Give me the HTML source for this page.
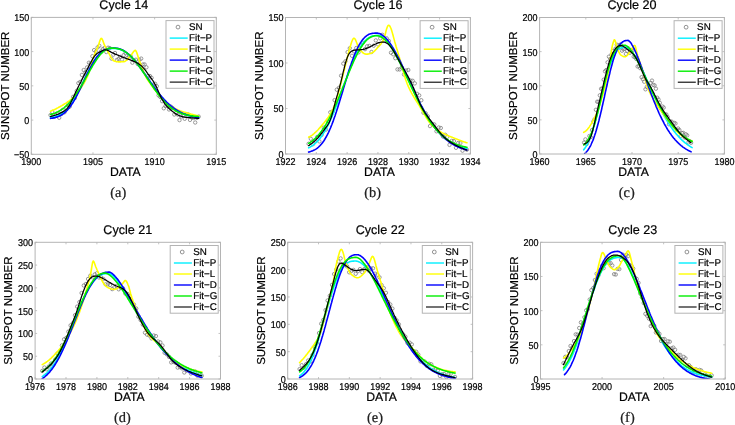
<!DOCTYPE html>
<html><head><meta charset="utf-8"><style>
html,body{margin:0;padding:0;background:#fff;width:735px;height:425px;overflow:hidden}
svg{filter:blur(0.3px)}
svg{display:block;font-family:"Liberation Sans",sans-serif;text-rendering:geometricPrecision;will-change:transform}
text{stroke:#000;stroke-width:0.2px}
</style></head><body>
<svg width="735" height="425" viewBox="0 0 735 425">
<rect width="735" height="425" fill="#fff"/>
<clipPath id="clipa"><rect x="31.3" y="17.4" width="185" height="136.9"/></clipPath>
<g clip-path="url(#clipa)">
<path d="M48.8,115.1a1.7,1.7 0 1,0 3.4,0a1.7,1.7 0 1,0 -3.4,0M50.6,112.0a1.7,1.7 0 1,0 3.4,0a1.7,1.7 0 1,0 -3.4,0M52.3,116.9a1.7,1.7 0 1,0 3.4,0a1.7,1.7 0 1,0 -3.4,0M54.1,115.0a1.7,1.7 0 1,0 3.4,0a1.7,1.7 0 1,0 -3.4,0M55.8,113.3a1.7,1.7 0 1,0 3.4,0a1.7,1.7 0 1,0 -3.4,0M57.5,117.8a1.7,1.7 0 1,0 3.4,0a1.7,1.7 0 1,0 -3.4,0M59.3,114.1a1.7,1.7 0 1,0 3.4,0a1.7,1.7 0 1,0 -3.4,0M61.0,109.9a1.7,1.7 0 1,0 3.4,0a1.7,1.7 0 1,0 -3.4,0M62.8,112.3a1.7,1.7 0 1,0 3.4,0a1.7,1.7 0 1,0 -3.4,0M64.5,107.6a1.7,1.7 0 1,0 3.4,0a1.7,1.7 0 1,0 -3.4,0M66.3,103.6a1.7,1.7 0 1,0 3.4,0a1.7,1.7 0 1,0 -3.4,0M68.0,106.6a1.7,1.7 0 1,0 3.4,0a1.7,1.7 0 1,0 -3.4,0M69.8,101.7a1.7,1.7 0 1,0 3.4,0a1.7,1.7 0 1,0 -3.4,0M71.5,96.8a1.7,1.7 0 1,0 3.4,0a1.7,1.7 0 1,0 -3.4,0M73.2,98.0a1.7,1.7 0 1,0 3.4,0a1.7,1.7 0 1,0 -3.4,0M75.0,90.9a1.7,1.7 0 1,0 3.4,0a1.7,1.7 0 1,0 -3.4,0M76.7,83.1a1.7,1.7 0 1,0 3.4,0a1.7,1.7 0 1,0 -3.4,0M78.5,81.9a1.7,1.7 0 1,0 3.4,0a1.7,1.7 0 1,0 -3.4,0M80.2,74.9a1.7,1.7 0 1,0 3.4,0a1.7,1.7 0 1,0 -3.4,0M82.0,70.0a1.7,1.7 0 1,0 3.4,0a1.7,1.7 0 1,0 -3.4,0M83.7,72.4a1.7,1.7 0 1,0 3.4,0a1.7,1.7 0 1,0 -3.4,0M85.4,67.4a1.7,1.7 0 1,0 3.4,0a1.7,1.7 0 1,0 -3.4,0M87.2,62.7a1.7,1.7 0 1,0 3.4,0a1.7,1.7 0 1,0 -3.4,0M88.9,63.5a1.7,1.7 0 1,0 3.4,0a1.7,1.7 0 1,0 -3.4,0M90.7,56.2a1.7,1.7 0 1,0 3.4,0a1.7,1.7 0 1,0 -3.4,0M92.4,50.1a1.7,1.7 0 1,0 3.4,0a1.7,1.7 0 1,0 -3.4,0M94.2,51.6a1.7,1.7 0 1,0 3.4,0a1.7,1.7 0 1,0 -3.4,0M95.9,47.4a1.7,1.7 0 1,0 3.4,0a1.7,1.7 0 1,0 -3.4,0M97.6,45.8a1.7,1.7 0 1,0 3.4,0a1.7,1.7 0 1,0 -3.4,0M99.4,51.4a1.7,1.7 0 1,0 3.4,0a1.7,1.7 0 1,0 -3.4,0M101.1,49.1a1.7,1.7 0 1,0 3.4,0a1.7,1.7 0 1,0 -3.4,0M102.9,47.9a1.7,1.7 0 1,0 3.4,0a1.7,1.7 0 1,0 -3.4,0M104.6,52.0a1.7,1.7 0 1,0 3.4,0a1.7,1.7 0 1,0 -3.4,0M106.4,47.7a1.7,1.7 0 1,0 3.4,0a1.7,1.7 0 1,0 -3.4,0M108.1,48.1a1.7,1.7 0 1,0 3.4,0a1.7,1.7 0 1,0 -3.4,0M109.8,58.6a1.7,1.7 0 1,0 3.4,0a1.7,1.7 0 1,0 -3.4,0M111.6,54.7a1.7,1.7 0 1,0 3.4,0a1.7,1.7 0 1,0 -3.4,0M113.3,53.0a1.7,1.7 0 1,0 3.4,0a1.7,1.7 0 1,0 -3.4,0M115.1,60.0a1.7,1.7 0 1,0 3.4,0a1.7,1.7 0 1,0 -3.4,0M116.8,59.0a1.7,1.7 0 1,0 3.4,0a1.7,1.7 0 1,0 -3.4,0M118.5,56.9a1.7,1.7 0 1,0 3.4,0a1.7,1.7 0 1,0 -3.4,0M120.3,59.5a1.7,1.7 0 1,0 3.4,0a1.7,1.7 0 1,0 -3.4,0M122.0,55.1a1.7,1.7 0 1,0 3.4,0a1.7,1.7 0 1,0 -3.4,0M123.8,53.3a1.7,1.7 0 1,0 3.4,0a1.7,1.7 0 1,0 -3.4,0M125.5,58.2a1.7,1.7 0 1,0 3.4,0a1.7,1.7 0 1,0 -3.4,0M127.3,56.0a1.7,1.7 0 1,0 3.4,0a1.7,1.7 0 1,0 -3.4,0M129.0,56.4a1.7,1.7 0 1,0 3.4,0a1.7,1.7 0 1,0 -3.4,0M130.7,62.7a1.7,1.7 0 1,0 3.4,0a1.7,1.7 0 1,0 -3.4,0M132.5,60.5a1.7,1.7 0 1,0 3.4,0a1.7,1.7 0 1,0 -3.4,0M134.2,59.7a1.7,1.7 0 1,0 3.4,0a1.7,1.7 0 1,0 -3.4,0M136.0,64.0a1.7,1.7 0 1,0 3.4,0a1.7,1.7 0 1,0 -3.4,0M137.7,59.8a1.7,1.7 0 1,0 3.4,0a1.7,1.7 0 1,0 -3.4,0M139.5,58.6a1.7,1.7 0 1,0 3.4,0a1.7,1.7 0 1,0 -3.4,0M141.2,64.5a1.7,1.7 0 1,0 3.4,0a1.7,1.7 0 1,0 -3.4,0M142.9,64.4a1.7,1.7 0 1,0 3.4,0a1.7,1.7 0 1,0 -3.4,0M144.7,67.3a1.7,1.7 0 1,0 3.4,0a1.7,1.7 0 1,0 -3.4,0M146.4,76.0a1.7,1.7 0 1,0 3.4,0a1.7,1.7 0 1,0 -3.4,0M148.2,76.0a1.7,1.7 0 1,0 3.4,0a1.7,1.7 0 1,0 -3.4,0M149.9,77.8a1.7,1.7 0 1,0 3.4,0a1.7,1.7 0 1,0 -3.4,0M151.7,84.6a1.7,1.7 0 1,0 3.4,0a1.7,1.7 0 1,0 -3.4,0M153.4,83.7a1.7,1.7 0 1,0 3.4,0a1.7,1.7 0 1,0 -3.4,0M155.1,86.2a1.7,1.7 0 1,0 3.4,0a1.7,1.7 0 1,0 -3.4,0M156.9,95.4a1.7,1.7 0 1,0 3.4,0a1.7,1.7 0 1,0 -3.4,0M158.6,97.0a1.7,1.7 0 1,0 3.4,0a1.7,1.7 0 1,0 -3.4,0M160.4,101.2a1.7,1.7 0 1,0 3.4,0a1.7,1.7 0 1,0 -3.4,0M162.1,108.3a1.7,1.7 0 1,0 3.4,0a1.7,1.7 0 1,0 -3.4,0M163.8,106.0a1.7,1.7 0 1,0 3.4,0a1.7,1.7 0 1,0 -3.4,0M165.6,105.5a1.7,1.7 0 1,0 3.4,0a1.7,1.7 0 1,0 -3.4,0M167.3,109.5a1.7,1.7 0 1,0 3.4,0a1.7,1.7 0 1,0 -3.4,0M169.1,106.6a1.7,1.7 0 1,0 3.4,0a1.7,1.7 0 1,0 -3.4,0M170.8,107.9a1.7,1.7 0 1,0 3.4,0a1.7,1.7 0 1,0 -3.4,0M172.6,114.5a1.7,1.7 0 1,0 3.4,0a1.7,1.7 0 1,0 -3.4,0M174.3,113.0a1.7,1.7 0 1,0 3.4,0a1.7,1.7 0 1,0 -3.4,0M176.0,114.6a1.7,1.7 0 1,0 3.4,0a1.7,1.7 0 1,0 -3.4,0M177.8,120.1a1.7,1.7 0 1,0 3.4,0a1.7,1.7 0 1,0 -3.4,0M179.5,116.5a1.7,1.7 0 1,0 3.4,0a1.7,1.7 0 1,0 -3.4,0M181.3,115.3a1.7,1.7 0 1,0 3.4,0a1.7,1.7 0 1,0 -3.4,0M183.0,118.8a1.7,1.7 0 1,0 3.4,0a1.7,1.7 0 1,0 -3.4,0M184.8,114.5a1.7,1.7 0 1,0 3.4,0a1.7,1.7 0 1,0 -3.4,0M186.5,114.5a1.7,1.7 0 1,0 3.4,0a1.7,1.7 0 1,0 -3.4,0M188.3,119.9a1.7,1.7 0 1,0 3.4,0a1.7,1.7 0 1,0 -3.4,0M190.0,117.4a1.7,1.7 0 1,0 3.4,0a1.7,1.7 0 1,0 -3.4,0M191.7,118.0a1.7,1.7 0 1,0 3.4,0a1.7,1.7 0 1,0 -3.4,0M193.5,122.5a1.7,1.7 0 1,0 3.4,0a1.7,1.7 0 1,0 -3.4,0M195.2,117.9a1.7,1.7 0 1,0 3.4,0a1.7,1.7 0 1,0 -3.4,0M197.0,116.6a1.7,1.7 0 1,0 3.4,0a1.7,1.7 0 1,0 -3.4,0" fill="none" stroke="#7a7a7a" stroke-width="0.75"/>
<path d="M50.5,117.5 51.1,117.4 51.6,117.4 52.1,117.3 52.6,117.2 53.1,117.1 53.6,117.0 54.1,116.9 54.7,116.7 55.2,116.6 55.7,116.5 56.2,116.3 56.7,116.1 57.2,115.9 57.7,115.8 58.3,115.5 58.8,115.3 59.3,115.1 59.8,114.8 60.3,114.6 60.8,114.3 61.3,114.0 61.9,113.6 62.4,113.3 62.9,112.9 63.4,112.6 63.9,112.2 64.4,111.8 64.9,111.3 65.5,110.8 66.0,110.4 66.5,109.9 67.0,109.3 67.5,108.8 68.0,108.2 68.5,107.6 69.1,107.0 69.6,106.3 70.1,105.7 70.6,105.0 71.1,104.3 71.6,103.5 72.1,102.8 72.7,102.0 73.2,101.2 73.7,100.3 74.2,99.5 74.7,98.6 75.2,97.7 75.7,96.8 76.3,95.9 76.8,94.9 77.3,94.0 77.8,93.0 78.3,92.0 78.8,91.0 79.3,90.0 79.9,88.9 80.4,87.9 80.9,86.8 81.4,85.8 81.9,84.7 82.4,83.6 82.9,82.6 83.5,81.5 84.0,80.4 84.5,79.3 85.0,78.2 85.5,77.2 86.0,76.1 86.5,75.0 87.1,74.0 87.6,72.9 88.1,71.9 88.6,70.9 89.1,69.9 89.6,68.9 90.1,67.9 90.7,67.0 91.2,66.0 91.7,65.1 92.2,64.2 92.7,63.3 93.2,62.4 93.7,61.6 94.3,60.8 94.8,60.0 95.3,59.2 95.8,58.5 96.3,57.8 96.8,57.1 97.3,56.5 97.9,55.8 98.4,55.2 98.9,54.7 99.4,54.1 99.9,53.6 100.4,53.1 100.9,52.7 101.5,52.2 102.0,51.8 102.5,51.4 103.0,51.1 103.5,50.8 104.0,50.5 104.5,50.2 105.1,49.9 105.6,49.7 106.1,49.5 106.6,49.3 107.1,49.2 107.6,49.0 108.1,48.9 108.7,48.8 109.2,48.7 109.7,48.7 110.2,48.6 110.7,48.6 111.2,48.5 111.7,48.5 112.3,48.5 112.8,48.5 113.3,48.5 113.8,48.5 114.3,48.5 114.8,48.5 115.3,48.5 115.9,48.6 116.4,48.6 116.9,48.7 117.4,48.8 117.9,48.9 118.4,49.0 118.9,49.1 119.5,49.3 120.0,49.4 120.5,49.6 121.0,49.8 121.5,50.0 122.0,50.2 122.5,50.4 123.1,50.7 123.6,50.9 124.1,51.2 124.6,51.5 125.1,51.8 125.6,52.2 126.1,52.5 126.7,52.9 127.2,53.3 127.7,53.7 128.2,54.1 128.7,54.5 129.2,54.9 129.7,55.4 130.3,55.9 130.8,56.4 131.3,56.9 131.8,57.4 132.3,57.9 132.8,58.4 133.3,59.0 133.9,59.6 134.4,60.1 134.9,60.7 135.4,61.3 135.9,62.0 136.4,62.6 136.9,63.2 137.5,63.9 138.0,64.5 138.5,65.2 139.0,65.9 139.5,66.6 140.0,67.3 140.5,68.0 141.1,68.7 141.6,69.4 142.1,70.1 142.6,70.8 143.1,71.5 143.6,72.3 144.1,73.0 144.7,73.8 145.2,74.5 145.7,75.2 146.2,76.0 146.7,76.7 147.2,77.5 147.7,78.2 148.3,79.0 148.8,79.7 149.3,80.5 149.8,81.2 150.3,82.0 150.8,82.7 151.3,83.5 151.9,84.2 152.4,84.9 152.9,85.7 153.4,86.4 153.9,87.1 154.4,87.8 154.9,88.5 155.5,89.3 156.0,90.0 156.5,90.6 157.0,91.3 157.5,92.0 158.0,92.7 158.5,93.3 159.1,94.0 159.6,94.6 160.1,95.3 160.6,95.9 161.1,96.5 161.6,97.1 162.1,97.7 162.7,98.3 163.2,98.9 163.7,99.5 164.2,100.0 164.7,100.6 165.2,101.1 165.7,101.7 166.3,102.2 166.8,102.7 167.3,103.2 167.8,103.7 168.3,104.2 168.8,104.7 169.3,105.1 169.9,105.6 170.4,106.0 170.9,106.4 171.4,106.8 171.9,107.2 172.4,107.6 172.9,108.0 173.5,108.4 174.0,108.8 174.5,109.1 175.0,109.5 175.5,109.8 176.0,110.1 176.5,110.5 177.1,110.8 177.6,111.1 178.1,111.4 178.6,111.6 179.1,111.9 179.6,112.2 180.1,112.4 180.7,112.7 181.2,112.9 181.7,113.1 182.2,113.4 182.7,113.6 183.2,113.8 183.7,114.0 184.3,114.2 184.8,114.4 185.3,114.5 185.8,114.7 186.3,114.9 186.8,115.0 187.3,115.2 187.9,115.3 188.4,115.5 188.9,115.6 189.4,115.7 189.9,115.8 190.4,116.0 190.9,116.1 191.5,116.2 192.0,116.3 192.5,116.4 193.0,116.5 193.5,116.6 194.0,116.7 194.5,116.7 195.1,116.8 195.6,116.9 196.1,117.0 196.6,117.0 197.1,117.1 197.6,117.2 198.1,117.2 198.7,117.3" fill="none" stroke="#00f0ff" stroke-width="1.6" stroke-linejoin="round" stroke-linecap="round"/>
<path d="M50.5,111.2 51.1,111.0 51.6,110.8 52.1,110.6 52.6,110.3 53.1,110.1 53.6,109.9 54.1,109.7 54.7,109.4 55.2,109.2 55.7,108.9 56.2,108.7 56.7,108.4 57.2,108.1 57.7,107.9 58.3,107.6 58.8,107.3 59.3,107.0 59.8,106.8 60.3,106.5 60.8,106.2 61.3,105.9 61.9,105.6 62.4,105.3 62.9,105.0 63.4,104.7 63.9,104.3 64.4,104.0 64.9,103.7 65.5,103.4 66.0,103.1 66.5,102.7 67.0,102.4 67.5,102.0 68.0,101.7 68.5,101.3 69.1,100.9 69.6,100.6 70.1,100.2 70.6,99.8 71.1,99.3 71.6,98.9 72.1,98.5 72.7,98.0 73.2,97.5 73.7,97.1 74.2,96.5 74.7,96.0 75.2,95.4 75.7,94.9 76.3,94.3 76.8,93.6 77.3,93.0 77.8,92.3 78.3,91.7 78.8,91.0 79.3,90.2 79.9,89.5 80.4,88.8 80.9,88.0 81.4,87.2 81.9,86.5 82.4,85.7 82.9,84.8 83.5,84.0 84.0,83.1 84.5,82.2 85.0,81.3 85.5,80.3 86.0,79.3 86.5,78.2 87.1,77.1 87.6,76.0 88.1,74.8 88.6,73.5 89.1,72.0 89.6,70.4 90.1,68.7 90.7,66.9 91.2,65.1 91.7,63.3 92.2,61.5 92.7,59.8 93.2,58.1 93.7,56.6 94.3,55.2 94.8,53.9 95.3,52.7 95.8,51.5 96.3,50.4 96.8,49.3 97.3,48.1 97.9,46.9 98.4,45.6 98.9,44.0 99.4,42.3 99.9,40.8 100.4,39.5 100.9,38.6 101.5,38.4 102.0,38.9 102.5,39.8 103.0,41.1 103.5,42.5 104.0,43.9 104.5,45.2 105.1,46.2 105.6,47.2 106.1,48.3 106.6,49.3 107.1,50.2 107.6,51.2 108.1,52.1 108.7,53.0 109.2,53.9 109.7,54.9 110.2,55.8 110.7,56.8 111.2,57.7 111.7,58.5 112.3,59.3 112.8,59.9 113.3,60.5 113.8,60.8 114.3,61.0 114.8,61.2 115.3,61.3 115.9,61.5 116.4,61.6 116.9,61.7 117.4,61.8 117.9,61.8 118.4,61.9 118.9,61.9 119.5,61.9 120.0,61.9 120.5,61.9 121.0,61.8 121.5,61.8 122.0,61.8 122.5,61.7 123.1,61.7 123.6,61.7 124.1,61.6 124.6,61.5 125.1,61.2 125.6,60.9 126.1,60.5 126.7,60.1 127.2,59.6 127.7,59.0 128.2,58.4 128.7,57.8 129.2,57.2 129.7,56.6 130.3,56.1 130.8,55.5 131.3,54.9 131.8,54.3 132.3,53.5 132.8,52.7 133.3,52.0 133.9,51.3 134.4,50.8 134.9,50.5 135.4,50.4 135.9,50.9 136.4,51.8 136.9,53.1 137.5,54.7 138.0,56.4 138.5,58.1 139.0,59.7 139.5,61.1 140.0,62.4 140.5,63.7 141.1,65.0 141.6,66.4 142.1,67.7 142.6,69.0 143.1,70.4 143.6,71.7 144.1,72.9 144.7,74.1 145.2,75.3 145.7,76.4 146.2,77.4 146.7,78.3 147.2,79.2 147.7,80.0 148.3,80.8 148.8,81.5 149.3,82.2 149.8,82.9 150.3,83.6 150.8,84.3 151.3,85.0 151.9,85.8 152.4,86.5 152.9,87.1 153.4,87.8 153.9,88.5 154.4,89.2 154.9,89.9 155.5,90.5 156.0,91.2 156.5,91.8 157.0,92.4 157.5,93.1 158.0,93.7 158.5,94.3 159.1,94.9 159.6,95.4 160.1,96.0 160.6,96.6 161.1,97.1 161.6,97.7 162.1,98.3 162.7,98.8 163.2,99.4 163.7,99.9 164.2,100.4 164.7,100.9 165.2,101.4 165.7,101.9 166.3,102.4 166.8,102.9 167.3,103.3 167.8,103.8 168.3,104.2 168.8,104.6 169.3,105.0 169.9,105.3 170.4,105.7 170.9,106.0 171.4,106.4 171.9,106.7 172.4,107.0 172.9,107.3 173.5,107.6 174.0,107.9 174.5,108.2 175.0,108.5 175.5,108.8 176.0,109.0 176.5,109.3 177.1,109.5 177.6,109.8 178.1,110.0 178.6,110.2 179.1,110.4 179.6,110.6 180.1,110.8 180.7,111.0 181.2,111.2 181.7,111.4 182.2,111.5 182.7,111.7 183.2,111.9 183.7,112.0 184.3,112.2 184.8,112.3 185.3,112.5 185.8,112.6 186.3,112.8 186.8,112.9 187.3,113.1 187.9,113.2 188.4,113.4 188.9,113.5 189.4,113.6 189.9,113.8 190.4,113.9 190.9,114.1 191.5,114.2 192.0,114.3 192.5,114.5 193.0,114.6 193.5,114.7 194.0,114.9 194.5,115.0 195.1,115.1 195.6,115.2 196.1,115.4 196.6,115.5 197.1,115.6 197.6,115.7 198.1,115.9 198.7,116.0" fill="none" stroke="#ffff00" stroke-width="1.6" stroke-linejoin="round" stroke-linecap="round"/>
<path d="M50.5,118.4 51.1,118.3 51.6,118.3 52.1,118.2 52.6,118.1 53.1,118.0 53.6,117.9 54.1,117.8 54.7,117.7 55.2,117.6 55.7,117.4 56.2,117.3 56.7,117.1 57.2,117.0 57.7,116.8 58.3,116.6 58.8,116.4 59.3,116.1 59.8,115.9 60.3,115.6 60.8,115.4 61.3,115.1 61.9,114.8 62.4,114.4 62.9,114.1 63.4,113.7 63.9,113.3 64.4,112.9 64.9,112.4 65.5,112.0 66.0,111.5 66.5,111.0 67.0,110.5 67.5,109.9 68.0,109.3 68.5,108.7 69.1,108.1 69.6,107.4 70.1,106.7 70.6,106.0 71.1,105.3 71.6,104.5 72.1,103.8 72.7,103.0 73.2,102.1 73.7,101.3 74.2,100.4 74.7,99.5 75.2,98.6 75.7,97.7 76.3,96.7 76.8,95.7 77.3,94.7 77.8,93.7 78.3,92.7 78.8,91.7 79.3,90.6 79.9,89.5 80.4,88.5 80.9,87.4 81.4,86.3 81.9,85.2 82.4,84.1 82.9,83.0 83.5,81.9 84.0,80.8 84.5,79.7 85.0,78.5 85.5,77.4 86.0,76.4 86.5,75.3 87.1,74.2 87.6,73.1 88.1,72.1 88.6,71.0 89.1,70.0 89.6,69.0 90.1,68.0 90.7,67.0 91.2,66.1 91.7,65.1 92.2,64.2 92.7,63.3 93.2,62.4 93.7,61.6 94.3,60.8 94.8,60.0 95.3,59.2 95.8,58.5 96.3,57.7 96.8,57.1 97.3,56.4 97.9,55.8 98.4,55.2 98.9,54.6 99.4,54.0 99.9,53.5 100.4,53.0 100.9,52.6 101.5,52.1 102.0,51.7 102.5,51.3 103.0,51.0 103.5,50.6 104.0,50.3 104.5,50.0 105.1,49.8 105.6,49.6 106.1,49.3 106.6,49.1 107.1,49.0 107.6,48.8 108.1,48.7 108.7,48.6 109.2,48.5 109.7,48.4 110.2,48.3 110.7,48.3 111.2,48.2 111.7,48.2 112.3,48.2 112.8,48.1 113.3,48.1 113.8,48.1 114.3,48.1 114.8,48.1 115.3,48.1 115.9,48.2 116.4,48.2 116.9,48.3 117.4,48.3 117.9,48.4 118.4,48.5 118.9,48.7 119.5,48.8 120.0,49.0 120.5,49.2 121.0,49.4 121.5,49.6 122.0,49.8 122.5,50.1 123.1,50.3 123.6,50.6 124.1,50.9 124.6,51.2 125.1,51.6 125.6,51.9 126.1,52.3 126.7,52.7 127.2,53.1 127.7,53.5 128.2,53.9 128.7,54.4 129.2,54.8 129.7,55.3 130.3,55.8 130.8,56.3 131.3,56.8 131.8,57.4 132.3,57.9 132.8,58.5 133.3,59.0 133.9,59.6 134.4,60.2 134.9,60.8 135.4,61.5 135.9,62.1 136.4,62.7 136.9,63.4 137.5,64.0 138.0,64.7 138.5,65.4 139.0,66.0 139.5,66.7 140.0,67.4 140.5,68.1 141.1,68.8 141.6,69.5 142.1,70.3 142.6,71.0 143.1,71.7 143.6,72.4 144.1,73.2 144.7,73.9 145.2,74.6 145.7,75.4 146.2,76.1 146.7,76.8 147.2,77.6 147.7,78.3 148.3,79.0 148.8,79.8 149.3,80.5 149.8,81.2 150.3,82.0 150.8,82.7 151.3,83.4 151.9,84.1 152.4,84.8 152.9,85.6 153.4,86.3 153.9,87.0 154.4,87.7 154.9,88.3 155.5,89.0 156.0,89.7 156.5,90.4 157.0,91.0 157.5,91.7 158.0,92.4 158.5,93.0 159.1,93.6 159.6,94.3 160.1,94.9 160.6,95.5 161.1,96.1 161.6,96.7 162.1,97.3 162.7,97.9 163.2,98.4 163.7,99.0 164.2,99.6 164.7,100.1 165.2,100.6 165.7,101.2 166.3,101.7 166.8,102.2 167.3,102.7 167.8,103.2 168.3,103.6 168.8,104.1 169.3,104.6 169.9,105.0 170.4,105.4 170.9,105.9 171.4,106.3 171.9,106.7 172.4,107.1 172.9,107.5 173.5,107.9 174.0,108.2 174.5,108.6 175.0,109.0 175.5,109.3 176.0,109.6 176.5,110.0 177.1,110.3 177.6,110.6 178.1,110.9 178.6,111.2 179.1,111.5 179.6,111.8 180.1,112.0 180.7,112.3 181.2,112.5 181.7,112.8 182.2,113.0 182.7,113.3 183.2,113.5 183.7,113.7 184.3,113.9 184.8,114.1 185.3,114.3 185.8,114.5 186.3,114.7 186.8,114.9 187.3,115.0 187.9,115.2 188.4,115.4 188.9,115.5 189.4,115.7 189.9,115.8 190.4,115.9 190.9,116.1 191.5,116.2 192.0,116.3 192.5,116.4 193.0,116.6 193.5,116.7 194.0,116.8 194.5,116.9 195.1,117.0 195.6,117.1 196.1,117.2 196.6,117.2 197.1,117.3 197.6,117.4 198.1,117.5 198.7,117.5" fill="none" stroke="#0000ff" stroke-width="1.6" stroke-linejoin="round" stroke-linecap="round"/>
<path d="M50.5,114.6 51.1,114.4 51.6,114.3 52.1,114.1 52.6,114.0 53.1,113.8 53.6,113.6 54.1,113.4 54.7,113.2 55.2,113.0 55.7,112.8 56.2,112.6 56.7,112.4 57.2,112.1 57.7,111.9 58.3,111.6 58.8,111.3 59.3,111.0 59.8,110.7 60.3,110.4 60.8,110.1 61.3,109.8 61.9,109.4 62.4,109.0 62.9,108.7 63.4,108.3 63.9,107.9 64.4,107.5 64.9,107.0 65.5,106.6 66.0,106.1 66.5,105.6 67.0,105.2 67.5,104.7 68.0,104.1 68.5,103.6 69.1,103.1 69.6,102.5 70.1,101.9 70.6,101.3 71.1,100.7 71.6,100.1 72.1,99.4 72.7,98.8 73.2,98.1 73.7,97.4 74.2,96.7 74.7,96.0 75.2,95.3 75.7,94.5 76.3,93.8 76.8,93.0 77.3,92.2 77.8,91.4 78.3,90.6 78.8,89.8 79.3,89.0 79.9,88.1 80.4,87.3 80.9,86.4 81.4,85.6 81.9,84.7 82.4,83.8 82.9,82.9 83.5,82.0 84.0,81.1 84.5,80.2 85.0,79.3 85.5,78.4 86.0,77.5 86.5,76.5 87.1,75.6 87.6,74.7 88.1,73.8 88.6,72.9 89.1,71.9 89.6,71.0 90.1,70.1 90.7,69.2 91.2,68.3 91.7,67.5 92.2,66.6 92.7,65.7 93.2,64.9 93.7,64.0 94.3,63.2 94.8,62.4 95.3,61.6 95.8,60.8 96.3,60.0 96.8,59.3 97.3,58.5 97.9,57.8 98.4,57.1 98.9,56.4 99.4,55.8 99.9,55.1 100.4,54.5 100.9,54.0 101.5,53.4 102.0,52.9 102.5,52.4 103.0,51.9 103.5,51.4 104.0,51.0 104.5,50.6 105.1,50.2 105.6,49.9 106.1,49.6 106.6,49.3 107.1,49.0 107.6,48.8 108.1,48.6 108.7,48.5 109.2,48.3 109.7,48.2 110.2,48.1 110.7,48.1 111.2,48.1 111.7,48.1 112.3,48.1 112.8,48.1 113.3,48.1 113.8,48.1 114.3,48.2 114.8,48.2 115.3,48.2 115.9,48.3 116.4,48.4 116.9,48.5 117.4,48.6 117.9,48.7 118.4,48.8 118.9,48.9 119.5,49.1 120.0,49.2 120.5,49.4 121.0,49.6 121.5,49.8 122.0,50.1 122.5,50.3 123.1,50.5 123.6,50.8 124.1,51.1 124.6,51.4 125.1,51.7 125.6,52.1 126.1,52.4 126.7,52.8 127.2,53.2 127.7,53.6 128.2,54.0 128.7,54.4 129.2,54.9 129.7,55.3 130.3,55.8 130.8,56.3 131.3,56.8 131.8,57.3 132.3,57.9 132.8,58.4 133.3,59.0 133.9,59.6 134.4,60.2 134.9,60.8 135.4,61.4 135.9,62.1 136.4,62.7 136.9,63.4 137.5,64.0 138.0,64.7 138.5,65.4 139.0,66.1 139.5,66.8 140.0,67.5 140.5,68.3 141.1,69.0 141.6,69.7 142.1,70.5 142.6,71.3 143.1,72.0 143.6,72.8 144.1,73.5 144.7,74.3 145.2,75.1 145.7,75.9 146.2,76.7 146.7,77.4 147.2,78.2 147.7,79.0 148.3,79.8 148.8,80.6 149.3,81.4 149.8,82.2 150.3,82.9 150.8,83.7 151.3,84.5 151.9,85.2 152.4,86.0 152.9,86.8 153.4,87.5 153.9,88.3 154.4,89.0 154.9,89.8 155.5,90.5 156.0,91.2 156.5,91.9 157.0,92.6 157.5,93.3 158.0,94.0 158.5,94.7 159.1,95.3 159.6,96.0 160.1,96.6 160.6,97.3 161.1,97.9 161.6,98.5 162.1,99.1 162.7,99.7 163.2,100.3 163.7,100.9 164.2,101.4 164.7,102.0 165.2,102.5 165.7,103.0 166.3,103.5 166.8,104.0 167.3,104.5 167.8,105.0 168.3,105.5 168.8,105.9 169.3,106.3 169.9,106.8 170.4,107.2 170.9,107.6 171.4,108.0 171.9,108.3 172.4,108.7 172.9,109.1 173.5,109.4 174.0,109.7 174.5,110.1 175.0,110.4 175.5,110.7 176.0,111.0 176.5,111.2 177.1,111.5 177.6,111.8 178.1,112.0 178.6,112.3 179.1,112.5 179.6,112.7 180.1,112.9 180.7,113.1 181.2,113.3 181.7,113.5 182.2,113.7 182.7,113.9 183.2,114.0 183.7,114.2 184.3,114.3 184.8,114.5 185.3,114.6 185.8,114.7 186.3,114.9 186.8,115.0 187.3,115.1 187.9,115.2 188.4,115.3 188.9,115.4 189.4,115.5 189.9,115.6 190.4,115.7 190.9,115.7 191.5,115.8 192.0,115.9 192.5,115.9 193.0,116.0 193.5,116.1 194.0,116.1 194.5,116.2 195.1,116.2 195.6,116.3 196.1,116.3 196.6,116.3 197.1,116.4 197.6,116.4 198.1,116.5 198.7,116.5" fill="none" stroke="#00ee00" stroke-width="1.6" stroke-linejoin="round" stroke-linecap="round"/>
<path d="M50.5,116.5 51.1,116.4 51.6,116.2 52.1,116.1 52.6,116.0 53.1,115.8 53.6,115.7 54.1,115.5 54.7,115.4 55.2,115.2 55.7,115.0 56.2,114.9 56.7,114.7 57.2,114.5 57.7,114.3 58.3,114.1 58.8,113.9 59.3,113.7 59.8,113.4 60.3,113.2 60.8,112.9 61.3,112.7 61.9,112.4 62.4,112.1 62.9,111.8 63.4,111.5 63.9,111.2 64.4,110.8 64.9,110.5 65.5,110.1 66.0,109.6 66.5,109.1 67.0,108.6 67.5,108.0 68.0,107.4 68.5,106.7 69.1,105.9 69.6,105.0 70.1,104.1 70.6,103.1 71.1,102.0 71.6,101.0 72.1,99.9 72.7,98.7 73.2,97.6 73.7,96.5 74.2,95.4 74.7,94.3 75.2,93.2 75.7,92.1 76.3,91.0 76.8,90.0 77.3,88.9 77.8,87.9 78.3,86.8 78.8,85.8 79.3,84.7 79.9,83.7 80.4,82.7 80.9,81.7 81.4,80.6 81.9,79.6 82.4,78.6 82.9,77.6 83.5,76.6 84.0,75.6 84.5,74.6 85.0,73.6 85.5,72.6 86.0,71.6 86.5,70.6 87.1,69.6 87.6,68.6 88.1,67.6 88.6,66.6 89.1,65.6 89.6,64.6 90.1,63.6 90.7,62.6 91.2,61.7 91.7,60.7 92.2,59.8 92.7,58.9 93.2,58.1 93.7,57.3 94.3,56.5 94.8,55.8 95.3,55.2 95.8,54.7 96.3,54.2 96.8,53.7 97.3,53.3 97.9,53.0 98.4,52.7 98.9,52.4 99.4,52.1 99.9,51.9 100.4,51.6 100.9,51.3 101.5,51.1 102.0,50.8 102.5,50.6 103.0,50.4 103.5,50.2 104.0,50.0 104.5,49.9 105.1,49.9 105.6,49.9 106.1,49.9 106.6,50.0 107.1,50.1 107.6,50.3 108.1,50.5 108.7,50.8 109.2,51.1 109.7,51.3 110.2,51.6 110.7,51.9 111.2,52.2 111.7,52.5 112.3,52.7 112.8,53.0 113.3,53.2 113.8,53.4 114.3,53.7 114.8,53.9 115.3,54.1 115.9,54.3 116.4,54.5 116.9,54.7 117.4,55.0 117.9,55.2 118.4,55.4 118.9,55.6 119.5,55.8 120.0,56.0 120.5,56.2 121.0,56.4 121.5,56.6 122.0,56.9 122.5,57.1 123.1,57.3 123.6,57.5 124.1,57.7 124.6,57.9 125.1,58.0 125.6,58.2 126.1,58.4 126.7,58.6 127.2,58.8 127.7,59.0 128.2,59.1 128.7,59.3 129.2,59.5 129.7,59.7 130.3,59.9 130.8,60.1 131.3,60.3 131.8,60.5 132.3,60.7 132.8,60.9 133.3,61.1 133.9,61.3 134.4,61.5 134.9,61.7 135.4,62.0 135.9,62.2 136.4,62.5 136.9,62.8 137.5,63.1 138.0,63.4 138.5,63.7 139.0,64.0 139.5,64.4 140.0,64.8 140.5,65.2 141.1,65.6 141.6,66.1 142.1,66.5 142.6,67.1 143.1,67.6 143.6,68.2 144.1,68.8 144.7,69.4 145.2,70.0 145.7,70.7 146.2,71.4 146.7,72.1 147.2,72.8 147.7,73.5 148.3,74.3 148.8,75.0 149.3,75.7 149.8,76.4 150.3,77.1 150.8,77.8 151.3,78.5 151.9,79.2 152.4,80.0 152.9,80.7 153.4,81.5 153.9,82.3 154.4,83.2 154.9,84.1 155.5,85.1 156.0,86.1 156.5,87.1 157.0,88.3 157.5,89.4 158.0,90.6 158.5,91.8 159.1,93.0 159.6,94.1 160.1,95.3 160.6,96.4 161.1,97.5 161.6,98.5 162.1,99.4 162.7,100.3 163.2,101.2 163.7,102.0 164.2,102.8 164.7,103.6 165.2,104.3 165.7,104.9 166.3,105.6 166.8,106.2 167.3,106.7 167.8,107.3 168.3,107.8 168.8,108.3 169.3,108.8 169.9,109.3 170.4,109.7 170.9,110.1 171.4,110.5 171.9,111.0 172.4,111.3 172.9,111.7 173.5,112.1 174.0,112.5 174.5,112.8 175.0,113.2 175.5,113.5 176.0,113.9 176.5,114.2 177.1,114.5 177.6,114.8 178.1,115.0 178.6,115.3 179.1,115.5 179.6,115.8 180.1,116.0 180.7,116.2 181.2,116.3 181.7,116.5 182.2,116.6 182.7,116.8 183.2,116.9 183.7,117.0 184.3,117.1 184.8,117.1 185.3,117.2 185.8,117.3 186.3,117.3 186.8,117.4 187.3,117.5 187.9,117.5 188.4,117.5 188.9,117.6 189.4,117.6 189.9,117.7 190.4,117.7 190.9,117.8 191.5,117.8 192.0,117.9 192.5,117.9 193.0,117.9 193.5,118.0 194.0,118.0 194.5,118.1 195.1,118.1 195.6,118.2 196.1,118.2 196.6,118.3 197.1,118.3 197.6,118.3 198.1,118.4 198.7,118.4" fill="none" stroke="#000000" stroke-width="1.25" stroke-linejoin="round" stroke-linecap="round"/>
</g>
<rect x="31.3" y="17.4" width="185" height="136.9" fill="none" stroke="#b4b4b4" stroke-width="1"/>
<path d="M31.3,154.3 v-2 M31.3,17.4 v2" stroke="#b4b4b4" stroke-width="0.8"/>
<text transform="translate(31.3,165.3) scale(1,1.1)" text-anchor="middle" font-size="9" fill="#000">1900</text>
<path d="M92.97,154.3 v-2 M92.97,17.4 v2" stroke="#b4b4b4" stroke-width="0.8"/>
<text transform="translate(92.97,165.3) scale(1,1.1)" text-anchor="middle" font-size="9" fill="#000">1905</text>
<path d="M154.63,154.3 v-2 M154.63,17.4 v2" stroke="#b4b4b4" stroke-width="0.8"/>
<text transform="translate(154.63,165.3) scale(1,1.1)" text-anchor="middle" font-size="9" fill="#000">1910</text>
<path d="M216.3,154.3 v-2 M216.3,17.4 v2" stroke="#b4b4b4" stroke-width="0.8"/>
<text transform="translate(216.3,165.3) scale(1,1.1)" text-anchor="middle" font-size="9" fill="#000">1915</text>
<path d="M31.3,154.3 h2 M216.3,154.3 h-2" stroke="#b4b4b4" stroke-width="0.8"/>
<text transform="translate(29.3,158.2) scale(1,1.1)" text-anchor="end" font-size="9" fill="#000">−50</text>
<path d="M31.3,120.08 h2 M216.3,120.08 h-2" stroke="#b4b4b4" stroke-width="0.8"/>
<text transform="translate(29.3,123.98) scale(1,1.1)" text-anchor="end" font-size="9" fill="#000">0</text>
<path d="M31.3,85.85 h2 M216.3,85.85 h-2" stroke="#b4b4b4" stroke-width="0.8"/>
<text transform="translate(29.3,89.75) scale(1,1.1)" text-anchor="end" font-size="9" fill="#000">50</text>
<path d="M31.3,51.62 h2 M216.3,51.62 h-2" stroke="#b4b4b4" stroke-width="0.8"/>
<text transform="translate(29.3,55.52) scale(1,1.1)" text-anchor="end" font-size="9" fill="#000">100</text>
<path d="M31.3,17.4 h2 M216.3,17.4 h-2" stroke="#b4b4b4" stroke-width="0.8"/>
<text transform="translate(29.3,21.3) scale(1,1.1)" text-anchor="end" font-size="9" fill="#000">150</text>
<text x="123.8" y="9.3" text-anchor="middle" font-size="12.6" fill="#000">Cycle 14</text>
<text x="125.3" y="176.3" text-anchor="middle" font-size="12.2" fill="#000">DATA</text>
<text transform="translate(8.5,85.85) rotate(-90)" text-anchor="middle" font-size="11.5" fill="#000">SUNSPOT NUMBER</text>
<text x="118.3" y="197.4" text-anchor="middle" font-family="Liberation Serif, serif" font-size="14.4" fill="#222">(a)</text>
<rect x="166" y="20.6" width="48" height="67.7" fill="#fff" stroke="#b4b4b4" stroke-width="1"/>
<circle cx="178" cy="27.1" r="1.9" fill="none" stroke="#777" stroke-width="0.8"/>
<text transform="translate(189,30) scale(1,1)" font-size="9.8" fill="#000">SN</text>
<path d="M169.7,38.1 h18" stroke="#00f0ff" stroke-width="1.4"/>
<text transform="translate(189,41) scale(1,1)" font-size="9.8" fill="#000">Fit−P</text>
<path d="M169.7,49.1 h18" stroke="#ffff00" stroke-width="1.4"/>
<text transform="translate(189,52) scale(1,1)" font-size="9.8" fill="#000">Fit−L</text>
<path d="M169.7,60.1 h18" stroke="#0000ff" stroke-width="1.4"/>
<text transform="translate(189,63) scale(1,1)" font-size="9.8" fill="#000">Fit−D</text>
<path d="M169.7,71.1 h18" stroke="#00ee00" stroke-width="1.4"/>
<text transform="translate(189,74) scale(1,1)" font-size="9.8" fill="#000">Fit−G</text>
<path d="M169.7,82.1 h18" stroke="#000000" stroke-width="1.1"/>
<text transform="translate(189,85) scale(1,1)" font-size="9.8" fill="#000">Fit−C</text>
<clipPath id="clipb"><rect x="285.5" y="17.5" width="184.9" height="136.5"/></clipPath>
<g clip-path="url(#clipb)">
<path d="M306.9,143.8a1.7,1.7 0 1,0 3.4,0a1.7,1.7 0 1,0 -3.4,0M309.1,138.8a1.7,1.7 0 1,0 3.4,0a1.7,1.7 0 1,0 -3.4,0M311.2,144.2a1.7,1.7 0 1,0 3.4,0a1.7,1.7 0 1,0 -3.4,0M313.4,140.7a1.7,1.7 0 1,0 3.4,0a1.7,1.7 0 1,0 -3.4,0M315.6,136.9a1.7,1.7 0 1,0 3.4,0a1.7,1.7 0 1,0 -3.4,0M317.7,141.4a1.7,1.7 0 1,0 3.4,0a1.7,1.7 0 1,0 -3.4,0M319.9,134.9a1.7,1.7 0 1,0 3.4,0a1.7,1.7 0 1,0 -3.4,0M322.1,127.7a1.7,1.7 0 1,0 3.4,0a1.7,1.7 0 1,0 -3.4,0M324.2,129.6a1.7,1.7 0 1,0 3.4,0a1.7,1.7 0 1,0 -3.4,0M326.4,121.2a1.7,1.7 0 1,0 3.4,0a1.7,1.7 0 1,0 -3.4,0M328.6,112.3a1.7,1.7 0 1,0 3.4,0a1.7,1.7 0 1,0 -3.4,0M330.8,111.6a1.7,1.7 0 1,0 3.4,0a1.7,1.7 0 1,0 -3.4,0M332.9,100.1a1.7,1.7 0 1,0 3.4,0a1.7,1.7 0 1,0 -3.4,0M335.1,89.7a1.7,1.7 0 1,0 3.4,0a1.7,1.7 0 1,0 -3.4,0M337.3,87.8a1.7,1.7 0 1,0 3.4,0a1.7,1.7 0 1,0 -3.4,0M339.4,75.7a1.7,1.7 0 1,0 3.4,0a1.7,1.7 0 1,0 -3.4,0M341.6,63.6a1.7,1.7 0 1,0 3.4,0a1.7,1.7 0 1,0 -3.4,0M343.8,61.2a1.7,1.7 0 1,0 3.4,0a1.7,1.7 0 1,0 -3.4,0M345.9,52.1a1.7,1.7 0 1,0 3.4,0a1.7,1.7 0 1,0 -3.4,0M348.1,48.2a1.7,1.7 0 1,0 3.4,0a1.7,1.7 0 1,0 -3.4,0M350.3,55.8a1.7,1.7 0 1,0 3.4,0a1.7,1.7 0 1,0 -3.4,0M352.4,51.4a1.7,1.7 0 1,0 3.4,0a1.7,1.7 0 1,0 -3.4,0M354.6,48.0a1.7,1.7 0 1,0 3.4,0a1.7,1.7 0 1,0 -3.4,0M356.8,52.4a1.7,1.7 0 1,0 3.4,0a1.7,1.7 0 1,0 -3.4,0M358.9,45.7a1.7,1.7 0 1,0 3.4,0a1.7,1.7 0 1,0 -3.4,0M361.1,42.8a1.7,1.7 0 1,0 3.4,0a1.7,1.7 0 1,0 -3.4,0M363.3,49.2a1.7,1.7 0 1,0 3.4,0a1.7,1.7 0 1,0 -3.4,0M365.4,46.3a1.7,1.7 0 1,0 3.4,0a1.7,1.7 0 1,0 -3.4,0M367.6,45.9a1.7,1.7 0 1,0 3.4,0a1.7,1.7 0 1,0 -3.4,0M369.8,52.0a1.7,1.7 0 1,0 3.4,0a1.7,1.7 0 1,0 -3.4,0M372.0,45.7a1.7,1.7 0 1,0 3.4,0a1.7,1.7 0 1,0 -3.4,0M374.1,40.4a1.7,1.7 0 1,0 3.4,0a1.7,1.7 0 1,0 -3.4,0M376.3,44.4a1.7,1.7 0 1,0 3.4,0a1.7,1.7 0 1,0 -3.4,0M378.5,38.4a1.7,1.7 0 1,0 3.4,0a1.7,1.7 0 1,0 -3.4,0M380.6,34.8a1.7,1.7 0 1,0 3.4,0a1.7,1.7 0 1,0 -3.4,0M382.8,40.6a1.7,1.7 0 1,0 3.4,0a1.7,1.7 0 1,0 -3.4,0M385.0,38.4a1.7,1.7 0 1,0 3.4,0a1.7,1.7 0 1,0 -3.4,0M387.1,40.9a1.7,1.7 0 1,0 3.4,0a1.7,1.7 0 1,0 -3.4,0M389.3,52.7a1.7,1.7 0 1,0 3.4,0a1.7,1.7 0 1,0 -3.4,0M391.5,54.3a1.7,1.7 0 1,0 3.4,0a1.7,1.7 0 1,0 -3.4,0M393.6,58.2a1.7,1.7 0 1,0 3.4,0a1.7,1.7 0 1,0 -3.4,0M395.8,69.4a1.7,1.7 0 1,0 3.4,0a1.7,1.7 0 1,0 -3.4,0M398.0,69.4a1.7,1.7 0 1,0 3.4,0a1.7,1.7 0 1,0 -3.4,0M400.1,67.6a1.7,1.7 0 1,0 3.4,0a1.7,1.7 0 1,0 -3.4,0M402.3,74.5a1.7,1.7 0 1,0 3.4,0a1.7,1.7 0 1,0 -3.4,0M404.5,70.5a1.7,1.7 0 1,0 3.4,0a1.7,1.7 0 1,0 -3.4,0M406.6,70.0a1.7,1.7 0 1,0 3.4,0a1.7,1.7 0 1,0 -3.4,0M408.8,80.5a1.7,1.7 0 1,0 3.4,0a1.7,1.7 0 1,0 -3.4,0M411.0,80.8a1.7,1.7 0 1,0 3.4,0a1.7,1.7 0 1,0 -3.4,0M413.1,83.4a1.7,1.7 0 1,0 3.4,0a1.7,1.7 0 1,0 -3.4,0M415.3,93.8a1.7,1.7 0 1,0 3.4,0a1.7,1.7 0 1,0 -3.4,0M417.5,95.4a1.7,1.7 0 1,0 3.4,0a1.7,1.7 0 1,0 -3.4,0M419.6,100.2a1.7,1.7 0 1,0 3.4,0a1.7,1.7 0 1,0 -3.4,0M421.8,112.8a1.7,1.7 0 1,0 3.4,0a1.7,1.7 0 1,0 -3.4,0M424.0,113.3a1.7,1.7 0 1,0 3.4,0a1.7,1.7 0 1,0 -3.4,0M426.1,116.3a1.7,1.7 0 1,0 3.4,0a1.7,1.7 0 1,0 -3.4,0M428.3,126.1a1.7,1.7 0 1,0 3.4,0a1.7,1.7 0 1,0 -3.4,0M430.5,124.1a1.7,1.7 0 1,0 3.4,0a1.7,1.7 0 1,0 -3.4,0M432.6,124.4a1.7,1.7 0 1,0 3.4,0a1.7,1.7 0 1,0 -3.4,0M434.8,131.3a1.7,1.7 0 1,0 3.4,0a1.7,1.7 0 1,0 -3.4,0M437.0,127.5a1.7,1.7 0 1,0 3.4,0a1.7,1.7 0 1,0 -3.4,0M439.1,128.0a1.7,1.7 0 1,0 3.4,0a1.7,1.7 0 1,0 -3.4,0M441.3,136.5a1.7,1.7 0 1,0 3.4,0a1.7,1.7 0 1,0 -3.4,0M443.5,134.8a1.7,1.7 0 1,0 3.4,0a1.7,1.7 0 1,0 -3.4,0M445.6,136.8a1.7,1.7 0 1,0 3.4,0a1.7,1.7 0 1,0 -3.4,0M447.8,144.9a1.7,1.7 0 1,0 3.4,0a1.7,1.7 0 1,0 -3.4,0M450.0,140.9a1.7,1.7 0 1,0 3.4,0a1.7,1.7 0 1,0 -3.4,0M452.2,141.1a1.7,1.7 0 1,0 3.4,0a1.7,1.7 0 1,0 -3.4,0M454.3,147.8a1.7,1.7 0 1,0 3.4,0a1.7,1.7 0 1,0 -3.4,0M456.5,143.0a1.7,1.7 0 1,0 3.4,0a1.7,1.7 0 1,0 -3.4,0M458.7,143.0a1.7,1.7 0 1,0 3.4,0a1.7,1.7 0 1,0 -3.4,0M460.8,150.7a1.7,1.7 0 1,0 3.4,0a1.7,1.7 0 1,0 -3.4,0M463.0,148.1a1.7,1.7 0 1,0 3.4,0a1.7,1.7 0 1,0 -3.4,0M465.2,149.7a1.7,1.7 0 1,0 3.4,0a1.7,1.7 0 1,0 -3.4,0" fill="none" stroke="#7a7a7a" stroke-width="0.75"/>
<path d="M308.6,147.8 309.3,147.5 309.9,147.2 310.5,146.8 311.2,146.4 311.8,146.0 312.5,145.6 313.1,145.1 313.8,144.6 314.4,144.1 315.0,143.6 315.7,143.0 316.3,142.4 317.0,141.8 317.6,141.1 318.3,140.4 318.9,139.6 319.5,138.9 320.2,138.1 320.8,137.2 321.5,136.3 322.1,135.4 322.8,134.4 323.4,133.4 324.1,132.4 324.7,131.3 325.3,130.2 326.0,129.1 326.6,127.9 327.3,126.7 327.9,125.4 328.6,124.1 329.2,122.8 329.8,121.4 330.5,120.0 331.1,118.5 331.8,117.1 332.4,115.6 333.1,114.0 333.7,112.5 334.3,110.9 335.0,109.2 335.6,107.6 336.3,105.9 336.9,104.2 337.6,102.5 338.2,100.8 338.8,99.1 339.5,97.3 340.1,95.5 340.8,93.7 341.4,92.0 342.1,90.2 342.7,88.4 343.3,86.6 344.0,84.8 344.6,83.0 345.3,81.2 345.9,79.5 346.6,77.7 347.2,76.0 347.9,74.2 348.5,72.5 349.1,70.9 349.8,69.2 350.4,67.6 351.1,66.0 351.7,64.4 352.4,62.8 353.0,61.3 353.6,59.8 354.3,58.4 354.9,57.0 355.6,55.6 356.2,54.3 356.9,53.0 357.5,51.8 358.1,50.6 358.8,49.5 359.4,48.4 360.1,47.3 360.7,46.3 361.4,45.4 362.0,44.4 362.6,43.6 363.3,42.8 363.9,42.0 364.6,41.3 365.2,40.6 365.9,40.0 366.5,39.4 367.1,38.9 367.8,38.4 368.4,37.9 369.1,37.5 369.7,37.2 370.4,36.9 371.0,36.6 371.7,36.3 372.3,36.1 372.9,35.9 373.6,35.8 374.2,35.7 374.9,35.6 375.5,35.5 376.2,35.5 376.8,35.4 377.4,35.4 378.1,35.4 378.7,35.5 379.4,35.6 380.0,35.7 380.7,35.9 381.3,36.2 381.9,36.6 382.6,36.9 383.2,37.4 383.9,37.9 384.5,38.4 385.2,39.0 385.8,39.6 386.4,40.3 387.1,41.0 387.7,41.7 388.4,42.5 389.0,43.3 389.7,44.2 390.3,45.1 391.0,46.0 391.6,47.0 392.2,48.0 392.9,49.1 393.5,50.1 394.2,51.2 394.8,52.3 395.5,53.5 396.1,54.6 396.7,55.8 397.4,57.0 398.0,58.3 398.7,59.5 399.3,60.8 400.0,62.1 400.6,63.4 401.2,64.7 401.9,66.0 402.5,67.4 403.2,68.7 403.8,70.1 404.5,71.4 405.1,72.8 405.7,74.1 406.4,75.5 407.0,76.9 407.7,78.3 408.3,79.7 409.0,81.0 409.6,82.4 410.2,83.8 410.9,85.2 411.5,86.5 412.2,87.9 412.8,89.2 413.5,90.6 414.1,91.9 414.8,93.3 415.4,94.6 416.0,95.9 416.7,97.2 417.3,98.5 418.0,99.7 418.6,101.0 419.3,102.3 419.9,103.5 420.5,104.7 421.2,105.9 421.8,107.1 422.5,108.3 423.1,109.4 423.8,110.6 424.4,111.7 425.0,112.8 425.7,113.9 426.3,114.9 427.0,116.0 427.6,117.0 428.3,118.0 428.9,119.0 429.5,120.0 430.2,121.0 430.8,121.9 431.5,122.8 432.1,123.7 432.8,124.6 433.4,125.4 434.0,126.3 434.7,127.1 435.3,127.9 436.0,128.7 436.6,129.5 437.3,130.2 437.9,130.9 438.6,131.7 439.2,132.3 439.8,133.0 440.5,133.7 441.1,134.3 441.8,134.9 442.4,135.5 443.1,136.1 443.7,136.7 444.3,137.3 445.0,137.8 445.6,138.3 446.3,138.8 446.9,139.3 447.6,139.8 448.2,140.2 448.8,140.7 449.5,141.1 450.1,141.5 450.8,141.9 451.4,142.3 452.1,142.7 452.7,143.1 453.3,143.4 454.0,143.8 454.6,144.1 455.3,144.4 455.9,144.7 456.6,145.0 457.2,145.3 457.9,145.6 458.5,145.8 459.1,146.1 459.8,146.3 460.4,146.6 461.1,146.8 461.7,147.0 462.4,147.2 463.0,147.4 463.6,147.6 464.3,147.8 464.9,148.0 465.6,148.1 466.2,148.3 466.9,148.5" fill="none" stroke="#00f0ff" stroke-width="1.6" stroke-linejoin="round" stroke-linecap="round"/>
<path d="M308.6,137.2 309.3,136.8 309.9,136.5 310.5,136.1 311.2,135.7 311.8,135.3 312.5,134.8 313.1,134.3 313.8,133.8 314.4,133.2 315.0,132.6 315.7,132.1 316.3,131.4 317.0,130.8 317.6,130.2 318.3,129.5 318.9,128.8 319.5,128.1 320.2,127.4 320.8,126.6 321.5,125.9 322.1,125.1 322.8,124.3 323.4,123.6 324.1,122.8 324.7,122.0 325.3,121.2 326.0,120.3 326.6,119.5 327.3,118.6 327.9,117.7 328.6,116.7 329.2,115.7 329.8,114.7 330.5,113.6 331.1,112.4 331.8,111.2 332.4,109.9 333.1,108.6 333.7,107.2 334.3,105.7 335.0,104.0 335.6,102.1 336.3,100.2 336.9,98.0 337.6,95.8 338.2,93.5 338.8,91.2 339.5,88.7 340.1,86.2 340.8,83.7 341.4,81.2 342.1,78.6 342.7,76.1 343.3,73.6 344.0,71.1 344.6,68.5 345.3,65.8 345.9,63.0 346.6,60.4 347.2,57.9 347.9,55.6 348.5,53.3 349.1,50.8 349.8,48.3 350.4,46.0 351.1,43.7 351.7,41.8 352.4,40.2 353.0,39.0 353.6,38.3 354.3,38.2 354.9,38.8 355.6,40.0 356.2,41.5 356.9,43.3 357.5,45.1 358.1,46.9 358.8,48.3 359.4,49.3 360.1,50.0 360.7,50.7 361.4,51.3 362.0,51.9 362.6,52.5 363.3,53.0 363.9,53.4 364.6,53.7 365.2,54.0 365.9,54.1 366.5,54.2 367.1,54.1 367.8,54.1 368.4,54.0 369.1,53.8 369.7,53.7 370.4,53.5 371.0,53.3 371.7,53.0 372.3,52.8 372.9,52.4 373.6,51.9 374.2,51.3 374.9,50.7 375.5,50.0 376.2,49.3 376.8,48.6 377.4,47.8 378.1,47.1 378.7,46.4 379.4,45.7 380.0,45.0 380.7,44.2 381.3,43.3 381.9,42.4 382.6,41.4 383.2,40.3 383.9,38.9 384.5,36.9 385.2,34.5 385.8,32.0 386.4,29.6 387.1,27.5 387.7,26.0 388.4,25.2 389.0,25.3 389.7,25.9 390.3,27.0 391.0,28.5 391.6,30.3 392.2,32.4 392.9,34.7 393.5,37.1 394.2,39.6 394.8,42.0 395.5,44.3 396.1,46.5 396.7,48.5 397.4,50.6 398.0,52.8 398.7,55.0 399.3,57.2 400.0,59.6 400.6,61.9 401.2,64.2 401.9,66.6 402.5,68.9 403.2,71.2 403.8,73.4 404.5,75.6 405.1,77.7 405.7,79.7 406.4,81.5 407.0,83.3 407.7,84.9 408.3,86.4 409.0,87.8 409.6,89.1 410.2,90.5 410.9,91.7 411.5,92.9 412.2,94.1 412.8,95.2 413.5,96.3 414.1,97.4 414.8,98.5 415.4,99.5 416.0,100.5 416.7,101.5 417.3,102.6 418.0,103.6 418.6,104.6 419.3,105.6 419.9,106.7 420.5,107.8 421.2,108.8 421.8,110.0 422.5,111.1 423.1,112.2 423.8,113.3 424.4,114.4 425.0,115.5 425.7,116.6 426.3,117.7 427.0,118.7 427.6,119.8 428.3,120.7 428.9,121.6 429.5,122.5 430.2,123.3 430.8,124.1 431.5,124.8 432.1,125.4 432.8,126.0 433.4,126.6 434.0,127.2 434.7,127.7 435.3,128.3 436.0,128.8 436.6,129.2 437.3,129.7 437.9,130.2 438.6,130.6 439.2,131.0 439.8,131.4 440.5,131.8 441.1,132.2 441.8,132.6 442.4,132.9 443.1,133.3 443.7,133.6 444.3,133.9 445.0,134.3 445.6,134.6 446.3,134.9 446.9,135.1 447.6,135.4 448.2,135.7 448.8,136.0 449.5,136.2 450.1,136.5 450.8,136.7 451.4,137.0 452.1,137.2 452.7,137.5 453.3,137.7 454.0,138.0 454.6,138.2 455.3,138.5 455.9,138.7 456.6,139.0 457.2,139.2 457.9,139.5 458.5,139.7 459.1,140.0 459.8,140.2 460.4,140.5 461.1,140.7 461.7,140.9 462.4,141.2 463.0,141.4 463.6,141.7 464.3,141.9 464.9,142.1 465.6,142.4 466.2,142.6 466.9,142.8" fill="none" stroke="#ffff00" stroke-width="1.6" stroke-linejoin="round" stroke-linecap="round"/>
<path d="M308.6,152.1 309.3,151.9 309.9,151.7 310.5,151.5 311.2,151.3 311.8,151.1 312.5,150.9 313.1,150.6 313.8,150.3 314.4,149.9 315.0,149.6 315.7,149.2 316.3,148.8 317.0,148.3 317.6,147.8 318.3,147.3 318.9,146.7 319.5,146.1 320.2,145.5 320.8,144.7 321.5,144.0 322.1,143.2 322.8,142.4 323.4,141.5 324.1,140.5 324.7,139.5 325.3,138.4 326.0,137.3 326.6,136.2 327.3,134.9 327.9,133.6 328.6,132.3 329.2,130.9 329.8,129.5 330.5,128.0 331.1,126.4 331.8,124.8 332.4,123.1 333.1,121.4 333.7,119.6 334.3,117.8 335.0,116.0 335.6,114.1 336.3,112.1 336.9,110.1 337.6,108.1 338.2,106.1 338.8,104.0 339.5,101.9 340.1,99.8 340.8,97.6 341.4,95.5 342.1,93.3 342.7,91.2 343.3,89.0 344.0,86.8 344.6,84.7 345.3,82.5 345.9,80.4 346.6,78.3 347.2,76.2 347.9,74.1 348.5,72.1 349.1,70.1 349.8,68.1 350.4,66.1 351.1,64.3 351.7,62.4 352.4,60.6 353.0,58.9 353.6,57.2 354.3,55.5 354.9,53.9 355.6,52.4 356.2,50.9 356.9,49.5 357.5,48.2 358.1,46.9 358.8,45.7 359.4,44.5 360.1,43.4 360.7,42.4 361.4,41.4 362.0,40.5 362.6,39.7 363.3,38.9 363.9,38.2 364.6,37.5 365.2,36.9 365.9,36.3 366.5,35.8 367.1,35.4 367.8,35.0 368.4,34.6 369.1,34.3 369.7,34.1 370.4,33.8 371.0,33.7 371.7,33.5 372.3,33.4 372.9,33.3 373.6,33.2 374.2,33.2 374.9,33.1 375.5,33.1 376.2,33.1 376.8,33.1 377.4,33.1 378.1,33.2 378.7,33.4 379.4,33.6 380.0,33.8 380.7,34.1 381.3,34.5 381.9,34.8 382.6,35.3 383.2,35.8 383.9,36.3 384.5,36.8 385.2,37.5 385.8,38.1 386.4,38.8 387.1,39.5 387.7,40.3 388.4,41.1 389.0,42.0 389.7,42.8 390.3,43.8 391.0,44.7 391.6,45.7 392.2,46.7 392.9,47.7 393.5,48.8 394.2,49.9 394.8,51.0 395.5,52.2 396.1,53.3 396.7,54.5 397.4,55.8 398.0,57.0 398.7,58.2 399.3,59.5 400.0,60.8 400.6,62.1 401.2,63.4 401.9,64.8 402.5,66.1 403.2,67.5 403.8,68.8 404.5,70.2 405.1,71.6 405.7,73.0 406.4,74.3 407.0,75.7 407.7,77.1 408.3,78.5 409.0,79.9 409.6,81.3 410.2,82.7 410.9,84.1 411.5,85.5 412.2,86.9 412.8,88.2 413.5,89.6 414.1,91.0 414.8,92.3 415.4,93.7 416.0,95.0 416.7,96.3 417.3,97.7 418.0,99.0 418.6,100.3 419.3,101.5 419.9,102.8 420.5,104.1 421.2,105.3 421.8,106.5 422.5,107.7 423.1,108.9 423.8,110.1 424.4,111.3 425.0,112.4 425.7,113.5 426.3,114.6 427.0,115.7 427.6,116.8 428.3,117.8 428.9,118.9 429.5,119.9 430.2,120.9 430.8,121.9 431.5,122.8 432.1,123.8 432.8,124.7 433.4,125.6 434.0,126.5 434.7,127.3 435.3,128.2 436.0,129.0 436.6,129.8 437.3,130.6 437.9,131.3 438.6,132.1 439.2,132.8 439.8,133.5 440.5,134.2 441.1,134.9 441.8,135.6 442.4,136.2 443.1,136.8 443.7,137.4 444.3,138.0 445.0,138.6 445.6,139.1 446.3,139.7 446.9,140.2 447.6,140.7 448.2,141.2 448.8,141.7 449.5,142.1 450.1,142.6 450.8,143.0 451.4,143.4 452.1,143.8 452.7,144.2 453.3,144.6 454.0,144.9 454.6,145.3 455.3,145.6 455.9,146.0 456.6,146.3 457.2,146.6 457.9,146.9 458.5,147.2 459.1,147.4 459.8,147.7 460.4,147.9 461.1,148.2 461.7,148.4 462.4,148.6 463.0,148.8 463.6,149.1 464.3,149.2 464.9,149.4 465.6,149.6 466.2,149.8 466.9,150.0" fill="none" stroke="#0000ff" stroke-width="1.6" stroke-linejoin="round" stroke-linecap="round"/>
<path d="M308.6,143.4 309.3,143.0 309.9,142.6 310.5,142.2 311.2,141.7 311.8,141.3 312.5,140.8 313.1,140.3 313.8,139.7 314.4,139.2 315.0,138.6 315.7,138.0 316.3,137.3 317.0,136.7 317.6,136.0 318.3,135.3 318.9,134.5 319.5,133.7 320.2,132.9 320.8,132.1 321.5,131.2 322.1,130.3 322.8,129.4 323.4,128.5 324.1,127.5 324.7,126.5 325.3,125.5 326.0,124.4 326.6,123.3 327.3,122.2 327.9,121.0 328.6,119.8 329.2,118.6 329.8,117.4 330.5,116.1 331.1,114.8 331.8,113.5 332.4,112.1 333.1,110.8 333.7,109.4 334.3,107.9 335.0,106.5 335.6,105.0 336.3,103.6 336.9,102.1 337.6,100.5 338.2,99.0 338.8,97.5 339.5,95.9 340.1,94.3 340.8,92.7 341.4,91.1 342.1,89.5 342.7,87.9 343.3,86.3 344.0,84.7 344.6,83.1 345.3,81.5 345.9,79.9 346.6,78.2 347.2,76.7 347.9,75.1 348.5,73.5 349.1,71.9 349.8,70.4 350.4,68.8 351.1,67.3 351.7,65.8 352.4,64.3 353.0,62.9 353.6,61.4 354.3,60.0 354.9,58.7 355.6,57.3 356.2,56.0 356.9,54.7 357.5,53.5 358.1,52.3 358.8,51.1 359.4,50.0 360.1,48.9 360.7,47.8 361.4,46.8 362.0,45.8 362.6,44.9 363.3,44.0 363.9,43.2 364.6,42.4 365.2,41.6 365.9,40.9 366.5,40.3 367.1,39.7 367.8,39.1 368.4,38.6 369.1,38.1 369.7,37.7 370.4,37.3 371.0,37.0 371.7,36.7 372.3,36.4 372.9,36.2 373.6,36.1 374.2,35.9 374.9,35.8 375.5,35.8 376.2,35.8 376.8,35.7 377.4,35.8 378.1,35.9 378.7,36.0 379.4,36.2 380.0,36.4 380.7,36.7 381.3,37.0 381.9,37.4 382.6,37.8 383.2,38.3 383.9,38.8 384.5,39.3 385.2,39.9 385.8,40.5 386.4,41.2 387.1,41.9 387.7,42.7 388.4,43.5 389.0,44.3 389.7,45.2 390.3,46.1 391.0,47.0 391.6,48.0 392.2,48.9 392.9,50.0 393.5,51.0 394.2,52.1 394.8,53.2 395.5,54.4 396.1,55.5 396.7,56.7 397.4,57.9 398.0,59.1 398.7,60.4 399.3,61.6 400.0,62.9 400.6,64.2 401.2,65.5 401.9,66.8 402.5,68.2 403.2,69.5 403.8,70.9 404.5,72.2 405.1,73.6 405.7,75.0 406.4,76.4 407.0,77.7 407.7,79.1 408.3,80.5 409.0,81.9 409.6,83.3 410.2,84.7 410.9,86.0 411.5,87.4 412.2,88.8 412.8,90.1 413.5,91.5 414.1,92.8 414.8,94.2 415.4,95.5 416.0,96.8 416.7,98.1 417.3,99.4 418.0,100.7 418.6,101.9 419.3,103.2 419.9,104.4 420.5,105.6 421.2,106.8 421.8,108.0 422.5,109.2 423.1,110.3 423.8,111.5 424.4,112.6 425.0,113.7 425.7,114.7 426.3,115.8 427.0,116.8 427.6,117.9 428.3,118.9 428.9,119.8 429.5,120.8 430.2,121.7 430.8,122.7 431.5,123.6 432.1,124.4 432.8,125.3 433.4,126.1 434.0,126.9 434.7,127.7 435.3,128.5 436.0,129.3 436.6,130.0 437.3,130.7 437.9,131.4 438.6,132.1 439.2,132.8 439.8,133.4 440.5,134.0 441.1,134.6 441.8,135.2 442.4,135.8 443.1,136.3 443.7,136.9 444.3,137.4 445.0,137.9 445.6,138.4 446.3,138.8 446.9,139.3 447.6,139.7 448.2,140.2 448.8,140.6 449.5,141.0 450.1,141.3 450.8,141.7 451.4,142.0 452.1,142.4 452.7,142.7 453.3,143.0 454.0,143.3 454.6,143.6 455.3,143.9 455.9,144.2 456.6,144.4 457.2,144.7 457.9,144.9 458.5,145.1 459.1,145.3 459.8,145.5 460.4,145.7 461.1,145.9 461.7,146.1 462.4,146.3 463.0,146.4 463.6,146.6 464.3,146.8 464.9,146.9 465.6,147.0 466.2,147.2 466.9,147.3" fill="none" stroke="#00ee00" stroke-width="1.6" stroke-linejoin="round" stroke-linecap="round"/>
<path d="M308.6,145.7 309.3,145.3 309.9,144.8 310.5,144.3 311.2,143.8 311.8,143.4 312.5,142.9 313.1,142.3 313.8,141.8 314.4,141.2 315.0,140.7 315.7,140.1 316.3,139.4 317.0,138.8 317.6,138.1 318.3,137.4 318.9,136.6 319.5,135.8 320.2,135.1 320.8,134.3 321.5,133.4 322.1,132.6 322.8,131.8 323.4,130.9 324.1,130.1 324.7,129.2 325.3,128.4 326.0,127.5 326.6,126.6 327.3,125.7 327.9,124.7 328.6,123.6 329.2,122.4 329.8,121.0 330.5,119.4 331.1,117.7 331.8,115.6 332.4,113.3 333.1,110.9 333.7,108.3 334.3,105.8 335.0,103.3 335.6,100.9 336.3,98.6 336.9,96.4 337.6,94.2 338.2,92.0 338.8,89.7 339.5,87.4 340.1,85.0 340.8,82.4 341.4,79.8 342.1,77.1 342.7,74.3 343.3,71.6 344.0,69.0 344.6,66.4 345.3,63.9 345.9,61.6 346.6,59.6 347.2,57.7 347.9,56.1 348.5,54.8 349.1,53.7 349.8,52.8 350.4,52.1 351.1,51.5 351.7,51.1 352.4,50.8 353.0,50.6 353.6,50.4 354.3,50.2 354.9,50.1 355.6,50.0 356.2,50.0 356.9,49.9 357.5,49.9 358.1,49.9 358.8,49.8 359.4,49.8 360.1,49.8 360.7,49.7 361.4,49.7 362.0,49.6 362.6,49.5 363.3,49.4 363.9,49.2 364.6,49.1 365.2,48.9 365.9,48.6 366.5,48.4 367.1,48.1 367.8,47.8 368.4,47.6 369.1,47.3 369.7,46.9 370.4,46.6 371.0,46.3 371.7,46.0 372.3,45.6 372.9,45.3 373.6,44.9 374.2,44.6 374.9,44.3 375.5,44.0 376.2,43.7 376.8,43.4 377.4,43.1 378.1,42.9 378.7,42.7 379.4,42.5 380.0,42.3 380.7,42.2 381.3,42.1 381.9,42.0 382.6,42.0 383.2,42.0 383.9,42.1 384.5,42.2 385.2,42.4 385.8,42.7 386.4,43.0 387.1,43.4 387.7,43.8 388.4,44.3 389.0,44.9 389.7,45.6 390.3,46.3 391.0,47.2 391.6,48.0 392.2,48.9 392.9,49.9 393.5,50.9 394.2,52.0 394.8,53.1 395.5,54.2 396.1,55.4 396.7,56.5 397.4,57.7 398.0,58.9 398.7,60.1 399.3,61.2 400.0,62.4 400.6,63.5 401.2,64.7 401.9,65.8 402.5,66.9 403.2,68.0 403.8,69.1 404.5,70.2 405.1,71.3 405.7,72.5 406.4,73.6 407.0,74.7 407.7,75.9 408.3,77.1 409.0,78.3 409.6,79.5 410.2,80.8 410.9,82.1 411.5,83.5 412.2,84.8 412.8,86.3 413.5,87.7 414.1,89.3 414.8,90.8 415.4,92.4 416.0,94.0 416.7,95.6 417.3,97.3 418.0,98.8 418.6,100.4 419.3,101.9 419.9,103.4 420.5,104.7 421.2,106.1 421.8,107.3 422.5,108.5 423.1,109.7 423.8,110.8 424.4,111.8 425.0,112.8 425.7,113.8 426.3,114.7 427.0,115.6 427.6,116.5 428.3,117.4 428.9,118.2 429.5,119.1 430.2,119.9 430.8,120.7 431.5,121.6 432.1,122.4 432.8,123.3 433.4,124.1 434.0,124.9 434.7,125.8 435.3,126.6 436.0,127.5 436.6,128.3 437.3,129.1 437.9,130.0 438.6,130.8 439.2,131.6 439.8,132.3 440.5,133.1 441.1,133.8 441.8,134.6 442.4,135.3 443.1,135.9 443.7,136.6 444.3,137.2 445.0,137.8 445.6,138.4 446.3,138.9 446.9,139.5 447.6,140.0 448.2,140.5 448.8,141.0 449.5,141.4 450.1,141.9 450.8,142.3 451.4,142.7 452.1,143.1 452.7,143.5 453.3,143.9 454.0,144.2 454.6,144.6 455.3,144.9 455.9,145.3 456.6,145.6 457.2,145.9 457.9,146.2 458.5,146.5 459.1,146.8 459.8,147.1 460.4,147.4 461.1,147.7 461.7,148.0 462.4,148.2 463.0,148.5 463.6,148.8 464.3,149.0 464.9,149.3 465.6,149.6 466.2,149.8 466.9,150.1" fill="none" stroke="#000000" stroke-width="1.25" stroke-linejoin="round" stroke-linecap="round"/>
</g>
<rect x="285.5" y="17.5" width="184.9" height="136.5" fill="none" stroke="#b4b4b4" stroke-width="1"/>
<path d="M285.5,154 v-2 M285.5,17.5 v2" stroke="#b4b4b4" stroke-width="0.8"/>
<text transform="translate(285.5,165) scale(1,1.1)" text-anchor="middle" font-size="9" fill="#000">1922</text>
<path d="M316.32,154 v-2 M316.32,17.5 v2" stroke="#b4b4b4" stroke-width="0.8"/>
<text transform="translate(316.32,165) scale(1,1.1)" text-anchor="middle" font-size="9" fill="#000">1924</text>
<path d="M347.13,154 v-2 M347.13,17.5 v2" stroke="#b4b4b4" stroke-width="0.8"/>
<text transform="translate(347.13,165) scale(1,1.1)" text-anchor="middle" font-size="9" fill="#000">1926</text>
<path d="M377.95,154 v-2 M377.95,17.5 v2" stroke="#b4b4b4" stroke-width="0.8"/>
<text transform="translate(377.95,165) scale(1,1.1)" text-anchor="middle" font-size="9" fill="#000">1928</text>
<path d="M408.77,154 v-2 M408.77,17.5 v2" stroke="#b4b4b4" stroke-width="0.8"/>
<text transform="translate(408.77,165) scale(1,1.1)" text-anchor="middle" font-size="9" fill="#000">1930</text>
<path d="M439.58,154 v-2 M439.58,17.5 v2" stroke="#b4b4b4" stroke-width="0.8"/>
<text transform="translate(439.58,165) scale(1,1.1)" text-anchor="middle" font-size="9" fill="#000">1932</text>
<path d="M470.4,154 v-2 M470.4,17.5 v2" stroke="#b4b4b4" stroke-width="0.8"/>
<text transform="translate(470.4,165) scale(1,1.1)" text-anchor="middle" font-size="9" fill="#000">1934</text>
<path d="M285.5,154 h2 M470.4,154 h-2" stroke="#b4b4b4" stroke-width="0.8"/>
<text transform="translate(283.5,157.9) scale(1,1.1)" text-anchor="end" font-size="9" fill="#000">0</text>
<path d="M285.5,108.5 h2 M470.4,108.5 h-2" stroke="#b4b4b4" stroke-width="0.8"/>
<text transform="translate(283.5,112.4) scale(1,1.1)" text-anchor="end" font-size="9" fill="#000">50</text>
<path d="M285.5,63 h2 M470.4,63 h-2" stroke="#b4b4b4" stroke-width="0.8"/>
<text transform="translate(283.5,66.9) scale(1,1.1)" text-anchor="end" font-size="9" fill="#000">100</text>
<path d="M285.5,17.5 h2 M470.4,17.5 h-2" stroke="#b4b4b4" stroke-width="0.8"/>
<text transform="translate(283.5,21.4) scale(1,1.1)" text-anchor="end" font-size="9" fill="#000">150</text>
<text x="377.95" y="9.4" text-anchor="middle" font-size="12.6" fill="#000">Cycle 16</text>
<text x="379.45" y="176" text-anchor="middle" font-size="12.2" fill="#000">DATA</text>
<text transform="translate(262.7,85.75) rotate(-90)" text-anchor="middle" font-size="11.5" fill="#000">SUNSPOT NUMBER</text>
<text x="372.6" y="197.1" text-anchor="middle" font-family="Liberation Serif, serif" font-size="14.4" fill="#222">(b)</text>
<rect x="420.1" y="20.7" width="48" height="67.7" fill="#fff" stroke="#b4b4b4" stroke-width="1"/>
<circle cx="432.1" cy="27.2" r="1.9" fill="none" stroke="#777" stroke-width="0.8"/>
<text transform="translate(443.1,30.1) scale(1,1)" font-size="9.8" fill="#000">SN</text>
<path d="M423.8,38.2 h18" stroke="#00f0ff" stroke-width="1.4"/>
<text transform="translate(443.1,41.1) scale(1,1)" font-size="9.8" fill="#000">Fit−P</text>
<path d="M423.8,49.2 h18" stroke="#ffff00" stroke-width="1.4"/>
<text transform="translate(443.1,52.1) scale(1,1)" font-size="9.8" fill="#000">Fit−L</text>
<path d="M423.8,60.2 h18" stroke="#0000ff" stroke-width="1.4"/>
<text transform="translate(443.1,63.1) scale(1,1)" font-size="9.8" fill="#000">Fit−D</text>
<path d="M423.8,71.2 h18" stroke="#00ee00" stroke-width="1.4"/>
<text transform="translate(443.1,74.1) scale(1,1)" font-size="9.8" fill="#000">Fit−G</text>
<path d="M423.8,82.2 h18" stroke="#000000" stroke-width="1.1"/>
<text transform="translate(443.1,85.1) scale(1,1)" font-size="9.8" fill="#000">Fit−C</text>
<clipPath id="clipc"><rect x="539.6" y="17.5" width="184.8" height="136.5"/></clipPath>
<g clip-path="url(#clipc)">
<path d="M582.4,142.6a1.7,1.7 0 1,0 3.4,0a1.7,1.7 0 1,0 -3.4,0M583.7,139.4a1.7,1.7 0 1,0 3.4,0a1.7,1.7 0 1,0 -3.4,0M585.0,144.0a1.7,1.7 0 1,0 3.4,0a1.7,1.7 0 1,0 -3.4,0M586.4,141.0a1.7,1.7 0 1,0 3.4,0a1.7,1.7 0 1,0 -3.4,0M587.7,136.0a1.7,1.7 0 1,0 3.4,0a1.7,1.7 0 1,0 -3.4,0M589.0,137.0a1.7,1.7 0 1,0 3.4,0a1.7,1.7 0 1,0 -3.4,0M590.3,130.1a1.7,1.7 0 1,0 3.4,0a1.7,1.7 0 1,0 -3.4,0M591.6,121.6a1.7,1.7 0 1,0 3.4,0a1.7,1.7 0 1,0 -3.4,0M592.9,119.3a1.7,1.7 0 1,0 3.4,0a1.7,1.7 0 1,0 -3.4,0M594.2,109.8a1.7,1.7 0 1,0 3.4,0a1.7,1.7 0 1,0 -3.4,0M595.5,101.7a1.7,1.7 0 1,0 3.4,0a1.7,1.7 0 1,0 -3.4,0M596.8,101.9a1.7,1.7 0 1,0 3.4,0a1.7,1.7 0 1,0 -3.4,0M598.1,95.3a1.7,1.7 0 1,0 3.4,0a1.7,1.7 0 1,0 -3.4,0M599.4,88.8a1.7,1.7 0 1,0 3.4,0a1.7,1.7 0 1,0 -3.4,0M600.7,88.4a1.7,1.7 0 1,0 3.4,0a1.7,1.7 0 1,0 -3.4,0M602.0,79.7a1.7,1.7 0 1,0 3.4,0a1.7,1.7 0 1,0 -3.4,0M603.3,71.3a1.7,1.7 0 1,0 3.4,0a1.7,1.7 0 1,0 -3.4,0M604.6,70.0a1.7,1.7 0 1,0 3.4,0a1.7,1.7 0 1,0 -3.4,0M605.9,62.3a1.7,1.7 0 1,0 3.4,0a1.7,1.7 0 1,0 -3.4,0M607.2,56.7a1.7,1.7 0 1,0 3.4,0a1.7,1.7 0 1,0 -3.4,0M608.5,58.9a1.7,1.7 0 1,0 3.4,0a1.7,1.7 0 1,0 -3.4,0M609.8,54.5a1.7,1.7 0 1,0 3.4,0a1.7,1.7 0 1,0 -3.4,0M611.1,51.0a1.7,1.7 0 1,0 3.4,0a1.7,1.7 0 1,0 -3.4,0M612.4,53.7a1.7,1.7 0 1,0 3.4,0a1.7,1.7 0 1,0 -3.4,0M613.8,48.6a1.7,1.7 0 1,0 3.4,0a1.7,1.7 0 1,0 -3.4,0M615.1,44.7a1.7,1.7 0 1,0 3.4,0a1.7,1.7 0 1,0 -3.4,0M616.4,48.1a1.7,1.7 0 1,0 3.4,0a1.7,1.7 0 1,0 -3.4,0M617.7,45.1a1.7,1.7 0 1,0 3.4,0a1.7,1.7 0 1,0 -3.4,0M619.0,44.5a1.7,1.7 0 1,0 3.4,0a1.7,1.7 0 1,0 -3.4,0M620.3,50.7a1.7,1.7 0 1,0 3.4,0a1.7,1.7 0 1,0 -3.4,0M621.6,49.3a1.7,1.7 0 1,0 3.4,0a1.7,1.7 0 1,0 -3.4,0M622.9,48.8a1.7,1.7 0 1,0 3.4,0a1.7,1.7 0 1,0 -3.4,0M624.2,53.9a1.7,1.7 0 1,0 3.4,0a1.7,1.7 0 1,0 -3.4,0M625.5,50.8a1.7,1.7 0 1,0 3.4,0a1.7,1.7 0 1,0 -3.4,0M626.8,48.5a1.7,1.7 0 1,0 3.4,0a1.7,1.7 0 1,0 -3.4,0M628.1,52.8a1.7,1.7 0 1,0 3.4,0a1.7,1.7 0 1,0 -3.4,0M629.4,50.2a1.7,1.7 0 1,0 3.4,0a1.7,1.7 0 1,0 -3.4,0M630.7,50.2a1.7,1.7 0 1,0 3.4,0a1.7,1.7 0 1,0 -3.4,0M632.0,56.7a1.7,1.7 0 1,0 3.4,0a1.7,1.7 0 1,0 -3.4,0M633.3,57.1a1.7,1.7 0 1,0 3.4,0a1.7,1.7 0 1,0 -3.4,0M634.6,59.0a1.7,1.7 0 1,0 3.4,0a1.7,1.7 0 1,0 -3.4,0M635.9,66.5a1.7,1.7 0 1,0 3.4,0a1.7,1.7 0 1,0 -3.4,0M637.2,66.1a1.7,1.7 0 1,0 3.4,0a1.7,1.7 0 1,0 -3.4,0M638.5,68.2a1.7,1.7 0 1,0 3.4,0a1.7,1.7 0 1,0 -3.4,0M639.9,77.2a1.7,1.7 0 1,0 3.4,0a1.7,1.7 0 1,0 -3.4,0M641.2,79.2a1.7,1.7 0 1,0 3.4,0a1.7,1.7 0 1,0 -3.4,0M642.5,81.7a1.7,1.7 0 1,0 3.4,0a1.7,1.7 0 1,0 -3.4,0M643.8,89.3a1.7,1.7 0 1,0 3.4,0a1.7,1.7 0 1,0 -3.4,0M645.1,86.9a1.7,1.7 0 1,0 3.4,0a1.7,1.7 0 1,0 -3.4,0M646.4,85.0a1.7,1.7 0 1,0 3.4,0a1.7,1.7 0 1,0 -3.4,0M647.7,88.2a1.7,1.7 0 1,0 3.4,0a1.7,1.7 0 1,0 -3.4,0M649.0,82.9a1.7,1.7 0 1,0 3.4,0a1.7,1.7 0 1,0 -3.4,0M650.3,80.6a1.7,1.7 0 1,0 3.4,0a1.7,1.7 0 1,0 -3.4,0M651.6,84.9a1.7,1.7 0 1,0 3.4,0a1.7,1.7 0 1,0 -3.4,0M652.9,85.4a1.7,1.7 0 1,0 3.4,0a1.7,1.7 0 1,0 -3.4,0M654.2,88.7a1.7,1.7 0 1,0 3.4,0a1.7,1.7 0 1,0 -3.4,0M655.5,97.7a1.7,1.7 0 1,0 3.4,0a1.7,1.7 0 1,0 -3.4,0M656.8,99.5a1.7,1.7 0 1,0 3.4,0a1.7,1.7 0 1,0 -3.4,0M658.1,102.8a1.7,1.7 0 1,0 3.4,0a1.7,1.7 0 1,0 -3.4,0M659.4,108.7a1.7,1.7 0 1,0 3.4,0a1.7,1.7 0 1,0 -3.4,0M660.7,106.5a1.7,1.7 0 1,0 3.4,0a1.7,1.7 0 1,0 -3.4,0M662.0,107.6a1.7,1.7 0 1,0 3.4,0a1.7,1.7 0 1,0 -3.4,0M663.3,114.7a1.7,1.7 0 1,0 3.4,0a1.7,1.7 0 1,0 -3.4,0M664.6,114.4a1.7,1.7 0 1,0 3.4,0a1.7,1.7 0 1,0 -3.4,0M665.9,117.0a1.7,1.7 0 1,0 3.4,0a1.7,1.7 0 1,0 -3.4,0M667.3,124.3a1.7,1.7 0 1,0 3.4,0a1.7,1.7 0 1,0 -3.4,0M668.6,121.8a1.7,1.7 0 1,0 3.4,0a1.7,1.7 0 1,0 -3.4,0M669.9,121.6a1.7,1.7 0 1,0 3.4,0a1.7,1.7 0 1,0 -3.4,0M671.2,126.2a1.7,1.7 0 1,0 3.4,0a1.7,1.7 0 1,0 -3.4,0M672.5,122.9a1.7,1.7 0 1,0 3.4,0a1.7,1.7 0 1,0 -3.4,0M673.8,123.5a1.7,1.7 0 1,0 3.4,0a1.7,1.7 0 1,0 -3.4,0M675.1,129.9a1.7,1.7 0 1,0 3.4,0a1.7,1.7 0 1,0 -3.4,0M676.4,128.5a1.7,1.7 0 1,0 3.4,0a1.7,1.7 0 1,0 -3.4,0M677.7,130.1a1.7,1.7 0 1,0 3.4,0a1.7,1.7 0 1,0 -3.4,0M679.0,135.8a1.7,1.7 0 1,0 3.4,0a1.7,1.7 0 1,0 -3.4,0M680.3,133.0a1.7,1.7 0 1,0 3.4,0a1.7,1.7 0 1,0 -3.4,0M681.6,132.9a1.7,1.7 0 1,0 3.4,0a1.7,1.7 0 1,0 -3.4,0M682.9,137.5a1.7,1.7 0 1,0 3.4,0a1.7,1.7 0 1,0 -3.4,0M684.2,134.3a1.7,1.7 0 1,0 3.4,0a1.7,1.7 0 1,0 -3.4,0M685.5,135.4a1.7,1.7 0 1,0 3.4,0a1.7,1.7 0 1,0 -3.4,0M686.8,142.3a1.7,1.7 0 1,0 3.4,0a1.7,1.7 0 1,0 -3.4,0M688.1,141.1a1.7,1.7 0 1,0 3.4,0a1.7,1.7 0 1,0 -3.4,0M689.4,142.8a1.7,1.7 0 1,0 3.4,0a1.7,1.7 0 1,0 -3.4,0" fill="none" stroke="#7a7a7a" stroke-width="0.75"/>
<path d="M583.7,149.8 584.1,149.3 584.4,148.8 584.8,148.3 585.2,147.7 585.6,147.1 586.0,146.5 586.4,145.8 586.8,145.1 587.1,144.4 587.5,143.7 587.9,142.9 588.3,142.0 588.7,141.2 589.1,140.3 589.5,139.4 589.8,138.4 590.2,137.4 590.6,136.4 591.0,135.4 591.4,134.3 591.8,133.1 592.2,132.0 592.5,130.8 592.9,129.6 593.3,128.3 593.7,127.1 594.1,125.7 594.5,124.4 594.9,123.0 595.2,121.7 595.6,120.2 596.0,118.8 596.4,117.3 596.8,115.9 597.2,114.4 597.6,112.8 597.9,111.3 598.3,109.8 598.7,108.2 599.1,106.6 599.5,105.0 599.9,103.5 600.3,101.9 600.6,100.3 601.0,98.7 601.4,97.1 601.8,95.5 602.2,93.9 602.6,92.3 603.0,90.7 603.3,89.2 603.7,87.6 604.1,86.1 604.5,84.5 604.9,83.0 605.3,81.5 605.7,80.1 606.0,78.6 606.4,77.2 606.8,75.8 607.2,74.4 607.6,73.1 608.0,71.8 608.4,70.5 608.7,69.2 609.1,68.0 609.5,66.8 609.9,65.7 610.3,64.6 610.7,63.5 611.1,62.4 611.4,61.4 611.8,60.5 612.2,59.5 612.6,58.6 613.0,57.8 613.4,56.9 613.8,56.2 614.1,55.4 614.5,54.7 614.9,54.1 615.3,53.4 615.7,52.8 616.1,52.3 616.5,51.7 616.8,51.3 617.2,50.8 617.6,50.4 618.0,50.0 618.4,49.6 618.8,49.3 619.2,49.0 619.5,48.7 619.9,48.5 620.3,48.3 620.7,48.1 621.1,47.9 621.5,47.8 621.9,47.7 622.2,47.6 622.6,47.5 623.0,47.4 623.4,47.3 623.8,47.3 624.2,47.3 624.6,47.3 624.9,47.2 625.3,47.2 625.7,47.2 626.1,47.3 626.5,47.3 626.9,47.5 627.3,47.6 627.6,47.8 628.0,48.0 628.4,48.3 628.8,48.6 629.2,48.9 629.6,49.2 630.0,49.6 630.3,50.0 630.7,50.4 631.1,50.8 631.5,51.3 631.9,51.7 632.3,52.2 632.7,52.7 633.0,53.3 633.4,53.8 633.8,54.4 634.2,54.9 634.6,55.5 635.0,56.1 635.4,56.8 635.7,57.4 636.1,58.1 636.5,58.7 636.9,59.4 637.3,60.1 637.7,60.8 638.1,61.5 638.4,62.2 638.8,63.0 639.2,63.7 639.6,64.5 640.0,65.2 640.4,66.0 640.8,66.8 641.1,67.6 641.5,68.4 641.9,69.2 642.3,70.0 642.7,70.8 643.1,71.6 643.5,72.4 643.8,73.2 644.2,74.1 644.6,74.9 645.0,75.7 645.4,76.6 645.8,77.4 646.2,78.3 646.5,79.1 646.9,80.0 647.3,80.8 647.7,81.7 648.1,82.5 648.5,83.4 648.9,84.2 649.2,85.1 649.6,86.0 650.0,86.8 650.4,87.7 650.8,88.5 651.2,89.4 651.6,90.2 651.9,91.1 652.3,91.9 652.7,92.8 653.1,93.6 653.5,94.4 653.9,95.3 654.3,96.1 654.6,96.9 655.0,97.8 655.4,98.6 655.8,99.4 656.2,100.2 656.6,101.0 657.0,101.8 657.3,102.6 657.7,103.4 658.1,104.2 658.5,105.0 658.9,105.8 659.3,106.5 659.7,107.3 660.0,108.1 660.4,108.8 660.8,109.6 661.2,110.3 661.6,111.0 662.0,111.8 662.4,112.5 662.7,113.2 663.1,113.9 663.5,114.6 663.9,115.3 664.3,116.0 664.7,116.7 665.1,117.4 665.4,118.1 665.8,118.7 666.2,119.4 666.6,120.0 667.0,120.7 667.4,121.3 667.8,121.9 668.1,122.6 668.5,123.2 668.9,123.8 669.3,124.4 669.7,125.0 670.1,125.6 670.5,126.1 670.8,126.7 671.2,127.3 671.6,127.8 672.0,128.4 672.4,128.9 672.8,129.4 673.2,130.0 673.5,130.5 673.9,131.0 674.3,131.5 674.7,132.0 675.1,132.5 675.5,133.0 675.9,133.4 676.2,133.9 676.6,134.4 677.0,134.8 677.4,135.3 677.8,135.7 678.2,136.1 678.6,136.6 678.9,137.0 679.3,137.4 679.7,137.8 680.1,138.2 680.5,138.6 680.9,139.0 681.3,139.4 681.6,139.7 682.0,140.1 682.4,140.5 682.8,140.8 683.2,141.2 683.6,141.5 684.0,141.8 684.3,142.2 684.7,142.5 685.1,142.8 685.5,143.1 685.9,143.4 686.3,143.7 686.7,144.0 687.0,144.3 687.4,144.6 687.8,144.9 688.2,145.2 688.6,145.4 689.0,145.7 689.4,145.9 689.7,146.2 690.1,146.4 690.5,146.7 690.9,146.9 691.3,147.2 691.7,147.4 692.1,147.6" fill="none" stroke="#00f0ff" stroke-width="1.6" stroke-linejoin="round" stroke-linecap="round"/>
<path d="M583.7,132.3 584.1,132.1 584.4,131.9 584.8,131.7 585.2,131.4 585.6,131.1 586.0,130.8 586.4,130.4 586.8,130.1 587.1,129.6 587.5,129.2 587.9,128.7 588.3,128.2 588.7,127.7 589.1,127.2 589.5,126.6 589.8,126.1 590.2,125.5 590.6,124.9 591.0,124.2 591.4,123.6 591.8,122.9 592.2,122.2 592.5,121.6 592.9,120.9 593.3,120.1 593.7,119.4 594.1,118.7 594.5,118.0 594.9,117.2 595.2,116.5 595.6,115.7 596.0,114.9 596.4,114.1 596.8,113.3 597.2,112.3 597.6,111.4 597.9,110.3 598.3,109.3 598.7,108.1 599.1,107.0 599.5,105.8 599.9,104.6 600.3,103.3 600.6,102.1 601.0,100.8 601.4,99.4 601.8,98.1 602.2,96.7 602.6,95.4 603.0,94.0 603.3,92.6 603.7,91.2 604.1,89.8 604.5,88.3 604.9,86.8 605.3,85.3 605.7,83.7 606.0,82.1 606.4,80.5 606.8,78.8 607.2,77.0 607.6,75.2 608.0,73.4 608.4,71.5 608.7,69.5 609.1,67.4 609.5,65.0 609.9,62.3 610.3,59.5 610.7,56.6 611.1,53.7 611.4,51.0 611.8,48.6 612.2,46.4 612.6,44.8 613.0,43.3 613.4,41.9 613.8,40.7 614.1,40.0 614.5,39.8 614.9,40.2 615.3,41.3 615.7,42.6 616.1,44.2 616.5,45.7 616.8,47.2 617.2,48.2 617.6,49.2 618.0,50.1 618.4,50.9 618.8,51.8 619.2,52.6 619.5,53.3 619.9,53.9 620.3,54.5 620.7,54.9 621.1,55.2 621.5,55.4 621.9,55.7 622.2,55.9 622.6,56.1 623.0,56.3 623.4,56.5 623.8,56.6 624.2,56.7 624.6,56.8 624.9,56.8 625.3,56.8 625.7,56.6 626.1,56.4 626.5,56.1 626.9,55.7 627.3,55.3 627.6,54.9 628.0,54.4 628.4,53.9 628.8,53.4 629.2,52.8 629.6,52.3 630.0,51.9 630.3,51.4 630.7,50.8 631.1,50.2 631.5,49.5 631.9,48.8 632.3,48.1 632.7,47.4 633.0,46.8 633.4,46.3 633.8,45.8 634.2,45.6 634.6,45.4 635.0,45.6 635.4,46.4 635.7,47.6 636.1,49.2 636.5,50.9 636.9,52.6 637.3,54.1 637.7,55.5 638.1,56.7 638.4,57.9 638.8,59.1 639.2,60.3 639.6,61.4 640.0,62.6 640.4,63.8 640.8,64.9 641.1,66.1 641.5,67.3 641.9,68.4 642.3,69.6 642.7,70.8 643.1,72.1 643.5,73.3 643.8,74.6 644.2,76.0 644.6,77.3 645.0,78.7 645.4,80.1 645.8,81.5 646.2,82.9 646.5,84.2 646.9,85.4 647.3,86.6 647.7,87.7 648.1,88.7 648.5,89.7 648.9,90.5 649.2,91.4 649.6,92.2 650.0,93.0 650.4,93.8 650.8,94.5 651.2,95.3 651.6,96.0 651.9,96.6 652.3,97.3 652.7,98.0 653.1,98.6 653.5,99.2 653.9,99.9 654.3,100.5 654.6,101.1 655.0,101.7 655.4,102.3 655.8,102.9 656.2,103.5 656.6,104.1 657.0,104.7 657.3,105.3 657.7,105.9 658.1,106.5 658.5,107.1 658.9,107.7 659.3,108.3 659.7,108.8 660.0,109.4 660.4,110.0 660.8,110.5 661.2,111.1 661.6,111.6 662.0,112.2 662.4,112.7 662.7,113.2 663.1,113.8 663.5,114.3 663.9,114.8 664.3,115.3 664.7,115.9 665.1,116.4 665.4,116.9 665.8,117.4 666.2,117.9 666.6,118.4 667.0,118.9 667.4,119.4 667.8,119.9 668.1,120.4 668.5,120.9 668.9,121.4 669.3,121.9 669.7,122.4 670.1,122.9 670.5,123.4 670.8,123.9 671.2,124.4 671.6,124.9 672.0,125.4 672.4,125.9 672.8,126.4 673.2,126.9 673.5,127.4 673.9,127.9 674.3,128.4 674.7,128.8 675.1,129.3 675.5,129.8 675.9,130.2 676.2,130.7 676.6,131.1 677.0,131.5 677.4,131.9 677.8,132.3 678.2,132.7 678.6,133.1 678.9,133.4 679.3,133.8 679.7,134.1 680.1,134.4 680.5,134.7 680.9,135.0 681.3,135.3 681.6,135.6 682.0,135.9 682.4,136.1 682.8,136.4 683.2,136.7 683.6,136.9 684.0,137.2 684.3,137.4 684.7,137.7 685.1,137.9 685.5,138.1 685.9,138.4 686.3,138.6 686.7,138.8 687.0,139.0 687.4,139.2 687.8,139.4 688.2,139.6 688.6,139.8 689.0,140.0 689.4,140.1 689.7,140.3 690.1,140.4 690.5,140.6 690.9,140.7 691.3,140.8 691.7,140.9 692.1,141.0" fill="none" stroke="#ffff00" stroke-width="1.6" stroke-linejoin="round" stroke-linecap="round"/>
<path d="M584.7,153.6 585.1,153.3 585.5,152.9 585.8,152.5 586.2,152.1 586.6,151.7 587.0,151.2 587.4,150.8 587.8,150.2 588.2,149.7 588.5,149.1 588.9,148.5 589.3,147.9 589.7,147.2 590.1,146.5 590.5,145.8 590.9,145.0 591.2,144.2 591.6,143.3 592.0,142.4 592.4,141.5 592.8,140.6 593.2,139.6 593.6,138.6 593.9,137.5 594.3,136.4 594.7,135.3 595.1,134.1 595.5,132.9 595.9,131.6 596.3,130.3 596.6,129.0 597.0,127.7 597.4,126.3 597.8,124.8 598.2,123.4 598.6,121.9 599.0,120.4 599.3,118.9 599.7,117.3 600.1,115.7 600.5,114.1 600.9,112.4 601.3,110.8 601.7,109.1 602.0,107.4 602.4,105.7 602.8,104.0 603.2,102.2 603.6,100.5 604.0,98.7 604.4,97.0 604.7,95.2 605.1,93.5 605.5,91.7 605.9,90.0 606.3,88.2 606.7,86.5 607.1,84.8 607.4,83.1 607.8,81.4 608.2,79.7 608.6,78.0 609.0,76.4 609.4,74.8 609.8,73.2 610.1,71.6 610.5,70.1 610.9,68.6 611.3,67.1 611.7,65.7 612.1,64.3 612.5,62.9 612.8,61.6 613.2,60.3 613.6,59.1 614.0,57.8 614.4,56.7 614.8,55.6 615.2,54.5 615.5,53.4 615.9,52.4 616.3,51.5 616.7,50.6 617.1,49.7 617.5,48.9 617.9,48.1 618.2,47.4 618.6,46.7 619.0,46.0 619.4,45.4 619.8,44.8 620.2,44.3 620.6,43.8 620.9,43.4 621.3,43.0 621.7,42.6 622.1,42.3 622.5,42.0 622.9,41.7 623.3,41.5 623.6,41.3 624.0,41.1 624.4,40.9 624.8,40.8 625.2,40.7 625.6,40.6 626.0,40.6 626.3,40.5 626.7,40.5 627.1,40.5 627.5,40.5 627.9,40.4 628.3,40.5 628.7,40.7 629.0,41.0 629.4,41.3 629.8,41.7 630.2,42.1 630.6,42.6 631.0,43.1 631.4,43.7 631.7,44.3 632.1,45.0 632.5,45.6 632.9,46.3 633.3,47.1 633.7,47.8 634.1,48.6 634.4,49.4 634.8,50.2 635.2,51.1 635.6,52.0 636.0,52.9 636.4,53.8 636.8,54.7 637.1,55.6 637.5,56.6 637.9,57.6 638.3,58.5 638.7,59.5 639.1,60.5 639.5,61.5 639.8,62.6 640.2,63.6 640.6,64.6 641.0,65.7 641.4,66.7 641.8,67.8 642.2,68.9 642.5,69.9 642.9,71.0 643.3,72.1 643.7,73.2 644.1,74.2 644.5,75.3 644.9,76.4 645.2,77.5 645.6,78.6 646.0,79.7 646.4,80.7 646.8,81.8 647.2,82.9 647.6,84.0 647.9,85.0 648.3,86.1 648.7,87.2 649.1,88.2 649.5,89.3 649.9,90.3 650.3,91.4 650.6,92.4 651.0,93.4 651.4,94.5 651.8,95.5 652.2,96.5 652.6,97.5 653.0,98.5 653.3,99.5 653.7,100.5 654.1,101.4 654.5,102.4 654.9,103.4 655.3,104.3 655.7,105.2 656.0,106.2 656.4,107.1 656.8,108.0 657.2,108.9 657.6,109.8 658.0,110.7 658.4,111.6 658.7,112.4 659.1,113.3 659.5,114.1 659.9,115.0 660.3,115.8 660.7,116.6 661.1,117.4 661.4,118.2 661.8,119.0 662.2,119.7 662.6,120.5 663.0,121.2 663.4,122.0 663.8,122.7 664.1,123.4 664.5,124.2 664.9,124.8 665.3,125.5 665.7,126.2 666.1,126.9 666.5,127.5 666.8,128.2 667.2,128.8 667.6,129.5 668.0,130.1 668.4,130.7 668.8,131.3 669.2,131.9 669.5,132.4 669.9,133.0 670.3,133.6 670.7,134.1 671.1,134.6 671.5,135.2 671.9,135.7 672.2,136.2 672.6,136.7 673.0,137.2 673.4,137.7 673.8,138.2 674.2,138.6 674.6,139.1 674.9,139.5 675.3,140.0 675.7,140.4 676.1,140.8 676.5,141.2 676.9,141.6 677.3,142.0 677.6,142.4 678.0,142.8 678.4,143.2 678.8,143.5 679.2,143.9 679.6,144.2 680.0,144.6 680.3,144.9 680.7,145.2 681.1,145.6 681.5,145.9 681.9,146.2 682.3,146.5 682.7,146.8 683.0,147.1 683.4,147.4 683.8,147.6 684.2,147.9 684.6,148.2 685.0,148.4 685.4,148.7 685.7,148.9 686.1,149.2 686.5,149.4 686.9,149.6 687.3,149.8 687.7,150.1 688.1,150.3 688.4,150.5 688.8,150.7 689.2,150.9 689.6,151.1 690.0,151.2 690.4,151.4 690.8,151.6 691.1,151.8" fill="none" stroke="#0000ff" stroke-width="1.6" stroke-linejoin="round" stroke-linecap="round"/>
<path d="M583.7,145.0 584.1,144.7 584.4,144.3 584.8,144.0 585.2,143.6 585.6,143.2 586.0,142.7 586.4,142.2 586.8,141.7 587.1,141.2 587.5,140.6 587.9,140.0 588.3,139.4 588.7,138.7 589.1,138.0 589.5,137.3 589.8,136.5 590.2,135.7 590.6,134.8 591.0,133.9 591.4,133.0 591.8,132.0 592.2,131.0 592.5,130.0 592.9,128.9 593.3,127.8 593.7,126.6 594.1,125.4 594.5,124.2 594.9,122.9 595.2,121.6 595.6,120.2 596.0,118.9 596.4,117.4 596.8,116.0 597.2,114.5 597.6,113.0 597.9,111.5 598.3,110.0 598.7,108.4 599.1,106.8 599.5,105.2 599.9,103.6 600.3,102.0 600.6,100.3 601.0,98.7 601.4,97.0 601.8,95.4 602.2,93.7 602.6,92.0 603.0,90.4 603.3,88.7 603.7,87.1 604.1,85.4 604.5,83.8 604.9,82.2 605.3,80.6 605.7,79.0 606.0,77.5 606.4,75.9 606.8,74.4 607.2,73.0 607.6,71.5 608.0,70.1 608.4,68.7 608.7,67.4 609.1,66.1 609.5,64.8 609.9,63.6 610.3,62.4 610.7,61.2 611.1,60.1 611.4,59.1 611.8,58.0 612.2,57.0 612.6,56.1 613.0,55.2 613.4,54.4 613.8,53.5 614.1,52.8 614.5,52.1 614.9,51.4 615.3,50.7 615.7,50.1 616.1,49.6 616.5,49.1 616.8,48.6 617.2,48.2 617.6,47.8 618.0,47.4 618.4,47.1 618.8,46.8 619.2,46.5 619.5,46.3 619.9,46.1 620.3,45.9 620.7,45.7 621.1,45.6 621.5,45.5 621.9,45.4 622.2,45.4 622.6,45.3 623.0,45.3 623.4,45.3 623.8,45.2 624.2,45.2 624.6,45.2 624.9,45.3 625.3,45.3 625.7,45.5 626.1,45.7 626.5,45.9 626.9,46.1 627.3,46.4 627.6,46.7 628.0,47.0 628.4,47.4 628.8,47.8 629.2,48.2 629.6,48.6 630.0,49.0 630.3,49.5 630.7,50.0 631.1,50.5 631.5,51.0 631.9,51.5 632.3,52.1 632.7,52.7 633.0,53.3 633.4,53.9 633.8,54.5 634.2,55.1 634.6,55.8 635.0,56.4 635.4,57.1 635.7,57.8 636.1,58.5 636.5,59.2 636.9,59.9 637.3,60.6 637.7,61.3 638.1,62.1 638.4,62.8 638.8,63.6 639.2,64.3 639.6,65.1 640.0,65.9 640.4,66.7 640.8,67.5 641.1,68.2 641.5,69.0 641.9,69.8 642.3,70.7 642.7,71.5 643.1,72.3 643.5,73.1 643.8,73.9 644.2,74.7 644.6,75.5 645.0,76.4 645.4,77.2 645.8,78.0 646.2,78.8 646.5,79.7 646.9,80.5 647.3,81.3 647.7,82.1 648.1,83.0 648.5,83.8 648.9,84.6 649.2,85.4 649.6,86.2 650.0,87.1 650.4,87.9 650.8,88.7 651.2,89.5 651.6,90.3 651.9,91.1 652.3,91.9 652.7,92.7 653.1,93.5 653.5,94.3 653.9,95.0 654.3,95.8 654.6,96.6 655.0,97.4 655.4,98.1 655.8,98.9 656.2,99.6 656.6,100.4 657.0,101.1 657.3,101.9 657.7,102.6 658.1,103.3 658.5,104.0 658.9,104.7 659.3,105.4 659.7,106.2 660.0,106.8 660.4,107.5 660.8,108.2 661.2,108.9 661.6,109.6 662.0,110.2 662.4,110.9 662.7,111.5 663.1,112.2 663.5,112.8 663.9,113.4 664.3,114.0 664.7,114.7 665.1,115.3 665.4,115.9 665.8,116.5 666.2,117.0 666.6,117.6 667.0,118.2 667.4,118.7 667.8,119.3 668.1,119.9 668.5,120.4 668.9,120.9 669.3,121.5 669.7,122.0 670.1,122.5 670.5,123.0 670.8,123.5 671.2,124.0 671.6,124.5 672.0,125.0 672.4,125.4 672.8,125.9 673.2,126.3 673.5,126.8 673.9,127.2 674.3,127.7 674.7,128.1 675.1,128.5 675.5,128.9 675.9,129.4 676.2,129.8 676.6,130.2 677.0,130.5 677.4,130.9 677.8,131.3 678.2,131.7 678.6,132.0 678.9,132.4 679.3,132.8 679.7,133.1 680.1,133.4 680.5,133.8 680.9,134.1 681.3,134.4 681.6,134.7 682.0,135.1 682.4,135.4 682.8,135.7 683.2,136.0 683.6,136.2 684.0,136.5 684.3,136.8 684.7,137.1 685.1,137.3 685.5,137.6 685.9,137.9 686.3,138.1 686.7,138.4 687.0,138.6 687.4,138.8 687.8,139.1 688.2,139.3 688.6,139.5 689.0,139.7 689.4,140.0 689.7,140.2 690.1,140.4 690.5,140.6 690.9,140.8 691.3,141.0 691.7,141.1 692.1,141.3" fill="none" stroke="#00ee00" stroke-width="1.6" stroke-linejoin="round" stroke-linecap="round"/>
<path d="M584.1,144.0 584.5,143.9 584.9,143.7 585.3,143.6 585.7,143.4 586.1,143.2 586.5,142.9 586.8,142.7 587.2,142.4 587.6,142.0 588.0,141.6 588.4,141.1 588.8,140.6 589.2,140.0 589.5,139.4 589.9,138.6 590.3,137.8 590.7,136.9 591.1,135.9 591.5,134.8 591.9,133.5 592.2,132.2 592.6,130.8 593.0,129.3 593.4,127.7 593.8,126.1 594.2,124.4 594.6,122.6 595.0,120.9 595.3,119.1 595.7,117.4 596.1,115.6 596.5,113.9 596.9,112.2 597.3,110.5 597.7,108.9 598.0,107.3 598.4,105.7 598.8,104.0 599.2,102.4 599.6,100.8 600.0,99.2 600.4,97.6 600.7,95.9 601.1,94.2 601.5,92.6 601.9,90.9 602.3,89.2 602.7,87.6 603.1,85.9 603.5,84.2 603.8,82.6 604.2,81.0 604.6,79.3 605.0,77.7 605.4,76.2 605.8,74.6 606.2,73.1 606.5,71.6 606.9,70.1 607.3,68.7 607.7,67.3 608.1,65.9 608.5,64.6 608.9,63.3 609.2,62.1 609.6,60.9 610.0,59.8 610.4,58.7 610.8,57.7 611.2,56.7 611.6,55.8 611.9,54.9 612.3,54.0 612.7,53.2 613.1,52.4 613.5,51.7 613.9,51.0 614.3,50.4 614.7,49.8 615.0,49.3 615.4,48.7 615.8,48.3 616.2,47.8 616.6,47.4 617.0,47.1 617.4,46.8 617.7,46.5 618.1,46.3 618.5,46.0 618.9,45.9 619.3,45.7 619.7,45.6 620.1,45.6 620.4,45.6 620.8,45.6 621.2,45.6 621.6,45.7 622.0,45.8 622.4,45.9 622.8,46.1 623.2,46.3 623.5,46.5 623.9,46.7 624.3,47.0 624.7,47.2 625.1,47.5 625.5,47.8 625.9,48.1 626.2,48.4 626.6,48.7 627.0,49.0 627.4,49.3 627.8,49.6 628.2,49.9 628.6,50.2 628.9,50.5 629.3,50.8 629.7,51.0 630.1,51.3 630.5,51.6 630.9,51.9 631.3,52.2 631.6,52.6 632.0,52.9 632.4,53.3 632.8,53.6 633.2,54.1 633.6,54.5 634.0,54.9 634.4,55.4 634.7,55.9 635.1,56.5 635.5,57.1 635.9,57.7 636.3,58.4 636.7,59.1 637.1,59.8 637.4,60.6 637.8,61.4 638.2,62.2 638.6,63.1 639.0,63.9 639.4,64.8 639.8,65.7 640.1,66.6 640.5,67.6 640.9,68.5 641.3,69.4 641.7,70.3 642.1,71.3 642.5,72.2 642.9,73.1 643.2,73.9 643.6,74.8 644.0,75.6 644.4,76.4 644.8,77.2 645.2,78.0 645.6,78.7 645.9,79.4 646.3,80.0 646.7,80.7 647.1,81.3 647.5,81.9 647.9,82.5 648.3,83.1 648.6,83.7 649.0,84.3 649.4,84.9 649.8,85.5 650.2,86.2 650.6,86.9 651.0,87.5 651.3,88.2 651.7,89.0 652.1,89.7 652.5,90.4 652.9,91.2 653.3,91.9 653.7,92.7 654.1,93.5 654.4,94.3 654.8,95.1 655.2,95.8 655.6,96.6 656.0,97.4 656.4,98.2 656.8,99.0 657.1,99.7 657.5,100.5 657.9,101.3 658.3,102.0 658.7,102.8 659.1,103.5 659.5,104.2 659.8,104.9 660.2,105.6 660.6,106.3 661.0,106.9 661.4,107.6 661.8,108.2 662.2,108.8 662.6,109.4 662.9,110.0 663.3,110.6 663.7,111.2 664.1,111.8 664.5,112.4 664.9,112.9 665.3,113.5 665.6,114.0 666.0,114.5 666.4,115.1 666.8,115.6 667.2,116.1 667.6,116.7 668.0,117.2 668.3,117.7 668.7,118.3 669.1,118.8 669.5,119.3 669.9,119.9 670.3,120.4 670.7,120.9 671.0,121.5 671.4,122.0 671.8,122.6 672.2,123.1 672.6,123.7 673.0,124.2 673.4,124.8 673.8,125.3 674.1,125.8 674.5,126.4 674.9,126.9 675.3,127.4 675.7,128.0 676.1,128.5 676.5,129.0 676.8,129.5 677.2,130.0 677.6,130.5 678.0,131.0 678.4,131.4 678.8,131.9 679.2,132.4 679.5,132.8 679.9,133.2 680.3,133.7 680.7,134.1 681.1,134.5 681.5,134.9 681.9,135.3 682.3,135.6 682.6,136.0 683.0,136.4 683.4,136.7 683.8,137.1 684.2,137.4 684.6,137.7 685.0,138.1 685.3,138.4 685.7,138.7 686.1,139.0 686.5,139.3 686.9,139.6 687.3,139.9 687.7,140.2 688.0,140.5 688.4,140.8 688.8,141.1 689.2,141.3 689.6,141.6 690.0,141.9 690.4,142.2 690.7,142.5 691.1,142.7" fill="none" stroke="#000000" stroke-width="1.25" stroke-linejoin="round" stroke-linecap="round"/>
</g>
<rect x="539.6" y="17.5" width="184.8" height="136.5" fill="none" stroke="#b4b4b4" stroke-width="1"/>
<path d="M539.6,154 v-2 M539.6,17.5 v2" stroke="#b4b4b4" stroke-width="0.8"/>
<text transform="translate(539.6,165) scale(1,1.1)" text-anchor="middle" font-size="9" fill="#000">1960</text>
<path d="M585.8,154 v-2 M585.8,17.5 v2" stroke="#b4b4b4" stroke-width="0.8"/>
<text transform="translate(585.8,165) scale(1,1.1)" text-anchor="middle" font-size="9" fill="#000">1965</text>
<path d="M632,154 v-2 M632,17.5 v2" stroke="#b4b4b4" stroke-width="0.8"/>
<text transform="translate(632,165) scale(1,1.1)" text-anchor="middle" font-size="9" fill="#000">1970</text>
<path d="M678.2,154 v-2 M678.2,17.5 v2" stroke="#b4b4b4" stroke-width="0.8"/>
<text transform="translate(678.2,165) scale(1,1.1)" text-anchor="middle" font-size="9" fill="#000">1975</text>
<path d="M724.4,154 v-2 M724.4,17.5 v2" stroke="#b4b4b4" stroke-width="0.8"/>
<text transform="translate(724.4,165) scale(1,1.1)" text-anchor="middle" font-size="9" fill="#000">1980</text>
<path d="M539.6,154 h2 M724.4,154 h-2" stroke="#b4b4b4" stroke-width="0.8"/>
<text transform="translate(537.6,157.9) scale(1,1.1)" text-anchor="end" font-size="9" fill="#000">0</text>
<path d="M539.6,119.88 h2 M724.4,119.88 h-2" stroke="#b4b4b4" stroke-width="0.8"/>
<text transform="translate(537.6,123.78) scale(1,1.1)" text-anchor="end" font-size="9" fill="#000">50</text>
<path d="M539.6,85.75 h2 M724.4,85.75 h-2" stroke="#b4b4b4" stroke-width="0.8"/>
<text transform="translate(537.6,89.65) scale(1,1.1)" text-anchor="end" font-size="9" fill="#000">100</text>
<path d="M539.6,51.62 h2 M724.4,51.62 h-2" stroke="#b4b4b4" stroke-width="0.8"/>
<text transform="translate(537.6,55.52) scale(1,1.1)" text-anchor="end" font-size="9" fill="#000">150</text>
<path d="M539.6,17.5 h2 M724.4,17.5 h-2" stroke="#b4b4b4" stroke-width="0.8"/>
<text transform="translate(537.6,21.4) scale(1,1.1)" text-anchor="end" font-size="9" fill="#000">200</text>
<text x="632" y="9.4" text-anchor="middle" font-size="12.6" fill="#000">Cycle 20</text>
<text x="633.5" y="176" text-anchor="middle" font-size="12.2" fill="#000">DATA</text>
<text transform="translate(516.8,85.75) rotate(-90)" text-anchor="middle" font-size="11.5" fill="#000">SUNSPOT NUMBER</text>
<text x="626.8" y="197.1" text-anchor="middle" font-family="Liberation Serif, serif" font-size="14.4" fill="#222">(c)</text>
<rect x="674.1" y="20.7" width="48" height="67.7" fill="#fff" stroke="#b4b4b4" stroke-width="1"/>
<circle cx="686.1" cy="27.2" r="1.9" fill="none" stroke="#777" stroke-width="0.8"/>
<text transform="translate(697.1,30.1) scale(1,1)" font-size="9.8" fill="#000">SN</text>
<path d="M677.8,38.2 h18" stroke="#00f0ff" stroke-width="1.4"/>
<text transform="translate(697.1,41.1) scale(1,1)" font-size="9.8" fill="#000">Fit−P</text>
<path d="M677.8,49.2 h18" stroke="#ffff00" stroke-width="1.4"/>
<text transform="translate(697.1,52.1) scale(1,1)" font-size="9.8" fill="#000">Fit−L</text>
<path d="M677.8,60.2 h18" stroke="#0000ff" stroke-width="1.4"/>
<text transform="translate(697.1,63.1) scale(1,1)" font-size="9.8" fill="#000">Fit−D</text>
<path d="M677.8,71.2 h18" stroke="#00ee00" stroke-width="1.4"/>
<text transform="translate(697.1,74.1) scale(1,1)" font-size="9.8" fill="#000">Fit−G</text>
<path d="M677.8,82.2 h18" stroke="#000000" stroke-width="1.1"/>
<text transform="translate(697.1,85.1) scale(1,1)" font-size="9.8" fill="#000">Fit−C</text>
<clipPath id="clipd"><rect x="35.1" y="242.3" width="185.4" height="136.7"/></clipPath>
<g clip-path="url(#clipd)">
<path d="M40.5,370.9a1.7,1.7 0 1,0 3.4,0a1.7,1.7 0 1,0 -3.4,0M42.7,367.5a1.7,1.7 0 1,0 3.4,0a1.7,1.7 0 1,0 -3.4,0M44.9,369.3a1.7,1.7 0 1,0 3.4,0a1.7,1.7 0 1,0 -3.4,0M47.1,366.5a1.7,1.7 0 1,0 3.4,0a1.7,1.7 0 1,0 -3.4,0M49.3,363.6a1.7,1.7 0 1,0 3.4,0a1.7,1.7 0 1,0 -3.4,0M51.4,364.6a1.7,1.7 0 1,0 3.4,0a1.7,1.7 0 1,0 -3.4,0M53.6,359.5a1.7,1.7 0 1,0 3.4,0a1.7,1.7 0 1,0 -3.4,0M55.8,353.4a1.7,1.7 0 1,0 3.4,0a1.7,1.7 0 1,0 -3.4,0M58.0,351.9a1.7,1.7 0 1,0 3.4,0a1.7,1.7 0 1,0 -3.4,0M60.2,345.4a1.7,1.7 0 1,0 3.4,0a1.7,1.7 0 1,0 -3.4,0M62.4,339.3a1.7,1.7 0 1,0 3.4,0a1.7,1.7 0 1,0 -3.4,0M64.6,337.9a1.7,1.7 0 1,0 3.4,0a1.7,1.7 0 1,0 -3.4,0M66.7,331.6a1.7,1.7 0 1,0 3.4,0a1.7,1.7 0 1,0 -3.4,0M68.9,325.4a1.7,1.7 0 1,0 3.4,0a1.7,1.7 0 1,0 -3.4,0M71.1,323.2a1.7,1.7 0 1,0 3.4,0a1.7,1.7 0 1,0 -3.4,0M73.3,315.2a1.7,1.7 0 1,0 3.4,0a1.7,1.7 0 1,0 -3.4,0M75.5,306.6a1.7,1.7 0 1,0 3.4,0a1.7,1.7 0 1,0 -3.4,0M77.7,302.1a1.7,1.7 0 1,0 3.4,0a1.7,1.7 0 1,0 -3.4,0M79.9,293.0a1.7,1.7 0 1,0 3.4,0a1.7,1.7 0 1,0 -3.4,0M82.1,285.5a1.7,1.7 0 1,0 3.4,0a1.7,1.7 0 1,0 -3.4,0M84.2,284.0a1.7,1.7 0 1,0 3.4,0a1.7,1.7 0 1,0 -3.4,0M86.4,279.0a1.7,1.7 0 1,0 3.4,0a1.7,1.7 0 1,0 -3.4,0M88.6,275.7a1.7,1.7 0 1,0 3.4,0a1.7,1.7 0 1,0 -3.4,0M90.8,277.3a1.7,1.7 0 1,0 3.4,0a1.7,1.7 0 1,0 -3.4,0M93.0,274.4a1.7,1.7 0 1,0 3.4,0a1.7,1.7 0 1,0 -3.4,0M95.2,273.3a1.7,1.7 0 1,0 3.4,0a1.7,1.7 0 1,0 -3.4,0M97.3,277.5a1.7,1.7 0 1,0 3.4,0a1.7,1.7 0 1,0 -3.4,0M99.5,277.5a1.7,1.7 0 1,0 3.4,0a1.7,1.7 0 1,0 -3.4,0M101.7,279.0a1.7,1.7 0 1,0 3.4,0a1.7,1.7 0 1,0 -3.4,0M103.9,284.3a1.7,1.7 0 1,0 3.4,0a1.7,1.7 0 1,0 -3.4,0M106.1,284.4a1.7,1.7 0 1,0 3.4,0a1.7,1.7 0 1,0 -3.4,0M108.3,285.0a1.7,1.7 0 1,0 3.4,0a1.7,1.7 0 1,0 -3.4,0M110.5,289.1a1.7,1.7 0 1,0 3.4,0a1.7,1.7 0 1,0 -3.4,0M112.7,287.2a1.7,1.7 0 1,0 3.4,0a1.7,1.7 0 1,0 -3.4,0M114.8,286.0a1.7,1.7 0 1,0 3.4,0a1.7,1.7 0 1,0 -3.4,0M117.0,289.3a1.7,1.7 0 1,0 3.4,0a1.7,1.7 0 1,0 -3.4,0M119.2,287.9a1.7,1.7 0 1,0 3.4,0a1.7,1.7 0 1,0 -3.4,0M121.4,288.4a1.7,1.7 0 1,0 3.4,0a1.7,1.7 0 1,0 -3.4,0M123.6,293.5a1.7,1.7 0 1,0 3.4,0a1.7,1.7 0 1,0 -3.4,0M125.8,294.0a1.7,1.7 0 1,0 3.4,0a1.7,1.7 0 1,0 -3.4,0M128.0,296.1a1.7,1.7 0 1,0 3.4,0a1.7,1.7 0 1,0 -3.4,0M130.1,302.5a1.7,1.7 0 1,0 3.4,0a1.7,1.7 0 1,0 -3.4,0M132.3,304.6a1.7,1.7 0 1,0 3.4,0a1.7,1.7 0 1,0 -3.4,0M134.5,308.5a1.7,1.7 0 1,0 3.4,0a1.7,1.7 0 1,0 -3.4,0M136.7,316.7a1.7,1.7 0 1,0 3.4,0a1.7,1.7 0 1,0 -3.4,0M138.9,320.0a1.7,1.7 0 1,0 3.4,0a1.7,1.7 0 1,0 -3.4,0M141.1,324.6a1.7,1.7 0 1,0 3.4,0a1.7,1.7 0 1,0 -3.4,0M143.3,332.7a1.7,1.7 0 1,0 3.4,0a1.7,1.7 0 1,0 -3.4,0M145.4,334.7a1.7,1.7 0 1,0 3.4,0a1.7,1.7 0 1,0 -3.4,0M147.6,335.5a1.7,1.7 0 1,0 3.4,0a1.7,1.7 0 1,0 -3.4,0M149.8,338.4a1.7,1.7 0 1,0 3.4,0a1.7,1.7 0 1,0 -3.4,0M152.0,335.5a1.7,1.7 0 1,0 3.4,0a1.7,1.7 0 1,0 -3.4,0M154.2,336.1a1.7,1.7 0 1,0 3.4,0a1.7,1.7 0 1,0 -3.4,0M156.4,341.5a1.7,1.7 0 1,0 3.4,0a1.7,1.7 0 1,0 -3.4,0M158.6,342.3a1.7,1.7 0 1,0 3.4,0a1.7,1.7 0 1,0 -3.4,0M160.8,345.5a1.7,1.7 0 1,0 3.4,0a1.7,1.7 0 1,0 -3.4,0M162.9,352.8a1.7,1.7 0 1,0 3.4,0a1.7,1.7 0 1,0 -3.4,0M165.1,354.3a1.7,1.7 0 1,0 3.4,0a1.7,1.7 0 1,0 -3.4,0M167.3,356.9a1.7,1.7 0 1,0 3.4,0a1.7,1.7 0 1,0 -3.4,0M169.5,362.4a1.7,1.7 0 1,0 3.4,0a1.7,1.7 0 1,0 -3.4,0M171.7,361.9a1.7,1.7 0 1,0 3.4,0a1.7,1.7 0 1,0 -3.4,0M173.9,362.8a1.7,1.7 0 1,0 3.4,0a1.7,1.7 0 1,0 -3.4,0M176.0,367.6a1.7,1.7 0 1,0 3.4,0a1.7,1.7 0 1,0 -3.4,0M178.2,367.1a1.7,1.7 0 1,0 3.4,0a1.7,1.7 0 1,0 -3.4,0M180.4,368.4a1.7,1.7 0 1,0 3.4,0a1.7,1.7 0 1,0 -3.4,0M182.6,372.5a1.7,1.7 0 1,0 3.4,0a1.7,1.7 0 1,0 -3.4,0M184.8,370.6a1.7,1.7 0 1,0 3.4,0a1.7,1.7 0 1,0 -3.4,0M187.0,370.4a1.7,1.7 0 1,0 3.4,0a1.7,1.7 0 1,0 -3.4,0M189.2,373.5a1.7,1.7 0 1,0 3.4,0a1.7,1.7 0 1,0 -3.4,0M191.4,371.2a1.7,1.7 0 1,0 3.4,0a1.7,1.7 0 1,0 -3.4,0M193.5,371.5a1.7,1.7 0 1,0 3.4,0a1.7,1.7 0 1,0 -3.4,0M195.7,375.7a1.7,1.7 0 1,0 3.4,0a1.7,1.7 0 1,0 -3.4,0M197.9,374.7a1.7,1.7 0 1,0 3.4,0a1.7,1.7 0 1,0 -3.4,0M200.1,375.7a1.7,1.7 0 1,0 3.4,0a1.7,1.7 0 1,0 -3.4,0" fill="none" stroke="#7a7a7a" stroke-width="0.75"/>
<path d="M42.2,376.6 42.9,376.2 43.5,375.7 44.1,375.2 44.8,374.7 45.4,374.2 46.1,373.7 46.7,373.1 47.4,372.5 48.0,371.8 48.7,371.1 49.3,370.4 50.0,369.7 50.6,368.9 51.3,368.1 51.9,367.3 52.5,366.4 53.2,365.5 53.8,364.6 54.5,363.6 55.1,362.6 55.8,361.6 56.4,360.5 57.1,359.4 57.7,358.3 58.4,357.1 59.0,355.9 59.7,354.7 60.3,353.4 60.9,352.1 61.6,350.8 62.2,349.4 62.9,348.0 63.5,346.6 64.2,345.2 64.8,343.7 65.5,342.2 66.1,340.7 66.8,339.2 67.4,337.6 68.1,336.1 68.7,334.5 69.3,332.9 70.0,331.3 70.6,329.7 71.3,328.0 71.9,326.4 72.6,324.8 73.2,323.1 73.9,321.5 74.5,319.9 75.2,318.2 75.8,316.6 76.5,315.0 77.1,313.4 77.7,311.8 78.4,310.2 79.0,308.6 79.7,307.0 80.3,305.5 81.0,304.0 81.6,302.5 82.3,301.1 82.9,299.6 83.6,298.2 84.2,296.9 84.9,295.5 85.5,294.2 86.1,292.9 86.8,291.7 87.4,290.5 88.1,289.4 88.7,288.2 89.4,287.2 90.0,286.1 90.7,285.1 91.3,284.2 92.0,283.3 92.6,282.4 93.3,281.6 93.9,280.8 94.5,280.1 95.2,279.4 95.8,278.7 96.5,278.1 97.1,277.5 97.8,277.0 98.4,276.5 99.1,276.1 99.7,275.7 100.4,275.3 101.0,275.0 101.7,274.7 102.3,274.5 102.9,274.3 103.6,274.1 104.2,273.9 104.9,273.8 105.5,273.7 106.2,273.6 106.8,273.5 107.5,273.5 108.1,273.5 108.8,273.5 109.4,273.5 110.1,273.7 110.7,274.1 111.3,274.5 112.0,274.9 112.6,275.5 113.3,276.0 113.9,276.7 114.6,277.3 115.2,278.0 115.9,278.8 116.5,279.6 117.2,280.4 117.8,281.2 118.5,282.1 119.1,283.0 119.7,283.9 120.4,284.8 121.0,285.8 121.7,286.7 122.3,287.7 123.0,288.7 123.6,289.7 124.3,290.8 124.9,291.8 125.6,292.9 126.2,293.9 126.9,295.0 127.5,296.1 128.1,297.2 128.8,298.2 129.4,299.3 130.1,300.4 130.7,301.5 131.4,302.7 132.0,303.8 132.7,304.9 133.3,306.0 134.0,307.1 134.6,308.2 135.3,309.3 135.9,310.4 136.5,311.5 137.2,312.6 137.8,313.7 138.5,314.8 139.1,315.9 139.8,317.0 140.4,318.0 141.1,319.1 141.7,320.2 142.4,321.2 143.0,322.3 143.7,323.3 144.3,324.4 144.9,325.4 145.6,326.4 146.2,327.4 146.9,328.4 147.5,329.4 148.2,330.4 148.8,331.3 149.5,332.3 150.1,333.3 150.8,334.2 151.4,335.1 152.1,336.0 152.7,336.9 153.3,337.8 154.0,338.7 154.6,339.6 155.3,340.5 155.9,341.3 156.6,342.2 157.2,343.0 157.9,343.8 158.5,344.6 159.2,345.4 159.8,346.2 160.5,347.0 161.1,347.7 161.7,348.5 162.4,349.2 163.0,350.0 163.7,350.7 164.3,351.4 165.0,352.1 165.6,352.8 166.3,353.4 166.9,354.1 167.6,354.7 168.2,355.4 168.9,356.0 169.5,356.6 170.1,357.2 170.8,357.8 171.4,358.4 172.1,359.0 172.7,359.5 173.4,360.1 174.0,360.6 174.7,361.1 175.3,361.7 176.0,362.2 176.6,362.7 177.3,363.2 177.9,363.6 178.5,364.1 179.2,364.6 179.8,365.0 180.5,365.5 181.1,365.9 181.8,366.3 182.4,366.7 183.1,367.1 183.7,367.5 184.4,367.9 185.0,368.3 185.7,368.7 186.3,369.0 186.9,369.4 187.6,369.7 188.2,370.1 188.9,370.4 189.5,370.7 190.2,371.0 190.8,371.4 191.5,371.7 192.1,372.0 192.8,372.2 193.4,372.5 194.1,372.8 194.7,373.1 195.3,373.3 196.0,373.6 196.6,373.8 197.3,374.1 197.9,374.3 198.6,374.5 199.2,374.8 199.9,375.0 200.5,375.2 201.2,375.4 201.8,375.6" fill="none" stroke="#00f0ff" stroke-width="1.6" stroke-linejoin="round" stroke-linecap="round"/>
<path d="M42.2,364.6 42.9,364.2 43.5,363.9 44.1,363.5 44.8,363.2 45.4,362.7 46.1,362.3 46.7,361.8 47.4,361.4 48.0,360.9 48.7,360.3 49.3,359.8 50.0,359.2 50.6,358.6 51.3,358.1 51.9,357.4 52.5,356.8 53.2,356.2 53.8,355.5 54.5,354.8 55.1,354.1 55.8,353.4 56.4,352.7 57.1,352.0 57.7,351.3 58.4,350.5 59.0,349.8 59.7,349.0 60.3,348.3 60.9,347.5 61.6,346.7 62.2,345.9 62.9,345.0 63.5,344.1 64.2,343.1 64.8,342.1 65.5,341.1 66.1,340.0 66.8,339.0 67.4,337.9 68.1,336.7 68.7,335.6 69.3,334.4 70.0,333.3 70.6,332.1 71.3,330.8 71.9,329.6 72.6,328.3 73.2,327.0 73.9,325.7 74.5,324.3 75.2,322.9 75.8,321.4 76.5,319.9 77.1,318.4 77.7,316.8 78.4,315.1 79.0,313.4 79.7,311.6 80.3,309.8 81.0,307.9 81.6,305.9 82.3,303.9 82.9,301.8 83.6,299.7 84.2,297.6 84.9,295.4 85.5,293.2 86.1,290.9 86.8,288.7 87.4,286.3 88.1,284.0 88.7,281.5 89.4,278.9 90.0,276.3 90.7,273.5 91.3,270.0 92.0,265.7 92.6,262.3 93.3,261.0 93.9,261.7 94.5,263.3 95.2,265.2 95.8,267.0 96.5,268.5 97.1,270.0 97.8,271.4 98.4,272.8 99.1,274.2 99.7,275.6 100.4,277.0 101.0,278.4 101.7,279.8 102.3,281.1 102.9,282.3 103.6,283.4 104.2,284.3 104.9,285.1 105.5,285.7 106.2,286.3 106.8,286.8 107.5,287.3 108.1,287.7 108.8,288.0 109.4,288.3 110.1,288.5 110.7,288.7 111.3,288.9 112.0,289.1 112.6,289.2 113.3,289.3 113.9,289.4 114.6,289.4 115.2,289.3 115.9,289.1 116.5,288.8 117.2,288.4 117.8,287.9 118.5,287.5 119.1,287.0 119.7,286.5 120.4,286.0 121.0,285.3 121.7,284.6 122.3,283.8 123.0,283.1 123.6,282.2 124.3,281.2 124.9,280.5 125.6,280.5 126.2,281.1 126.9,282.2 127.5,283.5 128.1,285.0 128.8,286.6 129.4,288.9 130.1,291.5 130.7,294.0 131.4,296.0 132.0,298.0 132.7,299.9 133.3,301.7 134.0,303.4 134.6,305.1 135.3,306.7 135.9,308.3 136.5,309.9 137.2,311.4 137.8,312.9 138.5,314.4 139.1,315.9 139.8,317.4 140.4,318.9 141.1,320.4 141.7,321.8 142.4,323.2 143.0,324.6 143.7,326.0 144.3,327.3 144.9,328.6 145.6,329.8 146.2,330.9 146.9,332.0 147.5,333.1 148.2,334.1 148.8,335.0 149.5,335.8 150.1,336.5 150.8,337.3 151.4,337.9 152.1,338.6 152.7,339.2 153.3,339.7 154.0,340.3 154.6,340.8 155.3,341.3 155.9,341.9 156.6,342.4 157.2,342.9 157.9,343.5 158.5,344.1 159.2,344.7 159.8,345.3 160.5,346.0 161.1,346.7 161.7,347.5 162.4,348.3 163.0,349.2 163.7,350.1 164.3,351.0 165.0,351.9 165.6,352.8 166.3,353.6 166.9,354.5 167.6,355.3 168.2,356.1 168.9,356.8 169.5,357.5 170.1,358.0 170.8,358.6 171.4,359.1 172.1,359.6 172.7,360.1 173.4,360.6 174.0,361.1 174.7,361.5 175.3,362.0 176.0,362.4 176.6,362.8 177.3,363.2 177.9,363.6 178.5,364.0 179.2,364.3 179.8,364.7 180.5,365.0 181.1,365.4 181.8,365.7 182.4,366.0 183.1,366.3 183.7,366.6 184.4,366.8 185.0,367.1 185.7,367.3 186.3,367.6 186.9,367.8 187.6,368.1 188.2,368.3 188.9,368.6 189.5,368.8 190.2,369.0 190.8,369.2 191.5,369.5 192.1,369.7 192.8,369.9 193.4,370.1 194.1,370.3 194.7,370.5 195.3,370.6 196.0,370.8 196.6,371.0 197.3,371.1 197.9,371.3 198.6,371.4 199.2,371.5 199.9,371.6 200.5,371.7 201.2,371.8 201.8,371.9" fill="none" stroke="#ffff00" stroke-width="1.6" stroke-linejoin="round" stroke-linecap="round"/>
<path d="M42.2,378.7 42.9,378.3 43.5,377.8 44.1,377.3 44.8,376.8 45.4,376.2 46.1,375.7 46.7,375.1 47.4,374.4 48.0,373.8 48.7,373.1 49.3,372.4 50.0,371.6 50.6,370.8 51.3,370.0 51.9,369.2 52.5,368.3 53.2,367.4 53.8,366.5 54.5,365.5 55.1,364.5 55.8,363.4 56.4,362.4 57.1,361.3 57.7,360.1 58.4,359.0 59.0,357.8 59.7,356.5 60.3,355.3 60.9,354.0 61.6,352.7 62.2,351.3 62.9,349.9 63.5,348.5 64.2,347.1 64.8,345.6 65.5,344.1 66.1,342.6 66.8,341.1 67.4,339.6 68.1,338.0 68.7,336.4 69.3,334.8 70.0,333.2 70.6,331.6 71.3,329.9 71.9,328.3 72.6,326.7 73.2,325.0 73.9,323.3 74.5,321.7 75.2,320.0 75.8,318.4 76.5,316.7 77.1,315.1 77.7,313.4 78.4,311.8 79.0,310.2 79.7,308.6 80.3,307.0 81.0,305.5 81.6,303.9 82.3,302.4 82.9,300.9 83.6,299.5 84.2,298.0 84.9,296.6 85.5,295.2 86.1,293.9 86.8,292.6 87.4,291.3 88.1,290.1 88.7,288.9 89.4,287.7 90.0,286.6 90.7,285.5 91.3,284.5 92.0,283.5 92.6,282.5 93.3,281.6 93.9,280.7 94.5,279.9 95.2,279.1 95.8,278.4 96.5,277.7 97.1,277.1 97.8,276.5 98.4,275.9 99.1,275.4 99.7,274.9 100.4,274.5 101.0,274.1 101.7,273.7 102.3,273.4 102.9,273.2 103.6,272.9 104.2,272.7 104.9,272.5 105.5,272.4 106.2,272.3 106.8,272.2 107.5,272.2 108.1,272.1 108.8,272.1 109.4,272.1 110.1,272.3 110.7,272.6 111.3,272.9 112.0,273.4 112.6,273.9 113.3,274.5 113.9,275.1 114.6,275.8 115.2,276.5 115.9,277.2 116.5,278.0 117.2,278.8 117.8,279.6 118.5,280.5 119.1,281.4 119.7,282.3 120.4,283.2 121.0,284.2 121.7,285.2 122.3,286.2 123.0,287.2 123.6,288.2 124.3,289.3 124.9,290.3 125.6,291.4 126.2,292.5 126.9,293.6 127.5,294.7 128.1,295.8 128.8,296.9 129.4,298.0 130.1,299.1 130.7,300.2 131.4,301.4 132.0,302.5 132.7,303.6 133.3,304.8 134.0,305.9 134.6,307.0 135.3,308.2 135.9,309.3 136.5,310.4 137.2,311.6 137.8,312.7 138.5,313.8 139.1,314.9 139.8,316.0 140.4,317.1 141.1,318.2 141.7,319.3 142.4,320.4 143.0,321.5 143.7,322.6 144.3,323.6 144.9,324.7 145.6,325.8 146.2,326.8 146.9,327.8 147.5,328.9 148.2,329.9 148.8,330.9 149.5,331.9 150.1,332.9 150.8,333.8 151.4,334.8 152.1,335.8 152.7,336.7 153.3,337.6 154.0,338.6 154.6,339.5 155.3,340.4 155.9,341.3 156.6,342.1 157.2,343.0 157.9,343.9 158.5,344.7 159.2,345.5 159.8,346.4 160.5,347.2 161.1,348.0 161.7,348.8 162.4,349.5 163.0,350.3 163.7,351.0 164.3,351.8 165.0,352.5 165.6,353.2 166.3,353.9 166.9,354.6 167.6,355.3 168.2,356.0 168.9,356.6 169.5,357.3 170.1,357.9 170.8,358.6 171.4,359.2 172.1,359.8 172.7,360.4 173.4,361.0 174.0,361.5 174.7,362.1 175.3,362.6 176.0,363.2 176.6,363.7 177.3,364.2 177.9,364.7 178.5,365.2 179.2,365.7 179.8,366.2 180.5,366.7 181.1,367.2 181.8,367.6 182.4,368.0 183.1,368.5 183.7,368.9 184.4,369.3 185.0,369.7 185.7,370.1 186.3,370.5 186.9,370.9 187.6,371.3 188.2,371.6 188.9,372.0 189.5,372.3 190.2,372.7 190.8,373.0 191.5,373.3 192.1,373.7 192.8,374.0 193.4,374.3 194.1,374.6 194.7,374.9 195.3,375.1 196.0,375.4 196.6,375.7 197.3,376.0 197.9,376.2 198.6,376.5 199.2,376.7 199.9,377.0 200.5,377.2 201.2,377.4 201.8,377.6" fill="none" stroke="#0000ff" stroke-width="1.6" stroke-linejoin="round" stroke-linecap="round"/>
<path d="M42.2,371.4 42.9,371.0 43.5,370.6 44.1,370.2 44.8,369.7 45.4,369.2 46.1,368.7 46.7,368.1 47.4,367.6 48.0,367.0 48.7,366.4 49.3,365.7 50.0,365.1 50.6,364.4 51.3,363.6 51.9,362.9 52.5,362.1 53.2,361.3 53.8,360.4 54.5,359.6 55.1,358.7 55.8,357.7 56.4,356.8 57.1,355.8 57.7,354.8 58.4,353.7 59.0,352.6 59.7,351.5 60.3,350.4 60.9,349.2 61.6,348.0 62.2,346.7 62.9,345.5 63.5,344.2 64.2,342.9 64.8,341.5 65.5,340.2 66.1,338.8 66.8,337.4 67.4,335.9 68.1,334.5 68.7,333.0 69.3,331.5 70.0,330.0 70.6,328.5 71.3,327.0 71.9,325.4 72.6,323.9 73.2,322.3 73.9,320.7 74.5,319.2 75.2,317.6 75.8,316.0 76.5,314.4 77.1,312.9 77.7,311.3 78.4,309.7 79.0,308.2 79.7,306.6 80.3,305.1 81.0,303.6 81.6,302.1 82.3,300.6 82.9,299.2 83.6,297.8 84.2,296.4 84.9,295.0 85.5,293.6 86.1,292.3 86.8,291.0 87.4,289.8 88.1,288.6 88.7,287.4 89.4,286.3 90.0,285.2 90.7,284.1 91.3,283.1 92.0,282.2 92.6,281.3 93.3,280.4 93.9,279.6 94.5,278.8 95.2,278.1 95.8,277.4 96.5,276.8 97.1,276.2 97.8,275.7 98.4,275.2 99.1,274.8 99.7,274.4 100.4,274.1 101.0,273.8 101.7,273.6 102.3,273.4 102.9,273.3 103.6,273.2 104.2,273.1 104.9,273.1 105.5,273.1 106.2,273.3 106.8,273.5 107.5,273.8 108.1,274.1 108.8,274.5 109.4,274.9 110.1,275.4 110.7,275.9 111.3,276.4 112.0,277.0 112.6,277.6 113.3,278.3 113.9,278.9 114.6,279.7 115.2,280.4 115.9,281.2 116.5,281.9 117.2,282.7 117.8,283.6 118.5,284.4 119.1,285.3 119.7,286.2 120.4,287.1 121.0,288.0 121.7,289.0 122.3,289.9 123.0,290.9 123.6,291.9 124.3,292.9 124.9,293.9 125.6,294.9 126.2,295.9 126.9,296.9 127.5,297.9 128.1,299.0 128.8,300.0 129.4,301.1 130.1,302.1 130.7,303.2 131.4,304.3 132.0,305.3 132.7,306.4 133.3,307.4 134.0,308.5 134.6,309.6 135.3,310.6 135.9,311.7 136.5,312.8 137.2,313.8 137.8,314.9 138.5,315.9 139.1,317.0 139.8,318.0 140.4,319.0 141.1,320.1 141.7,321.1 142.4,322.1 143.0,323.1 143.7,324.1 144.3,325.1 144.9,326.1 145.6,327.1 146.2,328.0 146.9,329.0 147.5,329.9 148.2,330.9 148.8,331.8 149.5,332.7 150.1,333.7 150.8,334.6 151.4,335.5 152.1,336.3 152.7,337.2 153.3,338.1 154.0,338.9 154.6,339.8 155.3,340.6 155.9,341.4 156.6,342.2 157.2,343.0 157.9,343.8 158.5,344.6 159.2,345.3 159.8,346.1 160.5,346.8 161.1,347.5 161.7,348.2 162.4,348.9 163.0,349.6 163.7,350.3 164.3,351.0 165.0,351.6 165.6,352.3 166.3,352.9 166.9,353.5 167.6,354.1 168.2,354.7 168.9,355.3 169.5,355.9 170.1,356.4 170.8,357.0 171.4,357.5 172.1,358.1 172.7,358.6 173.4,359.1 174.0,359.6 174.7,360.1 175.3,360.6 176.0,361.0 176.6,361.5 177.3,361.9 177.9,362.4 178.5,362.8 179.2,363.2 179.8,363.6 180.5,364.0 181.1,364.4 181.8,364.8 182.4,365.2 183.1,365.5 183.7,365.9 184.4,366.2 185.0,366.6 185.7,366.9 186.3,367.2 186.9,367.5 187.6,367.8 188.2,368.1 188.9,368.4 189.5,368.7 190.2,369.0 190.8,369.2 191.5,369.5 192.1,369.8 192.8,370.0 193.4,370.2 194.1,370.5 194.7,370.7 195.3,370.9 196.0,371.1 196.6,371.3 197.3,371.6 197.9,371.8 198.6,371.9 199.2,372.1 199.9,372.3 200.5,372.5 201.2,372.7 201.8,372.8" fill="none" stroke="#00ee00" stroke-width="1.6" stroke-linejoin="round" stroke-linecap="round"/>
<path d="M42.2,371.9 42.9,371.4 43.5,370.9 44.1,370.4 44.8,369.9 45.4,369.3 46.1,368.8 46.7,368.3 47.4,367.7 48.0,367.1 48.7,366.5 49.3,365.9 50.0,365.3 50.6,364.7 51.3,364.0 51.9,363.3 52.5,362.6 53.2,361.8 53.8,361.0 54.5,360.2 55.1,359.4 55.8,358.5 56.4,357.6 57.1,356.6 57.7,355.6 58.4,354.6 59.0,353.5 59.7,352.3 60.3,351.1 60.9,349.9 61.6,348.6 62.2,347.3 62.9,345.9 63.5,344.4 64.2,343.0 64.8,341.5 65.5,340.0 66.1,338.4 66.8,336.9 67.4,335.3 68.1,333.7 68.7,332.1 69.3,330.5 70.0,328.8 70.6,327.2 71.3,325.6 71.9,324.0 72.6,322.4 73.2,320.8 73.9,319.1 74.5,317.5 75.2,315.7 75.8,314.0 76.5,312.1 77.1,310.3 77.7,308.3 78.4,306.4 79.0,304.4 79.7,302.3 80.3,300.3 81.0,298.3 81.6,296.4 82.3,294.5 82.9,292.6 83.6,290.8 84.2,289.2 84.9,287.6 85.5,286.1 86.1,284.7 86.8,283.4 87.4,282.2 88.1,281.2 88.7,280.2 89.4,279.4 90.0,278.6 90.7,278.0 91.3,277.5 92.0,277.0 92.6,276.7 93.3,276.4 93.9,276.3 94.5,276.2 95.2,276.1 95.8,276.1 96.5,276.1 97.1,276.2 97.8,276.4 98.4,276.5 99.1,276.7 99.7,276.9 100.4,277.2 101.0,277.5 101.7,277.8 102.3,278.1 102.9,278.5 103.6,278.8 104.2,279.2 104.9,279.5 105.5,279.9 106.2,280.3 106.8,280.7 107.5,281.1 108.1,281.5 108.8,281.9 109.4,282.3 110.1,282.6 110.7,283.0 111.3,283.4 112.0,283.8 112.6,284.1 113.3,284.5 113.9,284.8 114.6,285.1 115.2,285.4 115.9,285.7 116.5,286.0 117.2,286.3 117.8,286.5 118.5,286.8 119.1,287.0 119.7,287.3 120.4,287.5 121.0,287.8 121.7,288.2 122.3,288.5 123.0,288.9 123.6,289.4 124.3,289.9 124.9,290.5 125.6,291.1 126.2,291.8 126.9,292.6 127.5,293.5 128.1,294.5 128.8,295.5 129.4,296.6 130.1,297.9 130.7,299.1 131.4,300.5 132.0,301.8 132.7,303.2 133.3,304.7 134.0,306.1 134.6,307.6 135.3,309.1 135.9,310.6 136.5,312.0 137.2,313.4 137.8,314.9 138.5,316.2 139.1,317.6 139.8,319.0 140.4,320.3 141.1,321.6 141.7,322.8 142.4,324.0 143.0,325.2 143.7,326.4 144.3,327.5 144.9,328.6 145.6,329.6 146.2,330.6 146.9,331.6 147.5,332.5 148.2,333.3 148.8,334.2 149.5,334.9 150.1,335.7 150.8,336.3 151.4,337.0 152.1,337.6 152.7,338.2 153.3,338.7 154.0,339.3 154.6,339.8 155.3,340.3 155.9,340.9 156.6,341.4 157.2,342.0 157.9,342.6 158.5,343.2 159.2,343.8 159.8,344.5 160.5,345.2 161.1,345.9 161.7,346.7 162.4,347.5 163.0,348.4 163.7,349.2 164.3,350.1 165.0,351.0 165.6,351.9 166.3,352.8 166.9,353.7 167.6,354.6 168.2,355.5 168.9,356.4 169.5,357.2 170.1,358.1 170.8,358.8 171.4,359.6 172.1,360.3 172.7,361.0 173.4,361.6 174.0,362.2 174.7,362.8 175.3,363.4 176.0,363.9 176.6,364.5 177.3,364.9 177.9,365.4 178.5,365.9 179.2,366.3 179.8,366.7 180.5,367.1 181.1,367.5 181.8,367.9 182.4,368.2 183.1,368.6 183.7,368.9 184.4,369.2 185.0,369.5 185.7,369.8 186.3,370.1 186.9,370.4 187.6,370.7 188.2,371.0 188.9,371.3 189.5,371.5 190.2,371.8 190.8,372.1 191.5,372.3 192.1,372.6 192.8,372.8 193.4,373.0 194.1,373.3 194.7,373.5 195.3,373.7 196.0,374.0 196.6,374.2 197.3,374.4 197.9,374.6 198.6,374.9 199.2,375.1 199.9,375.3 200.5,375.5 201.2,375.7 201.8,375.9" fill="none" stroke="#000000" stroke-width="1.25" stroke-linejoin="round" stroke-linecap="round"/>
</g>
<rect x="35.1" y="242.3" width="185.4" height="136.7" fill="none" stroke="#b4b4b4" stroke-width="1"/>
<path d="M35.1,379 v-2 M35.1,242.3 v2" stroke="#b4b4b4" stroke-width="0.8"/>
<text transform="translate(35.1,390) scale(1,1.1)" text-anchor="middle" font-size="9" fill="#000">1976</text>
<path d="M66,379 v-2 M66,242.3 v2" stroke="#b4b4b4" stroke-width="0.8"/>
<text transform="translate(66,390) scale(1,1.1)" text-anchor="middle" font-size="9" fill="#000">1978</text>
<path d="M96.9,379 v-2 M96.9,242.3 v2" stroke="#b4b4b4" stroke-width="0.8"/>
<text transform="translate(96.9,390) scale(1,1.1)" text-anchor="middle" font-size="9" fill="#000">1980</text>
<path d="M127.8,379 v-2 M127.8,242.3 v2" stroke="#b4b4b4" stroke-width="0.8"/>
<text transform="translate(127.8,390) scale(1,1.1)" text-anchor="middle" font-size="9" fill="#000">1982</text>
<path d="M158.7,379 v-2 M158.7,242.3 v2" stroke="#b4b4b4" stroke-width="0.8"/>
<text transform="translate(158.7,390) scale(1,1.1)" text-anchor="middle" font-size="9" fill="#000">1984</text>
<path d="M189.6,379 v-2 M189.6,242.3 v2" stroke="#b4b4b4" stroke-width="0.8"/>
<text transform="translate(189.6,390) scale(1,1.1)" text-anchor="middle" font-size="9" fill="#000">1986</text>
<path d="M220.5,379 v-2 M220.5,242.3 v2" stroke="#b4b4b4" stroke-width="0.8"/>
<text transform="translate(220.5,390) scale(1,1.1)" text-anchor="middle" font-size="9" fill="#000">1988</text>
<path d="M35.1,379 h2 M220.5,379 h-2" stroke="#b4b4b4" stroke-width="0.8"/>
<text transform="translate(33.1,382.9) scale(1,1.1)" text-anchor="end" font-size="9" fill="#000">0</text>
<path d="M35.1,356.22 h2 M220.5,356.22 h-2" stroke="#b4b4b4" stroke-width="0.8"/>
<text transform="translate(33.1,360.12) scale(1,1.1)" text-anchor="end" font-size="9" fill="#000">50</text>
<path d="M35.1,333.43 h2 M220.5,333.43 h-2" stroke="#b4b4b4" stroke-width="0.8"/>
<text transform="translate(33.1,337.33) scale(1,1.1)" text-anchor="end" font-size="9" fill="#000">100</text>
<path d="M35.1,310.65 h2 M220.5,310.65 h-2" stroke="#b4b4b4" stroke-width="0.8"/>
<text transform="translate(33.1,314.55) scale(1,1.1)" text-anchor="end" font-size="9" fill="#000">150</text>
<path d="M35.1,287.87 h2 M220.5,287.87 h-2" stroke="#b4b4b4" stroke-width="0.8"/>
<text transform="translate(33.1,291.77) scale(1,1.1)" text-anchor="end" font-size="9" fill="#000">200</text>
<path d="M35.1,265.08 h2 M220.5,265.08 h-2" stroke="#b4b4b4" stroke-width="0.8"/>
<text transform="translate(33.1,268.98) scale(1,1.1)" text-anchor="end" font-size="9" fill="#000">250</text>
<path d="M35.1,242.3 h2 M220.5,242.3 h-2" stroke="#b4b4b4" stroke-width="0.8"/>
<text transform="translate(33.1,246.2) scale(1,1.1)" text-anchor="end" font-size="9" fill="#000">300</text>
<text x="127.8" y="234.2" text-anchor="middle" font-size="12.6" fill="#000">Cycle 21</text>
<text x="129.3" y="401" text-anchor="middle" font-size="12.2" fill="#000">DATA</text>
<text transform="translate(12.3,310.65) rotate(-90)" text-anchor="middle" font-size="11.5" fill="#000">SUNSPOT NUMBER</text>
<text x="122.4" y="422.1" text-anchor="middle" font-family="Liberation Serif, serif" font-size="14.4" fill="#222">(d)</text>
<rect x="170.2" y="245.5" width="48" height="67.7" fill="#fff" stroke="#b4b4b4" stroke-width="1"/>
<circle cx="182.2" cy="252" r="1.9" fill="none" stroke="#777" stroke-width="0.8"/>
<text transform="translate(193.2,254.9) scale(1,1)" font-size="9.8" fill="#000">SN</text>
<path d="M173.9,263 h18" stroke="#00f0ff" stroke-width="1.4"/>
<text transform="translate(193.2,265.9) scale(1,1)" font-size="9.8" fill="#000">Fit−P</text>
<path d="M173.9,274 h18" stroke="#ffff00" stroke-width="1.4"/>
<text transform="translate(193.2,276.9) scale(1,1)" font-size="9.8" fill="#000">Fit−L</text>
<path d="M173.9,285 h18" stroke="#0000ff" stroke-width="1.4"/>
<text transform="translate(193.2,287.9) scale(1,1)" font-size="9.8" fill="#000">Fit−D</text>
<path d="M173.9,296 h18" stroke="#00ee00" stroke-width="1.4"/>
<text transform="translate(193.2,298.9) scale(1,1)" font-size="9.8" fill="#000">Fit−G</text>
<path d="M173.9,307 h18" stroke="#000000" stroke-width="1.1"/>
<text transform="translate(193.2,309.9) scale(1,1)" font-size="9.8" fill="#000">Fit−C</text>
<clipPath id="clipe"><rect x="287.7" y="242.3" width="184.9" height="136.7"/></clipPath>
<g clip-path="url(#clipe)">
<path d="M297.9,369.1a1.7,1.7 0 1,0 3.4,0a1.7,1.7 0 1,0 -3.4,0M300.0,365.2a1.7,1.7 0 1,0 3.4,0a1.7,1.7 0 1,0 -3.4,0M302.2,367.5a1.7,1.7 0 1,0 3.4,0a1.7,1.7 0 1,0 -3.4,0M304.3,364.2a1.7,1.7 0 1,0 3.4,0a1.7,1.7 0 1,0 -3.4,0M306.5,360.5a1.7,1.7 0 1,0 3.4,0a1.7,1.7 0 1,0 -3.4,0M308.7,361.4a1.7,1.7 0 1,0 3.4,0a1.7,1.7 0 1,0 -3.4,0M310.8,355.0a1.7,1.7 0 1,0 3.4,0a1.7,1.7 0 1,0 -3.4,0M313.0,347.1a1.7,1.7 0 1,0 3.4,0a1.7,1.7 0 1,0 -3.4,0M315.1,343.2a1.7,1.7 0 1,0 3.4,0a1.7,1.7 0 1,0 -3.4,0M317.3,333.1a1.7,1.7 0 1,0 3.4,0a1.7,1.7 0 1,0 -3.4,0M319.5,323.7a1.7,1.7 0 1,0 3.4,0a1.7,1.7 0 1,0 -3.4,0M321.6,319.9a1.7,1.7 0 1,0 3.4,0a1.7,1.7 0 1,0 -3.4,0M323.8,310.1a1.7,1.7 0 1,0 3.4,0a1.7,1.7 0 1,0 -3.4,0M325.9,300.5a1.7,1.7 0 1,0 3.4,0a1.7,1.7 0 1,0 -3.4,0M328.1,295.8a1.7,1.7 0 1,0 3.4,0a1.7,1.7 0 1,0 -3.4,0M330.3,284.9a1.7,1.7 0 1,0 3.4,0a1.7,1.7 0 1,0 -3.4,0M332.4,274.1a1.7,1.7 0 1,0 3.4,0a1.7,1.7 0 1,0 -3.4,0M334.6,269.5a1.7,1.7 0 1,0 3.4,0a1.7,1.7 0 1,0 -3.4,0M336.7,261.5a1.7,1.7 0 1,0 3.4,0a1.7,1.7 0 1,0 -3.4,0M338.9,258.4a1.7,1.7 0 1,0 3.4,0a1.7,1.7 0 1,0 -3.4,0M341.1,264.2a1.7,1.7 0 1,0 3.4,0a1.7,1.7 0 1,0 -3.4,0M343.2,265.0a1.7,1.7 0 1,0 3.4,0a1.7,1.7 0 1,0 -3.4,0M345.4,266.4a1.7,1.7 0 1,0 3.4,0a1.7,1.7 0 1,0 -3.4,0M347.5,272.3a1.7,1.7 0 1,0 3.4,0a1.7,1.7 0 1,0 -3.4,0M349.7,271.0a1.7,1.7 0 1,0 3.4,0a1.7,1.7 0 1,0 -3.4,0M351.8,269.9a1.7,1.7 0 1,0 3.4,0a1.7,1.7 0 1,0 -3.4,0M354.0,273.8a1.7,1.7 0 1,0 3.4,0a1.7,1.7 0 1,0 -3.4,0M356.2,271.2a1.7,1.7 0 1,0 3.4,0a1.7,1.7 0 1,0 -3.4,0M358.3,269.1a1.7,1.7 0 1,0 3.4,0a1.7,1.7 0 1,0 -3.4,0M360.5,272.2a1.7,1.7 0 1,0 3.4,0a1.7,1.7 0 1,0 -3.4,0M362.6,269.2a1.7,1.7 0 1,0 3.4,0a1.7,1.7 0 1,0 -3.4,0M364.8,267.2a1.7,1.7 0 1,0 3.4,0a1.7,1.7 0 1,0 -3.4,0M367.0,270.6a1.7,1.7 0 1,0 3.4,0a1.7,1.7 0 1,0 -3.4,0M369.1,268.5a1.7,1.7 0 1,0 3.4,0a1.7,1.7 0 1,0 -3.4,0M371.3,268.3a1.7,1.7 0 1,0 3.4,0a1.7,1.7 0 1,0 -3.4,0M373.4,273.7a1.7,1.7 0 1,0 3.4,0a1.7,1.7 0 1,0 -3.4,0M375.6,274.6a1.7,1.7 0 1,0 3.4,0a1.7,1.7 0 1,0 -3.4,0M377.8,277.3a1.7,1.7 0 1,0 3.4,0a1.7,1.7 0 1,0 -3.4,0M379.9,285.1a1.7,1.7 0 1,0 3.4,0a1.7,1.7 0 1,0 -3.4,0M382.1,288.2a1.7,1.7 0 1,0 3.4,0a1.7,1.7 0 1,0 -3.4,0M384.2,292.8a1.7,1.7 0 1,0 3.4,0a1.7,1.7 0 1,0 -3.4,0M386.4,302.1a1.7,1.7 0 1,0 3.4,0a1.7,1.7 0 1,0 -3.4,0M388.6,304.5a1.7,1.7 0 1,0 3.4,0a1.7,1.7 0 1,0 -3.4,0M390.7,308.6a1.7,1.7 0 1,0 3.4,0a1.7,1.7 0 1,0 -3.4,0M392.9,317.8a1.7,1.7 0 1,0 3.4,0a1.7,1.7 0 1,0 -3.4,0M395.0,320.4a1.7,1.7 0 1,0 3.4,0a1.7,1.7 0 1,0 -3.4,0M397.2,324.4a1.7,1.7 0 1,0 3.4,0a1.7,1.7 0 1,0 -3.4,0M399.4,332.8a1.7,1.7 0 1,0 3.4,0a1.7,1.7 0 1,0 -3.4,0M401.5,334.3a1.7,1.7 0 1,0 3.4,0a1.7,1.7 0 1,0 -3.4,0M403.7,336.7a1.7,1.7 0 1,0 3.4,0a1.7,1.7 0 1,0 -3.4,0M405.8,343.0a1.7,1.7 0 1,0 3.4,0a1.7,1.7 0 1,0 -3.4,0M408.0,342.7a1.7,1.7 0 1,0 3.4,0a1.7,1.7 0 1,0 -3.4,0M410.1,344.4a1.7,1.7 0 1,0 3.4,0a1.7,1.7 0 1,0 -3.4,0M412.3,351.1a1.7,1.7 0 1,0 3.4,0a1.7,1.7 0 1,0 -3.4,0M414.5,351.8a1.7,1.7 0 1,0 3.4,0a1.7,1.7 0 1,0 -3.4,0M416.6,354.6a1.7,1.7 0 1,0 3.4,0a1.7,1.7 0 1,0 -3.4,0M418.8,361.4a1.7,1.7 0 1,0 3.4,0a1.7,1.7 0 1,0 -3.4,0M420.9,360.9a1.7,1.7 0 1,0 3.4,0a1.7,1.7 0 1,0 -3.4,0M423.1,361.6a1.7,1.7 0 1,0 3.4,0a1.7,1.7 0 1,0 -3.4,0M425.3,366.0a1.7,1.7 0 1,0 3.4,0a1.7,1.7 0 1,0 -3.4,0M427.4,363.7a1.7,1.7 0 1,0 3.4,0a1.7,1.7 0 1,0 -3.4,0M429.6,364.3a1.7,1.7 0 1,0 3.4,0a1.7,1.7 0 1,0 -3.4,0M431.7,369.7a1.7,1.7 0 1,0 3.4,0a1.7,1.7 0 1,0 -3.4,0M433.9,369.0a1.7,1.7 0 1,0 3.4,0a1.7,1.7 0 1,0 -3.4,0M436.1,370.5a1.7,1.7 0 1,0 3.4,0a1.7,1.7 0 1,0 -3.4,0M438.2,375.9a1.7,1.7 0 1,0 3.4,0a1.7,1.7 0 1,0 -3.4,0M440.4,374.3a1.7,1.7 0 1,0 3.4,0a1.7,1.7 0 1,0 -3.4,0M442.5,374.1a1.7,1.7 0 1,0 3.4,0a1.7,1.7 0 1,0 -3.4,0M444.7,377.2a1.7,1.7 0 1,0 3.4,0a1.7,1.7 0 1,0 -3.4,0M446.9,374.0a1.7,1.7 0 1,0 3.4,0a1.7,1.7 0 1,0 -3.4,0M449.0,373.9a1.7,1.7 0 1,0 3.4,0a1.7,1.7 0 1,0 -3.4,0M451.2,378.5a1.7,1.7 0 1,0 3.4,0a1.7,1.7 0 1,0 -3.4,0M453.3,376.9a1.7,1.7 0 1,0 3.4,0a1.7,1.7 0 1,0 -3.4,0" fill="none" stroke="#7a7a7a" stroke-width="0.75"/>
<path d="M299.6,375.9 300.2,375.5 300.8,375.0 301.5,374.5 302.1,373.9 302.8,373.3 303.4,372.6 304.1,371.9 304.7,371.1 305.3,370.3 306.0,369.4 306.6,368.5 307.3,367.5 307.9,366.4 308.6,365.3 309.2,364.1 309.8,362.8 310.5,361.5 311.1,360.1 311.8,358.6 312.4,357.1 313.1,355.5 313.7,353.8 314.3,352.1 315.0,350.3 315.6,348.5 316.3,346.6 316.9,344.6 317.6,342.6 318.2,340.6 318.8,338.5 319.5,336.3 320.1,334.1 320.8,331.9 321.4,329.6 322.0,327.4 322.7,325.1 323.3,322.8 324.0,320.4 324.6,318.1 325.3,315.7 325.9,313.4 326.5,311.1 327.2,308.8 327.8,306.5 328.5,304.2 329.1,302.0 329.8,299.8 330.4,297.6 331.0,295.5 331.7,293.4 332.3,291.4 333.0,289.4 333.6,287.5 334.3,285.6 334.9,283.8 335.5,282.1 336.2,280.4 336.8,278.8 337.5,277.3 338.1,275.8 338.8,274.5 339.4,273.2 340.0,271.9 340.7,270.8 341.3,269.7 342.0,268.7 342.6,267.8 343.3,266.9 343.9,266.1 344.5,265.4 345.2,264.7 345.8,264.1 346.5,263.6 347.1,263.1 347.7,262.7 348.4,262.4 349.0,262.1 349.7,261.8 350.3,261.6 351.0,261.4 351.6,261.3 352.2,261.2 352.9,261.1 353.5,261.1 354.2,261.0 354.8,261.0 355.5,261.0 356.1,261.0 356.7,261.1 357.4,261.2 358.0,261.4 358.7,261.7 359.3,262.0 360.0,262.3 360.6,262.7 361.2,263.1 361.9,263.6 362.5,264.1 363.2,264.6 363.8,265.2 364.5,265.9 365.1,266.5 365.7,267.2 366.4,268.0 367.0,268.7 367.7,269.6 368.3,270.4 368.9,271.3 369.6,272.2 370.2,273.1 370.9,274.1 371.5,275.1 372.2,276.1 372.8,277.1 373.4,278.2 374.1,279.3 374.7,280.4 375.4,281.5 376.0,282.7 376.7,283.8 377.3,285.0 377.9,286.2 378.6,287.4 379.2,288.7 379.9,289.9 380.5,291.2 381.2,292.4 381.8,293.7 382.4,295.0 383.1,296.3 383.7,297.6 384.4,298.9 385.0,300.2 385.7,301.5 386.3,302.8 386.9,304.1 387.6,305.4 388.2,306.7 388.9,308.0 389.5,309.4 390.1,310.7 390.8,312.0 391.4,313.3 392.1,314.6 392.7,315.9 393.4,317.1 394.0,318.4 394.6,319.7 395.3,320.9 395.9,322.2 396.6,323.4 397.2,324.7 397.9,325.9 398.5,327.1 399.1,328.3 399.8,329.5 400.4,330.7 401.1,331.8 401.7,333.0 402.4,334.1 403.0,335.2 403.6,336.3 404.3,337.4 404.9,338.5 405.6,339.5 406.2,340.6 406.9,341.6 407.5,342.6 408.1,343.6 408.8,344.6 409.4,345.6 410.1,346.5 410.7,347.4 411.3,348.3 412.0,349.2 412.6,350.1 413.3,351.0 413.9,351.8 414.6,352.7 415.2,353.5 415.8,354.3 416.5,355.0 417.1,355.8 417.8,356.5 418.4,357.3 419.1,358.0 419.7,358.7 420.3,359.3 421.0,360.0 421.6,360.6 422.3,361.3 422.9,361.9 423.6,362.5 424.2,363.1 424.8,363.6 425.5,364.2 426.1,364.7 426.8,365.3 427.4,365.8 428.1,366.3 428.7,366.7 429.3,367.2 430.0,367.7 430.6,368.1 431.3,368.5 431.9,369.0 432.5,369.4 433.2,369.7 433.8,370.1 434.5,370.5 435.1,370.9 435.8,371.2 436.4,371.5 437.0,371.9 437.7,372.2 438.3,372.5 439.0,372.8 439.6,373.0 440.3,373.3 440.9,373.6 441.5,373.8 442.2,374.1 442.8,374.3 443.5,374.5 444.1,374.8 444.8,375.0 445.4,375.2 446.0,375.4 446.7,375.6 447.3,375.8 448.0,375.9 448.6,376.1 449.3,376.3 449.9,376.4 450.5,376.6 451.2,376.7 451.8,376.8 452.5,377.0 453.1,377.1 453.7,377.2 454.4,377.4 455.0,377.5" fill="none" stroke="#00f0ff" stroke-width="1.6" stroke-linejoin="round" stroke-linecap="round"/>
<path d="M299.6,362.6 300.2,362.0 300.8,361.3 301.5,360.6 302.1,359.9 302.8,359.2 303.4,358.5 304.1,357.7 304.7,357.0 305.3,356.2 306.0,355.4 306.6,354.6 307.3,353.8 307.9,352.9 308.6,352.1 309.2,351.2 309.8,350.4 310.5,349.5 311.1,348.6 311.8,347.7 312.4,346.8 313.1,345.9 313.7,345.1 314.3,344.2 315.0,343.2 315.6,342.3 316.3,341.3 316.9,340.2 317.6,339.1 318.2,337.9 318.8,336.6 319.5,335.2 320.1,333.6 320.8,331.7 321.4,329.7 322.0,327.4 322.7,325.1 323.3,322.6 324.0,320.1 324.6,317.5 325.3,314.9 325.9,312.4 326.5,310.0 327.2,307.5 327.8,305.0 328.5,302.6 329.1,300.0 329.8,297.4 330.4,294.8 331.0,292.0 331.7,289.2 332.3,286.3 333.0,283.1 333.6,279.5 334.3,275.8 334.9,272.0 335.5,268.3 336.2,265.0 336.8,262.1 337.5,259.7 338.1,257.2 338.8,254.8 339.4,252.6 340.0,250.9 340.7,249.7 341.3,249.3 342.0,249.8 342.6,251.2 343.3,253.2 343.9,255.6 344.5,258.2 345.2,260.7 345.8,263.0 346.5,264.7 347.1,266.3 347.7,268.0 348.4,269.6 349.0,271.1 349.7,272.3 350.3,273.4 351.0,274.1 351.6,274.7 352.2,275.2 352.9,275.7 353.5,276.2 354.2,276.6 354.8,277.0 355.5,277.3 356.1,277.5 356.7,277.7 357.4,277.7 358.0,277.7 358.7,277.5 359.3,277.3 360.0,276.9 360.6,276.5 361.2,276.0 361.9,275.4 362.5,274.8 363.2,274.1 363.8,273.4 364.5,272.7 365.1,271.9 365.7,270.9 366.4,269.7 367.0,268.3 367.7,266.9 368.3,265.4 368.9,264.0 369.6,262.6 370.2,260.9 370.9,259.1 371.5,257.6 372.2,256.5 372.8,256.4 373.4,257.1 374.1,258.7 374.7,260.8 375.4,263.3 376.0,265.8 376.7,268.3 377.3,270.4 377.9,272.4 378.6,274.5 379.2,276.7 379.9,278.8 380.5,281.0 381.2,283.1 381.8,285.3 382.4,287.5 383.1,289.8 383.7,292.1 384.4,294.5 385.0,296.8 385.7,299.2 386.3,301.5 386.9,303.7 387.6,305.8 388.2,307.9 388.9,309.8 389.5,311.5 390.1,313.1 390.8,314.7 391.4,316.3 392.1,317.9 392.7,319.4 393.4,320.8 394.0,322.2 394.6,323.6 395.3,325.0 395.9,326.3 396.6,327.5 397.2,328.7 397.9,329.9 398.5,331.1 399.1,332.2 399.8,333.2 400.4,334.2 401.1,335.2 401.7,336.1 402.4,337.0 403.0,337.9 403.6,338.7 404.3,339.5 404.9,340.3 405.6,341.0 406.2,341.8 406.9,342.5 407.5,343.2 408.1,343.9 408.8,344.5 409.4,345.2 410.1,345.9 410.7,346.5 411.3,347.2 412.0,347.8 412.6,348.5 413.3,349.2 413.9,349.9 414.6,350.6 415.2,351.3 415.8,352.0 416.5,352.6 417.1,353.3 417.8,354.0 418.4,354.7 419.1,355.4 419.7,356.1 420.3,356.7 421.0,357.4 421.6,358.0 422.3,358.7 422.9,359.3 423.6,359.8 424.2,360.4 424.8,361.0 425.5,361.5 426.1,362.0 426.8,362.5 427.4,362.9 428.1,363.3 428.7,363.7 429.3,364.1 430.0,364.4 430.6,364.8 431.3,365.1 431.9,365.4 432.5,365.7 433.2,366.1 433.8,366.4 434.5,366.7 435.1,367.0 435.8,367.2 436.4,367.5 437.0,367.8 437.7,368.0 438.3,368.3 439.0,368.5 439.6,368.7 440.3,369.0 440.9,369.2 441.5,369.4 442.2,369.6 442.8,369.7 443.5,369.9 444.1,370.1 444.8,370.2 445.4,370.4 446.0,370.5 446.7,370.6 447.3,370.8 448.0,370.9 448.6,371.0 449.3,371.1 449.9,371.3 450.5,371.4 451.2,371.5 451.8,371.6 452.5,371.6 453.1,371.7 453.7,371.8 454.4,371.8 455.0,371.9" fill="none" stroke="#ffff00" stroke-width="1.6" stroke-linejoin="round" stroke-linecap="round"/>
<path d="M299.6,377.6 300.2,377.3 300.8,376.9 301.5,376.5 302.1,376.1 302.8,375.7 303.4,375.2 304.1,374.7 304.7,374.1 305.3,373.5 306.0,372.9 306.6,372.2 307.3,371.4 307.9,370.6 308.6,369.8 309.2,368.8 309.8,367.9 310.5,366.8 311.1,365.8 311.8,364.6 312.4,363.4 313.1,362.1 313.7,360.8 314.3,359.4 315.0,357.9 315.6,356.4 316.3,354.8 316.9,353.1 317.6,351.4 318.2,349.6 318.8,347.7 319.5,345.8 320.1,343.8 320.8,341.8 321.4,339.7 322.0,337.6 322.7,335.4 323.3,333.2 324.0,330.9 324.6,328.6 325.3,326.3 325.9,323.9 326.5,321.5 327.2,319.1 327.8,316.7 328.5,314.3 329.1,311.9 329.8,309.4 330.4,307.0 331.0,304.6 331.7,302.2 332.3,299.8 333.0,297.4 333.6,295.1 334.3,292.8 334.9,290.6 335.5,288.4 336.2,286.2 336.8,284.1 337.5,282.0 338.1,280.1 338.8,278.1 339.4,276.3 340.0,274.5 340.7,272.8 341.3,271.2 342.0,269.6 342.6,268.1 343.3,266.7 343.9,265.4 344.5,264.2 345.2,263.0 345.8,262.0 346.5,261.0 347.1,260.1 347.7,259.2 348.4,258.5 349.0,257.8 349.7,257.2 350.3,256.7 351.0,256.2 351.6,255.9 352.2,255.5 352.9,255.3 353.5,255.1 354.2,254.9 354.8,254.8 355.5,254.7 356.1,254.7 356.7,254.7 357.4,254.7 358.0,254.8 358.7,254.9 359.3,255.2 360.0,255.5 360.6,255.9 361.2,256.3 361.9,256.8 362.5,257.3 363.2,257.9 363.8,258.6 364.5,259.3 365.1,260.0 365.7,260.8 366.4,261.6 367.0,262.5 367.7,263.4 368.3,264.3 368.9,265.3 369.6,266.4 370.2,267.4 370.9,268.5 371.5,269.6 372.2,270.8 372.8,272.0 373.4,273.2 374.1,274.4 374.7,275.7 375.4,277.0 376.0,278.3 376.7,279.6 377.3,280.9 377.9,282.3 378.6,283.7 379.2,285.0 379.9,286.4 380.5,287.9 381.2,289.3 381.8,290.7 382.4,292.1 383.1,293.6 383.7,295.0 384.4,296.5 385.0,298.0 385.7,299.4 386.3,300.9 386.9,302.3 387.6,303.8 388.2,305.2 388.9,306.7 389.5,308.1 390.1,309.6 390.8,311.0 391.4,312.5 392.1,313.9 392.7,315.3 393.4,316.7 394.0,318.1 394.6,319.5 395.3,320.8 395.9,322.2 396.6,323.5 397.2,324.9 397.9,326.2 398.5,327.5 399.1,328.8 399.8,330.0 400.4,331.3 401.1,332.5 401.7,333.7 402.4,335.0 403.0,336.1 403.6,337.3 404.3,338.5 404.9,339.6 405.6,340.7 406.2,341.8 406.9,342.9 407.5,343.9 408.1,345.0 408.8,346.0 409.4,347.0 410.1,348.0 410.7,348.9 411.3,349.9 412.0,350.8 412.6,351.7 413.3,352.6 413.9,353.4 414.6,354.3 415.2,355.1 415.8,355.9 416.5,356.7 417.1,357.5 417.8,358.2 418.4,358.9 419.1,359.7 419.7,360.4 420.3,361.0 421.0,361.7 421.6,362.3 422.3,363.0 422.9,363.6 423.6,364.2 424.2,364.7 424.8,365.3 425.5,365.8 426.1,366.4 426.8,366.9 427.4,367.4 428.1,367.9 428.7,368.3 429.3,368.8 430.0,369.2 430.6,369.6 431.3,370.1 431.9,370.5 432.5,370.8 433.2,371.2 433.8,371.6 434.5,371.9 435.1,372.3 435.8,372.6 436.4,372.9 437.0,373.2 437.7,373.5 438.3,373.8 439.0,374.1 439.6,374.3 440.3,374.6 440.9,374.8 441.5,375.1 442.2,375.3 442.8,375.5 443.5,375.7 444.1,375.9 444.8,376.1 445.4,376.3 446.0,376.5 446.7,376.7 447.3,376.8 448.0,377.0 448.6,377.1 449.3,377.3 449.9,377.4 450.5,377.6 451.2,377.7 451.8,377.8 452.5,377.9 453.1,378.0 453.7,378.1 454.4,378.3 455.0,378.4" fill="none" stroke="#0000ff" stroke-width="1.6" stroke-linejoin="round" stroke-linecap="round"/>
<path d="M299.6,371.9 300.2,371.5 300.8,371.0 301.5,370.5 302.1,370.0 302.8,369.4 303.4,368.7 304.1,368.1 304.7,367.3 305.3,366.5 306.0,365.7 306.6,364.7 307.3,363.8 307.9,362.7 308.6,361.6 309.2,360.5 309.8,359.3 310.5,358.0 311.1,356.6 311.8,355.2 312.4,353.7 313.1,352.2 313.7,350.6 314.3,348.9 315.0,347.1 315.6,345.3 316.3,343.5 316.9,341.6 317.6,339.6 318.2,337.6 318.8,335.5 319.5,333.4 320.1,331.3 320.8,329.1 321.4,326.9 322.0,324.7 322.7,322.4 323.3,320.1 324.0,317.8 324.6,315.5 325.3,313.2 325.9,310.9 326.5,308.6 327.2,306.3 327.8,304.0 328.5,301.8 329.1,299.5 329.8,297.3 330.4,295.2 331.0,293.0 331.7,290.9 332.3,288.9 333.0,286.9 333.6,285.0 334.3,283.1 334.9,281.3 335.5,279.5 336.2,277.8 336.8,276.2 337.5,274.6 338.1,273.2 338.8,271.7 339.4,270.4 340.0,269.1 340.7,267.9 341.3,266.8 342.0,265.8 342.6,264.8 343.3,263.9 343.9,263.1 344.5,262.3 345.2,261.6 345.8,261.0 346.5,260.4 347.1,259.9 347.7,259.4 348.4,259.0 349.0,258.7 349.7,258.4 350.3,258.2 351.0,258.0 351.6,257.8 352.2,257.7 352.9,257.6 353.5,257.5 354.2,257.5 354.8,257.4 355.5,257.4 356.1,257.4 356.7,257.5 357.4,257.6 358.0,257.9 358.7,258.3 359.3,258.7 360.0,259.2 360.6,259.7 361.2,260.3 361.9,261.0 362.5,261.7 363.2,262.4 363.8,263.2 364.5,264.0 365.1,264.9 365.7,265.8 366.4,266.8 367.0,267.7 367.7,268.7 368.3,269.8 368.9,270.9 369.6,271.9 370.2,273.1 370.9,274.2 371.5,275.4 372.2,276.6 372.8,277.8 373.4,279.0 374.1,280.2 374.7,281.5 375.4,282.7 376.0,284.0 376.7,285.3 377.3,286.6 377.9,287.9 378.6,289.2 379.2,290.5 379.9,291.8 380.5,293.1 381.2,294.5 381.8,295.8 382.4,297.1 383.1,298.5 383.7,299.8 384.4,301.1 385.0,302.4 385.7,303.7 386.3,305.1 386.9,306.4 387.6,307.7 388.2,309.0 388.9,310.3 389.5,311.5 390.1,312.8 390.8,314.1 391.4,315.3 392.1,316.6 392.7,317.8 393.4,319.0 394.0,320.2 394.6,321.4 395.3,322.6 395.9,323.8 396.6,325.0 397.2,326.1 397.9,327.2 398.5,328.4 399.1,329.5 399.8,330.6 400.4,331.6 401.1,332.7 401.7,333.7 402.4,334.8 403.0,335.8 403.6,336.8 404.3,337.7 404.9,338.7 405.6,339.7 406.2,340.6 406.9,341.5 407.5,342.4 408.1,343.3 408.8,344.1 409.4,345.0 410.1,345.8 410.7,346.7 411.3,347.5 412.0,348.2 412.6,349.0 413.3,349.8 413.9,350.5 414.6,351.2 415.2,351.9 415.8,352.6 416.5,353.3 417.1,354.0 417.8,354.6 418.4,355.2 419.1,355.9 419.7,356.5 420.3,357.0 421.0,357.6 421.6,358.2 422.3,358.7 422.9,359.3 423.6,359.8 424.2,360.3 424.8,360.8 425.5,361.3 426.1,361.7 426.8,362.2 427.4,362.6 428.1,363.1 428.7,363.5 429.3,363.9 430.0,364.3 430.6,364.7 431.3,365.0 431.9,365.4 432.5,365.8 433.2,366.1 433.8,366.4 434.5,366.8 435.1,367.1 435.8,367.4 436.4,367.7 437.0,368.0 437.7,368.2 438.3,368.5 439.0,368.8 439.6,369.0 440.3,369.3 440.9,369.5 441.5,369.7 442.2,369.9 442.8,370.2 443.5,370.4 444.1,370.6 444.8,370.8 445.4,371.0 446.0,371.1 446.7,371.3 447.3,371.5 448.0,371.6 448.6,371.8 449.3,372.0 449.9,372.1 450.5,372.2 451.2,372.4 451.8,372.5 452.5,372.6 453.1,372.8 453.7,372.9 454.4,373.0 455.0,373.1" fill="none" stroke="#00ee00" stroke-width="1.6" stroke-linejoin="round" stroke-linecap="round"/>
<path d="M299.6,370.3 300.2,369.7 300.8,369.2 301.5,368.6 302.1,368.1 302.8,367.5 303.4,366.9 304.1,366.3 304.7,365.6 305.3,364.9 306.0,364.2 306.6,363.5 307.3,362.7 307.9,361.8 308.6,360.9 309.2,360.0 309.8,359.0 310.5,357.9 311.1,356.7 311.8,355.5 312.4,354.2 313.1,352.9 313.7,351.4 314.3,349.9 315.0,348.3 315.6,346.7 316.3,345.0 316.9,343.1 317.6,341.3 318.2,339.3 318.8,337.2 319.5,335.1 320.1,332.9 320.8,330.7 321.4,328.3 322.0,326.0 322.7,323.5 323.3,321.1 324.0,318.6 324.6,316.1 325.3,313.5 325.9,311.0 326.5,308.5 327.2,306.0 327.8,303.4 328.5,300.9 329.1,298.4 329.8,295.9 330.4,293.4 331.0,290.9 331.7,288.4 332.3,285.8 333.0,283.3 333.6,280.8 334.3,278.3 334.9,275.9 335.5,273.5 336.2,271.4 336.8,269.4 337.5,267.6 338.1,266.1 338.8,264.9 339.4,264.0 340.0,263.5 340.7,263.2 341.3,263.1 342.0,263.3 342.6,263.5 343.3,263.8 343.9,264.2 344.5,264.7 345.2,265.1 345.8,265.6 346.5,266.0 347.1,266.5 347.7,267.0 348.4,267.4 349.0,267.9 349.7,268.3 350.3,268.7 351.0,269.1 351.6,269.4 352.2,269.7 352.9,269.9 353.5,270.2 354.2,270.3 354.8,270.4 355.5,270.5 356.1,270.6 356.7,270.6 357.4,270.5 358.0,270.5 358.7,270.4 359.3,270.2 360.0,270.1 360.6,269.9 361.2,269.7 361.9,269.6 362.5,269.4 363.2,269.3 363.8,269.3 364.5,269.3 365.1,269.3 365.7,269.5 366.4,269.8 367.0,270.1 367.7,270.6 368.3,271.1 368.9,271.7 369.6,272.4 370.2,273.1 370.9,273.9 371.5,274.8 372.2,275.6 372.8,276.5 373.4,277.5 374.1,278.4 374.7,279.4 375.4,280.3 376.0,281.2 376.7,282.2 377.3,283.1 377.9,284.0 378.6,284.9 379.2,285.7 379.9,286.6 380.5,287.4 381.2,288.3 381.8,289.2 382.4,290.2 383.1,291.3 383.7,292.4 384.4,293.6 385.0,294.8 385.7,296.1 386.3,297.5 386.9,298.8 387.6,300.3 388.2,301.7 388.9,303.2 389.5,304.6 390.1,306.1 390.8,307.6 391.4,309.0 392.1,310.5 392.7,311.9 393.4,313.3 394.0,314.7 394.6,316.0 395.3,317.4 395.9,318.7 396.6,320.1 397.2,321.4 397.9,322.7 398.5,323.9 399.1,325.2 399.8,326.5 400.4,327.7 401.1,328.9 401.7,330.2 402.4,331.4 403.0,332.6 403.6,333.7 404.3,334.9 404.9,336.1 405.6,337.2 406.2,338.4 406.9,339.5 407.5,340.6 408.1,341.7 408.8,342.8 409.4,343.9 410.1,345.0 410.7,346.0 411.3,347.1 412.0,348.1 412.6,349.1 413.3,350.1 413.9,351.1 414.6,352.0 415.2,353.0 415.8,353.9 416.5,354.8 417.1,355.6 417.8,356.5 418.4,357.3 419.1,358.1 419.7,358.9 420.3,359.7 421.0,360.5 421.6,361.2 422.3,361.9 422.9,362.6 423.6,363.3 424.2,363.9 424.8,364.5 425.5,365.1 426.1,365.7 426.8,366.3 427.4,366.8 428.1,367.4 428.7,367.9 429.3,368.3 430.0,368.8 430.6,369.2 431.3,369.6 431.9,370.0 432.5,370.4 433.2,370.8 433.8,371.1 434.5,371.4 435.1,371.7 435.8,372.0 436.4,372.3 437.0,372.6 437.7,372.8 438.3,373.1 439.0,373.3 439.6,373.6 440.3,373.8 440.9,374.0 441.5,374.2 442.2,374.4 442.8,374.6 443.5,374.7 444.1,374.9 444.8,375.1 445.4,375.3 446.0,375.4 446.7,375.6 447.3,375.8 448.0,375.9 448.6,376.1 449.3,376.2 449.9,376.4 450.5,376.5 451.2,376.7 451.8,376.8 452.5,377.0 453.1,377.1 453.7,377.3 454.4,377.4 455.0,377.6" fill="none" stroke="#000000" stroke-width="1.25" stroke-linejoin="round" stroke-linecap="round"/>
</g>
<rect x="287.7" y="242.3" width="184.9" height="136.7" fill="none" stroke="#b4b4b4" stroke-width="1"/>
<path d="M287.7,379 v-2 M287.7,242.3 v2" stroke="#b4b4b4" stroke-width="0.8"/>
<text transform="translate(287.7,390) scale(1,1.1)" text-anchor="middle" font-size="9" fill="#000">1986</text>
<path d="M318.52,379 v-2 M318.52,242.3 v2" stroke="#b4b4b4" stroke-width="0.8"/>
<text transform="translate(318.52,390) scale(1,1.1)" text-anchor="middle" font-size="9" fill="#000">1988</text>
<path d="M349.33,379 v-2 M349.33,242.3 v2" stroke="#b4b4b4" stroke-width="0.8"/>
<text transform="translate(349.33,390) scale(1,1.1)" text-anchor="middle" font-size="9" fill="#000">1990</text>
<path d="M380.15,379 v-2 M380.15,242.3 v2" stroke="#b4b4b4" stroke-width="0.8"/>
<text transform="translate(380.15,390) scale(1,1.1)" text-anchor="middle" font-size="9" fill="#000">1992</text>
<path d="M410.97,379 v-2 M410.97,242.3 v2" stroke="#b4b4b4" stroke-width="0.8"/>
<text transform="translate(410.97,390) scale(1,1.1)" text-anchor="middle" font-size="9" fill="#000">1994</text>
<path d="M441.78,379 v-2 M441.78,242.3 v2" stroke="#b4b4b4" stroke-width="0.8"/>
<text transform="translate(441.78,390) scale(1,1.1)" text-anchor="middle" font-size="9" fill="#000">1996</text>
<path d="M472.6,379 v-2 M472.6,242.3 v2" stroke="#b4b4b4" stroke-width="0.8"/>
<text transform="translate(472.6,390) scale(1,1.1)" text-anchor="middle" font-size="9" fill="#000">1998</text>
<path d="M287.7,379 h2 M472.6,379 h-2" stroke="#b4b4b4" stroke-width="0.8"/>
<text transform="translate(285.7,382.9) scale(1,1.1)" text-anchor="end" font-size="9" fill="#000">0</text>
<path d="M287.7,351.66 h2 M472.6,351.66 h-2" stroke="#b4b4b4" stroke-width="0.8"/>
<text transform="translate(285.7,355.56) scale(1,1.1)" text-anchor="end" font-size="9" fill="#000">50</text>
<path d="M287.7,324.32 h2 M472.6,324.32 h-2" stroke="#b4b4b4" stroke-width="0.8"/>
<text transform="translate(285.7,328.22) scale(1,1.1)" text-anchor="end" font-size="9" fill="#000">100</text>
<path d="M287.7,296.98 h2 M472.6,296.98 h-2" stroke="#b4b4b4" stroke-width="0.8"/>
<text transform="translate(285.7,300.88) scale(1,1.1)" text-anchor="end" font-size="9" fill="#000">150</text>
<path d="M287.7,269.64 h2 M472.6,269.64 h-2" stroke="#b4b4b4" stroke-width="0.8"/>
<text transform="translate(285.7,273.54) scale(1,1.1)" text-anchor="end" font-size="9" fill="#000">200</text>
<path d="M287.7,242.3 h2 M472.6,242.3 h-2" stroke="#b4b4b4" stroke-width="0.8"/>
<text transform="translate(285.7,246.2) scale(1,1.1)" text-anchor="end" font-size="9" fill="#000">250</text>
<text x="380.15" y="234.2" text-anchor="middle" font-size="12.6" fill="#000">Cycle 22</text>
<text x="381.65" y="401" text-anchor="middle" font-size="12.2" fill="#000">DATA</text>
<text transform="translate(264.9,310.65) rotate(-90)" text-anchor="middle" font-size="11.5" fill="#000">SUNSPOT NUMBER</text>
<text x="375" y="422.1" text-anchor="middle" font-family="Liberation Serif, serif" font-size="14.4" fill="#222">(e)</text>
<rect x="422.3" y="245.5" width="48" height="67.7" fill="#fff" stroke="#b4b4b4" stroke-width="1"/>
<circle cx="434.3" cy="252" r="1.9" fill="none" stroke="#777" stroke-width="0.8"/>
<text transform="translate(445.3,254.9) scale(1,1)" font-size="9.8" fill="#000">SN</text>
<path d="M426,263 h18" stroke="#00f0ff" stroke-width="1.4"/>
<text transform="translate(445.3,265.9) scale(1,1)" font-size="9.8" fill="#000">Fit−P</text>
<path d="M426,274 h18" stroke="#ffff00" stroke-width="1.4"/>
<text transform="translate(445.3,276.9) scale(1,1)" font-size="9.8" fill="#000">Fit−L</text>
<path d="M426,285 h18" stroke="#0000ff" stroke-width="1.4"/>
<text transform="translate(445.3,287.9) scale(1,1)" font-size="9.8" fill="#000">Fit−D</text>
<path d="M426,296 h18" stroke="#00ee00" stroke-width="1.4"/>
<text transform="translate(445.3,298.9) scale(1,1)" font-size="9.8" fill="#000">Fit−G</text>
<path d="M426,307 h18" stroke="#000000" stroke-width="1.1"/>
<text transform="translate(445.3,309.9) scale(1,1)" font-size="9.8" fill="#000">Fit−C</text>
<clipPath id="clipf"><rect x="540.5" y="242.3" width="184.7" height="136.7"/></clipPath>
<g clip-path="url(#clipf)">
<path d="M561.8,363.1a1.7,1.7 0 1,0 3.4,0a1.7,1.7 0 1,0 -3.4,0M563.6,356.8a1.7,1.7 0 1,0 3.4,0a1.7,1.7 0 1,0 -3.4,0M565.3,357.2a1.7,1.7 0 1,0 3.4,0a1.7,1.7 0 1,0 -3.4,0M567.1,351.1a1.7,1.7 0 1,0 3.4,0a1.7,1.7 0 1,0 -3.4,0M568.8,346.0a1.7,1.7 0 1,0 3.4,0a1.7,1.7 0 1,0 -3.4,0M570.5,347.6a1.7,1.7 0 1,0 3.4,0a1.7,1.7 0 1,0 -3.4,0M572.3,341.1a1.7,1.7 0 1,0 3.4,0a1.7,1.7 0 1,0 -3.4,0M574.0,334.4a1.7,1.7 0 1,0 3.4,0a1.7,1.7 0 1,0 -3.4,0M575.8,334.6a1.7,1.7 0 1,0 3.4,0a1.7,1.7 0 1,0 -3.4,0M577.5,328.0a1.7,1.7 0 1,0 3.4,0a1.7,1.7 0 1,0 -3.4,0M579.2,322.4a1.7,1.7 0 1,0 3.4,0a1.7,1.7 0 1,0 -3.4,0M581.0,323.8a1.7,1.7 0 1,0 3.4,0a1.7,1.7 0 1,0 -3.4,0M582.7,317.3a1.7,1.7 0 1,0 3.4,0a1.7,1.7 0 1,0 -3.4,0M584.5,310.4a1.7,1.7 0 1,0 3.4,0a1.7,1.7 0 1,0 -3.4,0M586.2,309.1a1.7,1.7 0 1,0 3.4,0a1.7,1.7 0 1,0 -3.4,0M588.0,299.5a1.7,1.7 0 1,0 3.4,0a1.7,1.7 0 1,0 -3.4,0M589.7,290.1a1.7,1.7 0 1,0 3.4,0a1.7,1.7 0 1,0 -3.4,0M591.5,288.1a1.7,1.7 0 1,0 3.4,0a1.7,1.7 0 1,0 -3.4,0M593.2,280.0a1.7,1.7 0 1,0 3.4,0a1.7,1.7 0 1,0 -3.4,0M594.9,273.8a1.7,1.7 0 1,0 3.4,0a1.7,1.7 0 1,0 -3.4,0M596.7,275.4a1.7,1.7 0 1,0 3.4,0a1.7,1.7 0 1,0 -3.4,0M598.4,270.1a1.7,1.7 0 1,0 3.4,0a1.7,1.7 0 1,0 -3.4,0M600.2,266.0a1.7,1.7 0 1,0 3.4,0a1.7,1.7 0 1,0 -3.4,0M601.9,268.2a1.7,1.7 0 1,0 3.4,0a1.7,1.7 0 1,0 -3.4,0M603.7,262.6a1.7,1.7 0 1,0 3.4,0a1.7,1.7 0 1,0 -3.4,0M605.4,258.5a1.7,1.7 0 1,0 3.4,0a1.7,1.7 0 1,0 -3.4,0M607.1,262.9a1.7,1.7 0 1,0 3.4,0a1.7,1.7 0 1,0 -3.4,0M608.9,263.1a1.7,1.7 0 1,0 3.4,0a1.7,1.7 0 1,0 -3.4,0M610.6,265.5a1.7,1.7 0 1,0 3.4,0a1.7,1.7 0 1,0 -3.4,0M612.4,274.2a1.7,1.7 0 1,0 3.4,0a1.7,1.7 0 1,0 -3.4,0M614.1,274.5a1.7,1.7 0 1,0 3.4,0a1.7,1.7 0 1,0 -3.4,0M615.8,268.9a1.7,1.7 0 1,0 3.4,0a1.7,1.7 0 1,0 -3.4,0M617.6,269.1a1.7,1.7 0 1,0 3.4,0a1.7,1.7 0 1,0 -3.4,0M619.3,259.9a1.7,1.7 0 1,0 3.4,0a1.7,1.7 0 1,0 -3.4,0M621.1,254.7a1.7,1.7 0 1,0 3.4,0a1.7,1.7 0 1,0 -3.4,0M622.8,258.2a1.7,1.7 0 1,0 3.4,0a1.7,1.7 0 1,0 -3.4,0M624.6,254.9a1.7,1.7 0 1,0 3.4,0a1.7,1.7 0 1,0 -3.4,0M626.3,256.2a1.7,1.7 0 1,0 3.4,0a1.7,1.7 0 1,0 -3.4,0M628.0,264.9a1.7,1.7 0 1,0 3.4,0a1.7,1.7 0 1,0 -3.4,0M629.8,265.9a1.7,1.7 0 1,0 3.4,0a1.7,1.7 0 1,0 -3.4,0M631.5,268.6a1.7,1.7 0 1,0 3.4,0a1.7,1.7 0 1,0 -3.4,0M633.3,277.7a1.7,1.7 0 1,0 3.4,0a1.7,1.7 0 1,0 -3.4,0M635.0,278.9a1.7,1.7 0 1,0 3.4,0a1.7,1.7 0 1,0 -3.4,0M636.8,282.8a1.7,1.7 0 1,0 3.4,0a1.7,1.7 0 1,0 -3.4,0M638.5,293.5a1.7,1.7 0 1,0 3.4,0a1.7,1.7 0 1,0 -3.4,0M640.2,297.2a1.7,1.7 0 1,0 3.4,0a1.7,1.7 0 1,0 -3.4,0M642.0,303.0a1.7,1.7 0 1,0 3.4,0a1.7,1.7 0 1,0 -3.4,0M643.7,313.9a1.7,1.7 0 1,0 3.4,0a1.7,1.7 0 1,0 -3.4,0M645.5,315.8a1.7,1.7 0 1,0 3.4,0a1.7,1.7 0 1,0 -3.4,0M647.2,318.6a1.7,1.7 0 1,0 3.4,0a1.7,1.7 0 1,0 -3.4,0M649.0,326.1a1.7,1.7 0 1,0 3.4,0a1.7,1.7 0 1,0 -3.4,0M650.7,324.7a1.7,1.7 0 1,0 3.4,0a1.7,1.7 0 1,0 -3.4,0M652.5,325.5a1.7,1.7 0 1,0 3.4,0a1.7,1.7 0 1,0 -3.4,0M654.2,332.5a1.7,1.7 0 1,0 3.4,0a1.7,1.7 0 1,0 -3.4,0M655.9,331.9a1.7,1.7 0 1,0 3.4,0a1.7,1.7 0 1,0 -3.4,0M657.7,333.9a1.7,1.7 0 1,0 3.4,0a1.7,1.7 0 1,0 -3.4,0M659.4,341.0a1.7,1.7 0 1,0 3.4,0a1.7,1.7 0 1,0 -3.4,0M661.2,339.1a1.7,1.7 0 1,0 3.4,0a1.7,1.7 0 1,0 -3.4,0M662.9,339.1a1.7,1.7 0 1,0 3.4,0a1.7,1.7 0 1,0 -3.4,0M664.6,344.2a1.7,1.7 0 1,0 3.4,0a1.7,1.7 0 1,0 -3.4,0M666.4,341.3a1.7,1.7 0 1,0 3.4,0a1.7,1.7 0 1,0 -3.4,0M668.1,341.7a1.7,1.7 0 1,0 3.4,0a1.7,1.7 0 1,0 -3.4,0M669.9,348.3a1.7,1.7 0 1,0 3.4,0a1.7,1.7 0 1,0 -3.4,0M671.6,347.6a1.7,1.7 0 1,0 3.4,0a1.7,1.7 0 1,0 -3.4,0M673.4,349.8a1.7,1.7 0 1,0 3.4,0a1.7,1.7 0 1,0 -3.4,0M675.1,356.8a1.7,1.7 0 1,0 3.4,0a1.7,1.7 0 1,0 -3.4,0M676.8,354.8a1.7,1.7 0 1,0 3.4,0a1.7,1.7 0 1,0 -3.4,0M678.6,355.0a1.7,1.7 0 1,0 3.4,0a1.7,1.7 0 1,0 -3.4,0M680.3,359.9a1.7,1.7 0 1,0 3.4,0a1.7,1.7 0 1,0 -3.4,0M682.1,356.9a1.7,1.7 0 1,0 3.4,0a1.7,1.7 0 1,0 -3.4,0M683.8,358.3a1.7,1.7 0 1,0 3.4,0a1.7,1.7 0 1,0 -3.4,0M685.6,365.8a1.7,1.7 0 1,0 3.4,0a1.7,1.7 0 1,0 -3.4,0M687.3,365.2a1.7,1.7 0 1,0 3.4,0a1.7,1.7 0 1,0 -3.4,0M689.0,367.0a1.7,1.7 0 1,0 3.4,0a1.7,1.7 0 1,0 -3.4,0M690.8,373.0a1.7,1.7 0 1,0 3.4,0a1.7,1.7 0 1,0 -3.4,0M692.5,369.8a1.7,1.7 0 1,0 3.4,0a1.7,1.7 0 1,0 -3.4,0M694.3,369.3a1.7,1.7 0 1,0 3.4,0a1.7,1.7 0 1,0 -3.4,0M696.0,373.5a1.7,1.7 0 1,0 3.4,0a1.7,1.7 0 1,0 -3.4,0M697.8,369.9a1.7,1.7 0 1,0 3.4,0a1.7,1.7 0 1,0 -3.4,0M699.5,370.5a1.7,1.7 0 1,0 3.4,0a1.7,1.7 0 1,0 -3.4,0M701.2,376.5a1.7,1.7 0 1,0 3.4,0a1.7,1.7 0 1,0 -3.4,0M703.0,374.4a1.7,1.7 0 1,0 3.4,0a1.7,1.7 0 1,0 -3.4,0M704.7,375.6a1.7,1.7 0 1,0 3.4,0a1.7,1.7 0 1,0 -3.4,0M706.5,380.5a1.7,1.7 0 1,0 3.4,0a1.7,1.7 0 1,0 -3.4,0M708.2,376.3a1.7,1.7 0 1,0 3.4,0a1.7,1.7 0 1,0 -3.4,0M710.0,375.4a1.7,1.7 0 1,0 3.4,0a1.7,1.7 0 1,0 -3.4,0" fill="none" stroke="#7a7a7a" stroke-width="0.75"/>
<path d="M563.5,370.0 564.0,369.4 564.6,368.7 565.1,368.1 565.6,367.4 566.1,366.7 566.6,365.9 567.1,365.1 567.6,364.3 568.2,363.4 568.7,362.6 569.2,361.6 569.7,360.7 570.2,359.7 570.7,358.6 571.2,357.6 571.8,356.5 572.3,355.3 572.8,354.2 573.3,353.0 573.8,351.7 574.3,350.5 574.8,349.2 575.4,347.8 575.9,346.5 576.4,345.1 576.9,343.7 577.4,342.2 577.9,340.7 578.4,339.2 579.0,337.7 579.5,336.1 580.0,334.5 580.5,333.0 581.0,331.3 581.5,329.7 582.0,328.1 582.6,326.4 583.1,324.7 583.6,323.0 584.1,321.3 584.6,319.6 585.1,317.9 585.6,316.2 586.2,314.5 586.7,312.8 587.2,311.1 587.7,309.4 588.2,307.7 588.7,306.0 589.2,304.3 589.8,302.6 590.3,301.0 590.8,299.3 591.3,297.7 591.8,296.1 592.3,294.5 592.8,293.0 593.4,291.4 593.9,289.9 594.4,288.4 594.9,287.0 595.4,285.5 595.9,284.1 596.4,282.8 597.0,281.5 597.5,280.2 598.0,278.9 598.5,277.7 599.0,276.5 599.5,275.3 600.0,274.2 600.6,273.1 601.1,272.1 601.6,271.1 602.1,270.1 602.6,269.2 603.1,268.3 603.6,267.5 604.2,266.7 604.7,265.9 605.2,265.2 605.7,264.5 606.2,263.8 606.7,263.2 607.2,262.7 607.8,262.1 608.3,261.6 608.8,261.1 609.3,260.7 609.8,260.3 610.3,259.9 610.8,259.6 611.4,259.3 611.9,259.0 612.4,258.7 612.9,258.5 613.4,258.3 613.9,258.1 614.4,258.0 615.0,257.9 615.5,257.7 616.0,257.7 616.5,257.6 617.0,257.5 617.5,257.5 618.0,257.4 618.6,257.4 619.1,257.4 619.6,257.4 620.1,257.4 620.6,257.4 621.1,257.5 621.6,257.8 622.2,258.2 622.7,258.6 623.2,259.1 623.7,259.6 624.2,260.2 624.7,260.9 625.2,261.6 625.8,262.3 626.3,263.1 626.8,263.9 627.3,264.8 627.8,265.7 628.3,266.6 628.8,267.6 629.4,268.6 629.9,269.6 630.4,270.7 630.9,271.7 631.4,272.8 631.9,273.9 632.4,275.1 633.0,276.2 633.5,277.4 634.0,278.6 634.5,279.8 635.0,281.0 635.5,282.2 636.0,283.4 636.6,284.7 637.1,285.9 637.6,287.2 638.1,288.4 638.6,289.7 639.1,291.0 639.6,292.3 640.2,293.5 640.7,294.8 641.2,296.1 641.7,297.4 642.2,298.7 642.7,300.0 643.2,301.2 643.8,302.5 644.3,303.8 644.8,305.0 645.3,306.3 645.8,307.6 646.3,308.8 646.8,310.1 647.4,311.3 647.9,312.5 648.4,313.7 648.9,314.9 649.4,316.1 649.9,317.3 650.4,318.5 651.0,319.7 651.5,320.9 652.0,322.0 652.5,323.1 653.0,324.3 653.5,325.4 654.0,326.5 654.6,327.6 655.1,328.7 655.6,329.7 656.1,330.8 656.6,331.8 657.1,332.8 657.6,333.8 658.2,334.8 658.7,335.8 659.2,336.8 659.7,337.7 660.2,338.7 660.7,339.6 661.3,340.5 661.8,341.4 662.3,342.3 662.8,343.2 663.3,344.0 663.8,344.9 664.3,345.7 664.9,346.5 665.4,347.3 665.9,348.1 666.4,348.9 666.9,349.6 667.4,350.4 667.9,351.1 668.5,351.8 669.0,352.5 669.5,353.2 670.0,353.9 670.5,354.5 671.0,355.2 671.5,355.8 672.1,356.4 672.6,357.0 673.1,357.6 673.6,358.2 674.1,358.8 674.6,359.3 675.1,359.9 675.7,360.4 676.2,360.9 676.7,361.4 677.2,361.9 677.7,362.4 678.2,362.9 678.7,363.4 679.3,363.8 679.8,364.2 680.3,364.7 680.8,365.1 681.3,365.5 681.8,365.9 682.3,366.3 682.9,366.7 683.4,367.0 683.9,367.4 684.4,367.8 684.9,368.1 685.4,368.4 685.9,368.8 686.5,369.1 687.0,369.4 687.5,369.7 688.0,370.0 688.5,370.2 689.0,370.5 689.5,370.8 690.1,371.0 690.6,371.3 691.1,371.5 691.6,371.8 692.1,372.0 692.6,372.2 693.1,372.5 693.7,372.7 694.2,372.9 694.7,373.1 695.2,373.3 695.7,373.5 696.2,373.6 696.7,373.8 697.3,374.0 697.8,374.2 698.3,374.3 698.8,374.5 699.3,374.6 699.8,374.8 700.3,374.9 700.9,375.1 701.4,375.2 701.9,375.3 702.4,375.4 702.9,375.6 703.4,375.7 703.9,375.8 704.5,375.9 705.0,376.0 705.5,376.1 706.0,376.2 706.5,376.3 707.0,376.4 707.5,376.5 708.1,376.6 708.6,376.7 709.1,376.7 709.6,376.8 710.1,376.9 710.6,377.0 711.1,377.0 711.7,377.1" fill="none" stroke="#00f0ff" stroke-width="1.6" stroke-linejoin="round" stroke-linecap="round"/>
<path d="M563.5,358.1 564.0,357.8 564.6,357.4 565.1,357.1 565.6,356.7 566.1,356.2 566.6,355.7 567.1,355.2 567.6,354.7 568.2,354.1 568.7,353.5 569.2,352.9 569.7,352.3 570.2,351.6 570.7,350.9 571.2,350.2 571.8,349.5 572.3,348.8 572.8,348.0 573.3,347.2 573.8,346.4 574.3,345.7 574.8,344.8 575.4,344.0 575.9,343.2 576.4,342.3 576.9,341.4 577.4,340.4 577.9,339.4 578.4,338.3 579.0,337.2 579.5,336.0 580.0,334.8 580.5,333.5 581.0,332.3 581.5,331.0 582.0,329.6 582.6,328.3 583.1,326.8 583.6,325.4 584.1,323.8 584.6,322.2 585.1,320.6 585.6,318.9 586.2,317.1 586.7,315.3 587.2,313.6 587.7,311.7 588.2,309.9 588.7,308.0 589.2,306.0 589.8,304.0 590.3,301.9 590.8,299.8 591.3,297.7 591.8,295.5 592.3,293.4 592.8,291.2 593.4,289.0 593.9,286.8 594.4,284.6 594.9,282.4 595.4,280.0 595.9,277.7 596.4,275.2 597.0,272.8 597.5,270.4 598.0,268.0 598.5,265.8 599.0,263.6 599.5,261.7 600.0,259.8 600.6,257.7 601.1,255.7 601.6,254.0 602.1,252.9 602.6,252.6 603.1,252.8 603.6,253.5 604.2,254.5 604.7,255.7 605.2,257.1 605.7,258.4 606.2,259.8 606.7,260.9 607.2,261.9 607.8,262.9 608.3,263.9 608.8,264.9 609.3,265.8 609.8,266.6 610.3,267.2 610.8,267.7 611.4,268.1 611.9,268.5 612.4,268.9 612.9,269.2 613.4,269.4 613.9,269.6 614.4,269.6 615.0,269.6 615.5,269.4 616.0,269.1 616.5,268.8 617.0,268.4 617.5,268.0 618.0,267.6 618.6,267.1 619.1,266.4 619.6,265.5 620.1,264.6 620.6,263.6 621.1,262.6 621.6,261.7 622.2,260.7 622.7,259.8 623.2,258.8 623.7,257.8 624.2,256.8 624.7,255.8 625.2,255.0 625.8,254.1 626.3,253.2 626.8,252.2 627.3,251.5 627.8,251.0 628.3,250.9 628.8,251.5 629.4,252.8 629.9,254.6 630.4,256.6 630.9,258.7 631.4,260.7 631.9,262.6 632.4,264.6 633.0,266.7 633.5,268.8 634.0,271.0 634.5,273.2 635.0,275.3 635.5,277.3 636.0,279.4 636.6,281.4 637.1,283.4 637.6,285.3 638.1,287.2 638.6,288.9 639.1,290.5 639.6,292.0 640.2,293.5 640.7,294.8 641.2,296.1 641.7,297.4 642.2,298.7 642.7,299.9 643.2,301.0 643.8,302.2 644.3,303.4 644.8,304.5 645.3,305.6 645.8,306.8 646.3,308.0 646.8,309.1 647.4,310.4 647.9,311.6 648.4,312.9 648.9,314.2 649.4,315.6 649.9,316.9 650.4,318.3 651.0,319.7 651.5,321.1 652.0,322.4 652.5,323.8 653.0,325.1 653.5,326.4 654.0,327.7 654.6,328.9 655.1,330.1 655.6,331.2 656.1,332.3 656.6,333.3 657.1,334.2 657.6,335.0 658.2,335.9 658.7,336.6 659.2,337.4 659.7,338.1 660.2,338.8 660.7,339.4 661.3,340.1 661.8,340.7 662.3,341.3 662.8,341.9 663.3,342.5 663.8,343.1 664.3,343.6 664.9,344.2 665.4,344.7 665.9,345.3 666.4,345.8 666.9,346.4 667.4,346.9 667.9,347.4 668.5,348.0 669.0,348.5 669.5,349.1 670.0,349.7 670.5,350.2 671.0,350.8 671.5,351.3 672.1,351.9 672.6,352.4 673.1,353.0 673.6,353.5 674.1,354.1 674.6,354.6 675.1,355.1 675.7,355.6 676.2,356.1 676.7,356.6 677.2,357.1 677.7,357.6 678.2,358.1 678.7,358.5 679.3,359.0 679.8,359.4 680.3,359.8 680.8,360.2 681.3,360.6 681.8,360.9 682.3,361.3 682.9,361.6 683.4,362.0 683.9,362.3 684.4,362.7 684.9,363.0 685.4,363.3 685.9,363.6 686.5,363.9 687.0,364.2 687.5,364.5 688.0,364.8 688.5,365.1 689.0,365.4 689.5,365.7 690.1,366.0 690.6,366.2 691.1,366.5 691.6,366.8 692.1,367.0 692.6,367.3 693.1,367.5 693.7,367.7 694.2,368.0 694.7,368.2 695.2,368.4 695.7,368.6 696.2,368.8 696.7,369.0 697.3,369.2 697.8,369.4 698.3,369.6 698.8,369.8 699.3,369.9 699.8,370.1 700.3,370.3 700.9,370.5 701.4,370.6 701.9,370.8 702.4,371.0 702.9,371.1 703.4,371.3 703.9,371.4 704.5,371.6 705.0,371.7 705.5,371.9 706.0,372.0 706.5,372.1 707.0,372.3 707.5,372.4 708.1,372.5 708.6,372.6 709.1,372.7 709.6,372.8 710.1,372.9 710.6,373.0 711.1,373.1 711.7,373.2" fill="none" stroke="#ffff00" stroke-width="1.6" stroke-linejoin="round" stroke-linecap="round"/>
<path d="M564.5,374.7 565.0,374.1 565.5,373.6 566.1,373.0 566.6,372.3 567.1,371.7 567.6,370.9 568.1,370.2 568.6,369.4 569.1,368.6 569.7,367.7 570.2,366.8 570.7,365.8 571.2,364.8 571.7,363.7 572.2,362.6 572.7,361.5 573.3,360.3 573.8,359.0 574.3,357.7 574.8,356.4 575.3,355.0 575.8,353.6 576.3,352.1 576.9,350.6 577.4,349.0 577.9,347.4 578.4,345.7 578.9,344.1 579.4,342.3 579.9,340.6 580.5,338.8 581.0,336.9 581.5,335.1 582.0,333.2 582.5,331.3 583.0,329.3 583.5,327.3 584.1,325.4 584.6,323.4 585.1,321.3 585.6,319.3 586.1,317.3 586.6,315.2 587.1,313.2 587.7,311.1 588.2,309.1 588.7,307.0 589.2,305.0 589.7,303.0 590.2,301.0 590.7,299.0 591.3,297.0 591.8,295.1 592.3,293.2 592.8,291.3 593.3,289.4 593.8,287.6 594.3,285.8 594.9,284.0 595.4,282.3 595.9,280.6 596.4,278.9 596.9,277.3 597.4,275.8 597.9,274.3 598.5,272.8 599.0,271.4 599.5,270.0 600.0,268.7 600.5,267.5 601.0,266.3 601.5,265.1 602.1,264.0 602.6,262.9 603.1,261.9 603.6,261.0 604.1,260.1 604.6,259.3 605.1,258.5 605.7,257.7 606.2,257.0 606.7,256.4 607.2,255.8 607.7,255.3 608.2,254.8 608.7,254.3 609.3,253.9 609.8,253.5 610.3,253.2 610.8,252.9 611.3,252.6 611.8,252.4 612.3,252.2 612.9,252.0 613.4,251.9 613.9,251.7 614.4,251.6 614.9,251.6 615.4,251.5 615.9,251.5 616.5,251.5 617.0,251.4 617.5,251.4 618.0,251.4 618.5,251.5 619.0,251.6 619.5,251.8 620.1,252.1 620.6,252.4 621.1,252.7 621.6,253.1 622.1,253.6 622.6,254.1 623.1,254.6 623.7,255.2 624.2,255.9 624.7,256.5 625.2,257.2 625.7,258.0 626.2,258.7 626.7,259.5 627.3,260.4 627.8,261.3 628.3,262.2 628.8,263.1 629.3,264.1 629.8,265.0 630.3,266.0 630.9,267.1 631.4,268.1 631.9,269.2 632.4,270.3 632.9,271.4 633.4,272.6 634.0,273.7 634.5,274.9 635.0,276.1 635.5,277.3 636.0,278.5 636.5,279.8 637.0,281.0 637.6,282.3 638.1,283.5 638.6,284.8 639.1,286.1 639.6,287.4 640.1,288.7 640.6,290.0 641.2,291.3 641.7,292.6 642.2,293.9 642.7,295.2 643.2,296.5 643.7,297.9 644.2,299.2 644.8,300.5 645.3,301.8 645.8,303.1 646.3,304.4 646.8,305.7 647.3,307.0 647.8,308.3 648.4,309.6 648.9,310.9 649.4,312.2 649.9,313.5 650.4,314.7 650.9,316.0 651.4,317.2 652.0,318.5 652.5,319.7 653.0,320.9 653.5,322.1 654.0,323.3 654.5,324.5 655.0,325.7 655.6,326.8 656.1,328.0 656.6,329.1 657.1,330.2 657.6,331.3 658.1,332.4 658.6,333.5 659.2,334.6 659.7,335.6 660.2,336.7 660.7,337.7 661.2,338.7 661.7,339.7 662.2,340.7 662.8,341.7 663.3,342.6 663.8,343.6 664.3,344.5 664.8,345.4 665.3,346.3 665.8,347.2 666.4,348.0 666.9,348.9 667.4,349.7 667.9,350.5 668.4,351.4 668.9,352.1 669.4,352.9 670.0,353.7 670.5,354.4 671.0,355.1 671.5,355.9 672.0,356.6 672.5,357.2 673.0,357.9 673.6,358.6 674.1,359.2 674.6,359.8 675.1,360.5 675.6,361.1 676.1,361.7 676.6,362.2 677.2,362.8 677.7,363.3 678.2,363.9 678.7,364.4 679.2,364.9 679.7,365.4 680.2,365.9 680.8,366.4 681.3,366.8 681.8,367.3 682.3,367.7 682.8,368.1 683.3,368.6 683.8,369.0 684.4,369.3 684.9,369.7 685.4,370.1 685.9,370.5 686.4,370.8 686.9,371.2 687.4,371.5 688.0,371.8 688.5,372.1 689.0,372.4 689.5,372.7 690.0,373.0 690.5,373.3 691.0,373.6 691.6,373.8 692.1,374.1 692.6,374.3 693.1,374.6 693.6,374.8 694.1,375.0 694.6,375.3 695.2,375.5 695.7,375.7 696.2,375.9 696.7,376.1 697.2,376.2 697.7,376.4 698.2,376.6 698.8,376.8 699.3,376.9 699.8,377.1 700.3,377.2 700.8,377.4 701.3,377.5 701.8,377.7 702.4,377.8 702.9,377.9 703.4,378.0 703.9,378.2 704.4,378.3 704.9,378.4 705.4,378.5 706.0,378.6 706.5,378.7 707.0,378.8 707.5,378.9 708.0,379.0 708.5,379.0 709.0,379.1 709.6,379.2" fill="none" stroke="#0000ff" stroke-width="1.6" stroke-linejoin="round" stroke-linecap="round"/>
<path d="M563.5,367.9 564.0,367.3 564.6,366.6 565.1,365.9 565.6,365.1 566.1,364.3 566.6,363.5 567.1,362.7 567.6,361.8 568.2,360.9 568.7,360.0 569.2,359.0 569.7,358.0 570.2,357.0 570.7,355.9 571.2,354.8 571.8,353.7 572.3,352.5 572.8,351.3 573.3,350.1 573.8,348.9 574.3,347.6 574.8,346.3 575.4,345.0 575.9,343.6 576.4,342.3 576.9,340.8 577.4,339.4 577.9,338.0 578.4,336.5 579.0,335.0 579.5,333.5 580.0,331.9 580.5,330.4 581.0,328.8 581.5,327.2 582.0,325.6 582.6,324.0 583.1,322.4 583.6,320.7 584.1,319.1 584.6,317.5 585.1,315.8 585.6,314.2 586.2,312.5 586.7,310.9 587.2,309.2 587.7,307.6 588.2,305.9 588.7,304.3 589.2,302.7 589.8,301.0 590.3,299.4 590.8,297.8 591.3,296.3 591.8,294.7 592.3,293.2 592.8,291.7 593.4,290.2 593.9,288.7 594.4,287.2 594.9,285.8 595.4,284.4 595.9,283.0 596.4,281.7 597.0,280.4 597.5,279.1 598.0,277.8 598.5,276.6 599.0,275.4 599.5,274.3 600.0,273.2 600.6,272.1 601.1,271.1 601.6,270.0 602.1,269.1 602.6,268.1 603.1,267.2 603.6,266.4 604.2,265.6 604.7,264.8 605.2,264.0 605.7,263.3 606.2,262.6 606.7,262.0 607.2,261.4 607.8,260.8 608.3,260.3 608.8,259.8 609.3,259.3 609.8,258.9 610.3,258.5 610.8,258.2 611.4,257.8 611.9,257.5 612.4,257.2 612.9,257.0 613.4,256.8 613.9,256.6 614.4,256.4 615.0,256.3 615.5,256.1 616.0,256.0 616.5,256.0 617.0,255.9 617.5,255.8 618.0,255.8 618.6,255.8 619.1,255.8 619.6,255.8 620.1,255.8 620.6,256.0 621.1,256.3 621.6,256.7 622.2,257.3 622.7,257.9 623.2,258.5 623.7,259.2 624.2,260.0 624.7,260.8 625.2,261.6 625.8,262.5 626.3,263.4 626.8,264.3 627.3,265.3 627.8,266.3 628.3,267.3 628.8,268.4 629.4,269.5 629.9,270.6 630.4,271.7 630.9,272.8 631.4,273.9 631.9,275.1 632.4,276.2 633.0,277.4 633.5,278.6 634.0,279.8 634.5,281.0 635.0,282.2 635.5,283.4 636.0,284.7 636.6,285.9 637.1,287.1 637.6,288.4 638.1,289.6 638.6,290.8 639.1,292.1 639.6,293.3 640.2,294.5 640.7,295.8 641.2,297.0 641.7,298.2 642.2,299.4 642.7,300.7 643.2,301.9 643.8,303.1 644.3,304.3 644.8,305.5 645.3,306.7 645.8,307.8 646.3,309.0 646.8,310.2 647.4,311.3 647.9,312.5 648.4,313.6 648.9,314.8 649.4,315.9 649.9,317.0 650.4,318.1 651.0,319.2 651.5,320.3 652.0,321.3 652.5,322.4 653.0,323.4 653.5,324.5 654.0,325.5 654.6,326.5 655.1,327.5 655.6,328.5 656.1,329.5 656.6,330.5 657.1,331.4 657.6,332.4 658.2,333.3 658.7,334.2 659.2,335.1 659.7,336.0 660.2,336.9 660.7,337.8 661.3,338.6 661.8,339.5 662.3,340.3 662.8,341.1 663.3,341.9 663.8,342.7 664.3,343.5 664.9,344.3 665.4,345.0 665.9,345.8 666.4,346.5 666.9,347.2 667.4,347.9 667.9,348.6 668.5,349.3 669.0,350.0 669.5,350.6 670.0,351.3 670.5,351.9 671.0,352.6 671.5,353.2 672.1,353.8 672.6,354.4 673.1,355.0 673.6,355.5 674.1,356.1 674.6,356.6 675.1,357.2 675.7,357.7 676.2,358.2 676.7,358.7 677.2,359.2 677.7,359.7 678.2,360.2 678.7,360.7 679.3,361.1 679.8,361.6 680.3,362.0 680.8,362.5 681.3,362.9 681.8,363.3 682.3,363.7 682.9,364.1 683.4,364.5 683.9,364.9 684.4,365.2 684.9,365.6 685.4,365.9 685.9,366.3 686.5,366.6 687.0,367.0 687.5,367.3 688.0,367.6 688.5,367.9 689.0,368.2 689.5,368.5 690.1,368.8 690.6,369.1 691.1,369.4 691.6,369.6 692.1,369.9 692.6,370.2 693.1,370.4 693.7,370.6 694.2,370.9 694.7,371.1 695.2,371.3 695.7,371.6 696.2,371.8 696.7,372.0 697.3,372.2 697.8,372.4 698.3,372.6 698.8,372.8 699.3,373.0 699.8,373.1 700.3,373.3 700.9,373.5 701.4,373.7 701.9,373.8 702.4,374.0 702.9,374.1 703.4,374.3 703.9,374.4 704.5,374.6 705.0,374.7 705.5,374.8 706.0,375.0 706.5,375.1 707.0,375.2 707.5,375.3 708.1,375.5 708.6,375.6 709.1,375.7 709.6,375.8 710.1,375.9 710.6,376.0 711.1,376.1 711.7,376.2" fill="none" stroke="#00ee00" stroke-width="1.6" stroke-linejoin="round" stroke-linecap="round"/>
<path d="M563.5,364.6 564.0,363.5 564.6,362.4 565.1,361.3 565.6,360.3 566.1,359.2 566.6,358.1 567.1,357.1 567.6,356.0 568.2,354.9 568.7,353.9 569.2,352.8 569.7,351.8 570.2,350.8 570.7,349.7 571.2,348.7 571.8,347.7 572.3,346.7 572.8,345.7 573.3,344.7 573.8,343.7 574.3,342.8 574.8,341.8 575.4,340.9 575.9,340.0 576.4,339.1 576.9,338.1 577.4,337.2 577.9,336.3 578.4,335.4 579.0,334.4 579.5,333.4 580.0,332.4 580.5,331.3 581.0,330.2 581.5,329.0 582.0,327.8 582.6,326.4 583.1,325.1 583.6,323.6 584.1,322.1 584.6,320.5 585.1,318.9 585.6,317.3 586.2,315.6 586.7,313.9 587.2,312.2 587.7,310.4 588.2,308.7 588.7,306.9 589.2,305.2 589.8,303.4 590.3,301.7 590.8,299.9 591.3,298.2 591.8,296.5 592.3,294.7 592.8,293.0 593.4,291.4 593.9,289.7 594.4,288.0 594.9,286.4 595.4,284.8 595.9,283.3 596.4,281.7 597.0,280.2 597.5,278.8 598.0,277.3 598.5,275.9 599.0,274.6 599.5,273.3 600.0,272.0 600.6,270.8 601.1,269.6 601.6,268.4 602.1,267.3 602.6,266.3 603.1,265.3 603.6,264.3 604.2,263.4 604.7,262.6 605.2,261.8 605.7,261.0 606.2,260.3 606.7,259.7 607.2,259.1 607.8,258.6 608.3,258.0 608.8,257.6 609.3,257.2 609.8,256.8 610.3,256.5 610.8,256.2 611.4,255.9 611.9,255.7 612.4,255.5 612.9,255.3 613.4,255.2 613.9,255.1 614.4,255.0 615.0,255.0 615.5,255.0 616.0,255.0 616.5,255.0 617.0,255.1 617.5,255.2 618.0,255.3 618.6,255.5 619.1,255.7 619.6,255.8 620.1,256.1 620.6,256.3 621.1,256.6 621.6,256.9 622.2,257.2 622.7,257.5 623.2,257.9 623.7,258.3 624.2,258.7 624.7,259.1 625.2,259.6 625.8,260.1 626.3,260.6 626.8,261.1 627.3,261.7 627.8,262.3 628.3,262.9 628.8,263.6 629.4,264.4 629.9,265.2 630.4,266.0 630.9,266.9 631.4,267.8 631.9,268.8 632.4,269.9 633.0,271.0 633.5,272.2 634.0,273.4 634.5,274.7 635.0,276.1 635.5,277.5 636.0,278.9 636.6,280.4 637.1,281.9 637.6,283.5 638.1,285.0 638.6,286.6 639.1,288.3 639.6,289.9 640.2,291.6 640.7,293.2 641.2,294.9 641.7,296.6 642.2,298.2 642.7,299.9 643.2,301.5 643.8,303.1 644.3,304.7 644.8,306.3 645.3,307.8 645.8,309.3 646.3,310.8 646.8,312.3 647.4,313.6 647.9,315.0 648.4,316.3 648.9,317.6 649.4,318.8 649.9,320.0 650.4,321.2 651.0,322.3 651.5,323.4 652.0,324.5 652.5,325.5 653.0,326.5 653.5,327.5 654.0,328.4 654.6,329.3 655.1,330.2 655.6,331.0 656.1,331.9 656.6,332.7 657.1,333.4 657.6,334.2 658.2,334.9 658.7,335.6 659.2,336.3 659.7,337.0 660.2,337.6 660.7,338.3 661.3,338.9 661.8,339.5 662.3,340.1 662.8,340.7 663.3,341.2 663.8,341.8 664.3,342.3 664.9,342.9 665.4,343.4 665.9,343.9 666.4,344.4 666.9,345.0 667.4,345.5 667.9,346.0 668.5,346.5 669.0,347.0 669.5,347.5 670.0,348.1 670.5,348.6 671.0,349.1 671.5,349.6 672.1,350.1 672.6,350.7 673.1,351.2 673.6,351.7 674.1,352.2 674.6,352.8 675.1,353.3 675.7,353.8 676.2,354.3 676.7,354.8 677.2,355.3 677.7,355.8 678.2,356.4 678.7,356.9 679.3,357.4 679.8,357.9 680.3,358.4 680.8,358.8 681.3,359.3 681.8,359.8 682.3,360.3 682.9,360.8 683.4,361.2 683.9,361.7 684.4,362.1 684.9,362.6 685.4,363.0 685.9,363.5 686.5,363.9 687.0,364.4 687.5,364.8 688.0,365.2 688.5,365.6 689.0,366.0 689.5,366.4 690.1,366.8 690.6,367.2 691.1,367.6 691.6,367.9 692.1,368.3 692.6,368.7 693.1,369.0 693.7,369.4 694.2,369.7 694.7,370.0 695.2,370.4 695.7,370.7 696.2,371.0 696.7,371.3 697.3,371.6 697.8,371.8 698.3,372.1 698.8,372.4 699.3,372.6 699.8,372.9 700.3,373.1 700.9,373.4 701.4,373.6 701.9,373.8 702.4,374.0 702.9,374.2 703.4,374.4 703.9,374.6 704.5,374.8 705.0,375.0 705.5,375.2 706.0,375.4 706.5,375.6 707.0,375.7 707.5,375.9 708.1,376.1 708.6,376.2 709.1,376.4 709.6,376.6 710.1,376.7 710.6,376.9 711.1,377.1 711.7,377.2" fill="none" stroke="#000000" stroke-width="1.25" stroke-linejoin="round" stroke-linecap="round"/>
</g>
<rect x="540.5" y="242.3" width="184.7" height="136.7" fill="none" stroke="#b4b4b4" stroke-width="1"/>
<path d="M540.5,379 v-2 M540.5,242.3 v2" stroke="#b4b4b4" stroke-width="0.8"/>
<text transform="translate(540.5,390) scale(1,1.1)" text-anchor="middle" font-size="9" fill="#000">1995</text>
<path d="M602.07,379 v-2 M602.07,242.3 v2" stroke="#b4b4b4" stroke-width="0.8"/>
<text transform="translate(602.07,390) scale(1,1.1)" text-anchor="middle" font-size="9" fill="#000">2000</text>
<path d="M663.63,379 v-2 M663.63,242.3 v2" stroke="#b4b4b4" stroke-width="0.8"/>
<text transform="translate(663.63,390) scale(1,1.1)" text-anchor="middle" font-size="9" fill="#000">2005</text>
<path d="M725.2,379 v-2 M725.2,242.3 v2" stroke="#b4b4b4" stroke-width="0.8"/>
<text transform="translate(725.2,390) scale(1,1.1)" text-anchor="middle" font-size="9" fill="#000">2010</text>
<path d="M540.5,379 h2 M725.2,379 h-2" stroke="#b4b4b4" stroke-width="0.8"/>
<text transform="translate(538.5,382.9) scale(1,1.1)" text-anchor="end" font-size="9" fill="#000">0</text>
<path d="M540.5,344.82 h2 M725.2,344.82 h-2" stroke="#b4b4b4" stroke-width="0.8"/>
<text transform="translate(538.5,348.72) scale(1,1.1)" text-anchor="end" font-size="9" fill="#000">50</text>
<path d="M540.5,310.65 h2 M725.2,310.65 h-2" stroke="#b4b4b4" stroke-width="0.8"/>
<text transform="translate(538.5,314.55) scale(1,1.1)" text-anchor="end" font-size="9" fill="#000">100</text>
<path d="M540.5,276.48 h2 M725.2,276.48 h-2" stroke="#b4b4b4" stroke-width="0.8"/>
<text transform="translate(538.5,280.38) scale(1,1.1)" text-anchor="end" font-size="9" fill="#000">150</text>
<path d="M540.5,242.3 h2 M725.2,242.3 h-2" stroke="#b4b4b4" stroke-width="0.8"/>
<text transform="translate(538.5,246.2) scale(1,1.1)" text-anchor="end" font-size="9" fill="#000">200</text>
<text x="632.85" y="234.2" text-anchor="middle" font-size="12.6" fill="#000">Cycle 23</text>
<text x="634.35" y="401" text-anchor="middle" font-size="12.2" fill="#000">DATA</text>
<text transform="translate(517.7,310.65) rotate(-90)" text-anchor="middle" font-size="11.5" fill="#000">SUNSPOT NUMBER</text>
<text x="627.5" y="422.1" text-anchor="middle" font-family="Liberation Serif, serif" font-size="14.4" fill="#222">(f)</text>
<rect x="674.9" y="245.5" width="48" height="67.7" fill="#fff" stroke="#b4b4b4" stroke-width="1"/>
<circle cx="686.9" cy="252" r="1.9" fill="none" stroke="#777" stroke-width="0.8"/>
<text transform="translate(697.9,254.9) scale(1,1)" font-size="9.8" fill="#000">SN</text>
<path d="M678.6,263 h18" stroke="#00f0ff" stroke-width="1.4"/>
<text transform="translate(697.9,265.9) scale(1,1)" font-size="9.8" fill="#000">Fit−P</text>
<path d="M678.6,274 h18" stroke="#ffff00" stroke-width="1.4"/>
<text transform="translate(697.9,276.9) scale(1,1)" font-size="9.8" fill="#000">Fit−L</text>
<path d="M678.6,285 h18" stroke="#0000ff" stroke-width="1.4"/>
<text transform="translate(697.9,287.9) scale(1,1)" font-size="9.8" fill="#000">Fit−D</text>
<path d="M678.6,296 h18" stroke="#00ee00" stroke-width="1.4"/>
<text transform="translate(697.9,298.9) scale(1,1)" font-size="9.8" fill="#000">Fit−G</text>
<path d="M678.6,307 h18" stroke="#000000" stroke-width="1.1"/>
<text transform="translate(697.9,309.9) scale(1,1)" font-size="9.8" fill="#000">Fit−C</text>
</svg>
</body></html>
